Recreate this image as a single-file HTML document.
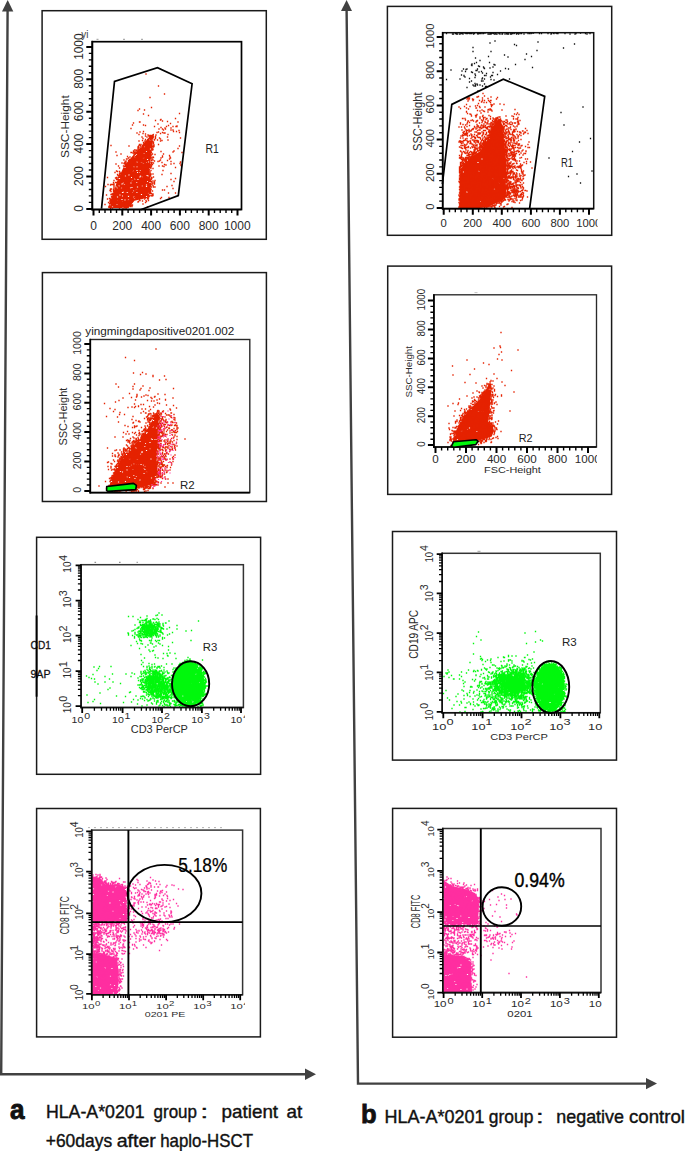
<!DOCTYPE html>
<html><head><meta charset="utf-8"><style>html,body{margin:0;padding:0;background:#fff;width:685px;height:1151px;overflow:hidden}svg{display:block}</style></head>
<body><svg width="685" height="1151" viewBox="0 0 685 1151" font-family="Liberation Sans, sans-serif"><rect width="685" height="1151" fill="#fff"/><path d="M7.6 10L1.2 1074.3H306" stroke="#414141" stroke-width="2.4" fill="none"/><path d="M7.7 0L13.3 11.5H2z" fill="#414141"/><path d="M316 1074.3L305 1068.5V1080.1z" fill="#414141"/><path d="M346.6 10L358 1083.6H647" stroke="#414141" stroke-width="2.4" fill="none"/><path d="M346.6 0L352 11H341z" fill="#414141"/><path d="M657 1083.6L646 1078V1089.2z" fill="#414141"/><rect x="42.1" y="10.7" width="224.20" height="228.60" fill="none" stroke="#1a1a1a" stroke-width="1.5"/><rect x="42.4" y="272.6" width="224.00" height="228.90" fill="none" stroke="#1a1a1a" stroke-width="1.5"/><rect x="36.6" y="537.3" width="224.00" height="237.00" fill="none" stroke="#1a1a1a" stroke-width="1.5"/><rect x="36.6" y="808.5" width="223.80" height="228.40" fill="none" stroke="#1a1a1a" stroke-width="1.5"/><rect x="387.4" y="6.4" width="224.30" height="228.90" fill="none" stroke="#1a1a1a" stroke-width="1.5"/><rect x="387.7" y="266.1" width="223.90" height="228.30" fill="none" stroke="#1a1a1a" stroke-width="1.5"/><rect x="392.5" y="531.5" width="224.00" height="228.60" fill="none" stroke="#1a1a1a" stroke-width="1.5"/><rect x="392.6" y="808.4" width="223.90" height="228.80" fill="none" stroke="#1a1a1a" stroke-width="1.5"/><path d="M108.1 208.0L116.9 181.8L124.2 165.7L133.0 155.5L143.2 143.8L151.2 135.0L154.1 133.6L152.7 143.8L150.5 161.3L149.7 173.0L151.2 181.8L151.2 193.4L147.6 197.8L134.4 200.7L128.6 208.0z" fill="#e52200"/><path transform="scale(0.5)" stroke="#fff" stroke-width="2.4" stroke-linecap="square" fill="none" d="M258 350h0m5 5h0m11 30h0m2-26h0m-19 34h0m7-31h0m-2 4h0m31 7h0m-6-46h0m7-2h0m6 12h0m-12-30h0m2-13h0m-22 40h0m-34 42h0m10 23h0m51-36h0m-70 51h0m62-98h0m-48 41h0m11-22h0m19 61h0m31-7h0m-66 20h0m63-52h0m-77 53h0m18-38h0m2 18h0m31-79h0m-39 63h0m36 20h0m5-85h0m28-11h0m-51 102h0m30-46h0m-19 22h0m-15 40h0m38-44h0m-35-3h0m6 16h0m41-33h0m-22-28h0m-4 34h0m13-33h0m1 29h0m-27 38h0m23-51h0m-36 27h0m56-3h0m-43 35h0m-11-34h0m51-42h0m-27-10h0m23 79h0m-19-52h0m-29 51h0m36-40h0m-36 33h0m48-82h0m-19 31h0m0 31h0m5-68h0m3-3h0m-2 51h0m-7 35h0m-21 5h0m48-105h0m2 95h0m-51-23h0m46 34h0m-14 3h0m-8-15h0m-39 27h0m30-16h0m-20 18h0m49-84h0m-28 63h0m23-89h0m-43 91h0m17-9h0m29-5h0m11-90h0m-61 96h0m32-31h0m19 6h0m-59 43h0m31-52h0"/><path transform="scale(0.5)" stroke="#e52200" stroke-width="2.7" stroke-linecap="square" fill="none" d="M250 385h0m21-58h0m30-41h0m-24 32h0m-14 16h0m-30 25h0m63-2h0m-10 30h0m-39 26h0m51-122h0m-5 38h0m-38 40h0m46-85h0m-38 86h0m3-27h0m41-59h0m-50 99h0m6-52h0m19 64h0m3-66h0m12 53h0m-25-56h0m-32 73h0m55-74h0m-15 54h0m-30-42h0m26 29h0m0-51h0m-7 10h0m12 55h0m-8 0h0m-36 21h0m39-19h0m-13-24h0m13-4h0m-49 29h0m-7 20h0m44 1h0m10-68h0m-19 31h0m15-40h0m18-21h0m-1 56h0m-11-13h0m10-47h0m-21 61h0m21 30h0m5-35h0m-4-42h0m-41 27h0m-20 55h0m41-61h0m-29 30h0m45 5h0m-35 4h0m38-27h0m15-19h0m-10 15h0m-57 34h0m36-28h0m-3 34h0m-39-8h0m4 4h0m29-38h0m41-18h0m-5 58h0m-32-13h0m-20 42h0m45-117h0m-54 78h0m-5 10h0m60-39h0m4-28h0m-73 90h0m42-55h0m15-48h0m-29 80h0m41-45h0m-56 44h0m61 8h0m-33-54h0m33-26h0m5-31h0m-32 70h0m-12 27h0m3 32h0m19-107h0m-61 112h0m53-100h0m-19 55h0m34-53h0m-3 1h0m-3 59h0m15-19h0m-31 3h0m-7 12h0m22-13h0m-29 7h0m15 17h0m-32-2h0m18-35h0m33 52h0m-17-21h0m-13-35h0m-28 60h0m69-41h0m-52 44h0m49-109h0m-17 15h0m-24 45h0m17-39h0m-11 10h0m21 54h0m13 16h0m-26 5h0m-9 1h0m28-48h0m-18-27h0m8 71h0m-42-22h0m65 14h0m-46-51h0m-6 65h0m47-84h0m-57 79h0m52-88h0m-5-13h0m-7 89h0m23-30h0m3 13h0m-79 45h0m49-101h0m14-7h0m-51 94h0m21-18h0m10-17h0m19-22h0m-3 0h0m6-53h0m-29 87h0m9-7h0m-11-34h0m-36 64h0m70-97h0m-17 45h0m22 36h0m6-111h0m-41 104h0m37-88h0m-77 122h0m37-4h0m-7-40h0m44-29h0m-42 47h0m43-88h0m-15 24h0m-28 81h0m35-28h0m-65 27h0m59-100h0m-41 73h0m55-72h0m-25 84h0m-37-22h0m62-64h0m-37 25h0m-12 17h0m9-2h0m26 8h0m-12-10h0m29 16h0m-45-4h0m19 10h0m-29 28h0m59-114h0m-20 27h0m-24 61h0m12 27h0m-23 13h0m38-35h0m-25-15h0m25-5h0m5-5h0m-1-19h0m-9-5h0m11 70h0m-8-33h0m-5-54h0m0 26h0m-34 48h0m21-35h0m24 53h0m-14-13h0m5-34h0m21-42h0m-27 6h0m26 3h0m-68 82h0m61-69h0m-17 38h0m-19 25h0m-9-8h0m18 2h0m-11-1h0m27-79h0m-8 86h0m27-74h0m-17-20h0m-51 106h0m-12 15h0m60-120h0m-7 25h0m1 75h0m-9-42h0m12-23h0m-7 20h0m0-20h0m24-41h0m-12 16h0m-25 94h0m40-39h0m-8-19h0m6 34h0m-37-31h0m-14 18h0m44-19h0m1 35h0m-1-89h0m8 101h0m-49-2h0m50-11h0m-27-73h0m10 31h0m2-14h0m-30 68h0m8 19h0m-20-8h0m40-68h0m3 23h0m-28 56h0m21-109h0m20 2h0m-8 86h0m-62 10h0m23-29h0m7-52h0m27 35h0m6 0h0m-35 16h0m18 10h0m12 3h0m-16-36h0m-23-4h0m41-41h0m-19 31h0m29-45h0m-39 64h0m-28 31h0m11 22h0m-16-1h0m54-8h0m-18 5h0m22-95h0m-25 14h0m9 6h0m21 12h0m-40 18h0m23-1h0m-6 23h0m26-51h0m-43 43h0m43-52h0m2 44h0m9 15h0m-21-56h0m20-47h0m-18 48h0m-58 65h0m15 18h0m29-12h0m-16-77h0m5 55h0m10-26h0m23-28h0m-11-13h0m-32 69h0m50-40h0m-50 59h0m20-44h0m21-47h0m2 48h0m-8-31h0m-40 73h0m57-106h0m-28 58h0m21-37h0m-43 79h0m3-12h0m16-50h0m-43 81h0m72-124h0m-4 102h0m-31-64h0m17 9h0m-16 21h0m-11 19h0m15-2h0m28-88h0m-7 90h0m-2 18h0m5-57h0m-54 24h0m41-14h0m10-20h0m-49 79h0m44-34h0m-31 51h0m34-29h0m-21-9h0m36-85h0m-52 116h0m56-110h0m-6 75h0m-57 34h0m23-59h0m37-69h0m-56 99h0m23-74h0m-10 50h0m-26 53h0m54-81h0m-56 50h0m1 9h0m37-63h0m25 32h0m10-55h0m-15-9h0m-8 10h0m-39 50h0m23-27h0m-27 27h0m23 11h0m30-64h0m-55 103h0m23-58h0m3-23h0m35 66h0m-20-4h0m13-90h0m18 74h0m-75-10h0m-11 22h0m13-27h0m57 52h0m18-130h0m-51 41h0m38-42h0m6 97h0m1 21h0m-25 11h0m-1-1h0m-45-44h0m71 26h0m-3-23h0m-65-4h0m69-63h0m-6 52h0m-79 36h0m82-53h0m-26-34h0m28 5h0m-67 54h0m-14 17h0m26-45h0m1 0h0m50 27h0m-19-62h0m-10 11h0m-20 25h0m63-45h0m-20 117h0m-62-55h0m-5 32h0m75-11h0m-76 2h0m0 16h0m82-102h0m-55 39h0m55-38h0m-3 15h0m-3 10h0m-27 99h0m-35-57h0m-8 8h0m13 62h0m57-30h0m-64-51h0m-11 32h0m3-12h0m26-40h0m33-34h0m11 54h0m-35-30h0m45-29h0m-11 70h0m10 27h0m-15 22h0m-71-8h0m-1 6h0m79-65h0m-26-35h0m-48 77h0m7-22h0m67-16h0m-63 15h0m52 57h0m-63-44h0m50-79h0m-61 123h0m90-90h0m-3 1h0m-2 32h0m-83 59h0m81-135h0m-28 30h0m31 53h0m-2-7h0m6-74h0m-15 127h0m5 0h0m10-75h0m-68 90h0m47-8h0m22-115h0m-74 66h0m64-86h0m-47 56h0m36-43h0m-6 6h0m17-21h0m7 95h0m-1 26h0m5-28h0m-78 1h0m63-91h0m8 117h0m5-17h0m-1 17h0m-84-8h0m1 10h0m81-27h0m-1-34h0m-81 57h0m84-90h0m0 15h0m-47 5h0m18 84h0m-56-3h0m48-96h0m5-3h0m-22 21h0m11 88h0m40-89h0m14-32h0m-16 45h0m10-59h0m-9 61h0m6-46h0m-83 126h0m0-28h0m64 10h0m17-10h0m6-118h0m-7 23h0m-38 10h0m-6 110h0m24-11h0m14-10h0m5-74h0m-39 92h0m38-100h0m-39 102h0m43-125h0m-39 21h0m36 9h0m-38-11h0m31 90h0m9-59h0m-10-67h0m-6 13h0m15 25h0m-57 19h0m-21 52h0m52-90h0m27 77h0m-2-10h0m-40 57h0m-1-108h0m22-24h0m22 73h0m2-32h0m-8 13h0m-25-36h0m15-20h0m-22 27h0m40 62h0m-83 19h0m24-59h0m8-36h0m-37 86h0m81-29h0m1 25h0m-68-31h0m79-78h0m-45 35h0m-48 70h0m-5-1h0m26-61h0m82-27h0m-21 77h0m1-33h0m-26-34h0m26 27h0m-2 23h0m-22-77h0m-25 49h0m47 1h0m-70 14h0m44-31h0m11-12h0m23 24h0m-62 11h0m52 24h0m-90 65h0m66-114h0m15 110h0m-42-79h0m57 22h0m-5-77h0m-80 109h0m16-48h0m73 29h0m-48-56h0m-42 98h0m85-74h0m-61-3h0m72-3h0m5-41h0m-106 116h0m20-39h0m86-92h0m-15 123h0m-54-64h0m54 45h0m-11 43h0m-11-140h0m-31 44h0m-31-27h0m100 25h0m-16 4h0m-56 96h0m-24-47h0m1 11h0m-16-7h0m4-18h0m5 26h0m12-77h0m-19 86h0m61-124h0m35 13h0m-90 118h0m15-86h0m72 51h0m-76-17h0m94 4h0m-103 49h0m65-131h0m-47 76h0m59 50h0m-51-61h0m49 66h0m-74-29h0m77 23h0m2-40h0m-61-7h0m27-43h0m33-107h0m-22 74h0m25-54h0m-17 62h0m31-105h0m19 108h0m-45-12h0m27 64h0m-26-184h0m17 105h0m16 5h0m-28-27h0m-6 41h0m46-21h0m-57-7h0m-13 2h0m68-3h0m-6-55h0m-50 56h0m-14 6h0m11 48h0m54-32h0m-41-46h0m-11 76h0m-16-39h0m29-6h0m30 27h0m9-22h0m-51-38h0m8 45h0m44-5h0m2-5h0m-57-32h0m71 42h0m-36-22h0m7 17h0m-31-8h0m0-22h0m69 69h0m6 33h0m-33 50h0m-13-132h0m23 63h0m3 48h0m-14-93h0m-3 46h0m31-68h0m-30 97h0m-1-99h0m0 72h0m9 59h0m3 13h0m-14 9h0m29-142h0m-1 82h0m-29-80h0m37 37h0m-38 28h0m25-67h0m-21 79h0m-8-68h0m25 83h0m-20-44h0m29-66h0m-10 10h0m-13 86h0m31-106h0m0 38h0m-5-12h0m0-1h0m7 72h0m-13 39h0m3-6h0m-26 23h0m2-120h0m12 58h0m2-2h0m-17 9h0m34-64h0m-37-21h0m21 16h0m-21 141h0m40-121h0m3 29h0m-22-45h0m18 67h0m-22 68h0m-2-126h0m-7 60h0m-4-64h0m19 106h0m-9-97h0m11 30h0m-4 19h0m4 54h0m-27-101h0m29 26h0m-29 20h0m13 8h0m-10-91h0m29 147h0m-9-58h0m4-68h0m16 71h0m-22-17h0m-13-6h0m21 19h0m-13-6h0m18-58h0"/><rect x="92.3" y="41.7" width="149.20" height="167.80" fill="none" stroke="#000" stroke-width="1.7"/><line x1="92.3" y1="40.85" x2="92.3" y2="210.35" stroke="#000" stroke-width="1.7"/><line x1="91.45" y1="209.5" x2="241.5" y2="209.5" stroke="#000" stroke-width="1.7"/><text transform="matrix(0,-1.1900,1.2400,0,83.20,211.71)" font-size="10.0" fill="#2a2a2a">0</text><text transform="matrix(0,-1.1900,1.2400,0,83.20,185.99)" font-size="10.0" fill="#2a2a2a">200</text><text transform="matrix(0,-1.1900,1.2400,0,83.20,153.43)" font-size="10.0" fill="#2a2a2a">400</text><text transform="matrix(0,-1.1900,1.2400,0,83.20,121.20)" font-size="10.0" fill="#2a2a2a">600</text><text transform="matrix(0,-1.1900,1.2400,0,83.20,88.75)" font-size="10.0" fill="#2a2a2a">800</text><text transform="matrix(0,-1.1900,1.2400,0,83.20,59.86)" font-size="10.0" fill="#2a2a2a">1000</text><text transform="matrix(1.2000,0,0,1.2300,90.16,229.60)" font-size="10.0" fill="#2a2a2a">0</text><text transform="matrix(1.2000,0,0,1.2300,112.22,229.60)" font-size="10.0" fill="#2a2a2a">200</text><text transform="matrix(1.2000,0,0,1.2300,141.19,229.60)" font-size="10.0" fill="#2a2a2a">400</text><text transform="matrix(1.2000,0,0,1.2300,169.82,229.60)" font-size="10.0" fill="#2a2a2a">600</text><text transform="matrix(1.2000,0,0,1.2300,198.66,229.60)" font-size="10.0" fill="#2a2a2a">800</text><text transform="matrix(1.2000,0,0,1.2300,223.93,229.60)" font-size="10.0" fill="#2a2a2a">1000</text><path d="M86.3 208.9H92.3M86.3 176.5H92.3M86.3 144.1H92.3M86.3 111.7H92.3M86.3 79.3H92.3M86.3 46.9H92.3M93.5 209.5V215.5M122.3 209.5V215.5M151.1 209.5V215.5M179.9 209.5V215.5M208.7 209.5V215.5M237.5 209.5V215.5" stroke="#000" stroke-width="2" fill="none"/><path d="M88.8 202.4H92.3M88.8 195.9H92.3M88.8 189.5H92.3M88.8 183.0H92.3M88.8 170.0H92.3M88.8 163.5H92.3M88.8 157.1H92.3M88.8 150.6H92.3M88.8 137.6H92.3M88.8 131.1H92.3M88.8 124.7H92.3M88.8 118.2H92.3M88.8 105.2H92.3M88.8 98.7H92.3M88.8 92.3H92.3M88.8 85.8H92.3M88.8 72.8H92.3M88.8 66.3H92.3M88.8 59.9H92.3M88.8 53.4H92.3M99.3 209.5V213.0M105.0 209.5V213.0M110.8 209.5V213.0M116.5 209.5V213.0M128.1 209.5V213.0M133.8 209.5V213.0M139.6 209.5V213.0M145.3 209.5V213.0M156.9 209.5V213.0M162.6 209.5V213.0M168.4 209.5V213.0M174.1 209.5V213.0M185.7 209.5V213.0M191.4 209.5V213.0M197.2 209.5V213.0M202.9 209.5V213.0M214.5 209.5V213.0M220.2 209.5V213.0M226.0 209.5V213.0M231.7 209.5V213.0" stroke="#000" stroke-width="1.4" fill="none"/><text transform="matrix(0,-1.1900,1.1316,0,69.10,158.04)" font-size="10.0" font-weight="normal" fill="#2a2a2a">SSC-Height</text><text transform="matrix(1.0458,0,0,1.3518,205.54,153.40)" font-size="10.0" font-weight="normal" fill="#222">R1</text><text transform="matrix(0.9964,0,0,1.1454,81.18,38.20)" font-size="10.0" font-weight="normal" fill="#444">yi</text><path d="M101.5 208.7 L114.5 81.4 L157.5 67.7 L192.1 83.8 L178.3 195.6 L140.7 209.7" stroke="#000" stroke-width="1.7" fill="none" stroke-linejoin="miter"/><path d="M96.5 39.3h2M123 39.3h2M141 39.3h2" stroke="#999" stroke-width="1"/><path d="M108.9 486.8L114.0 472.2L122.7 456.1L131.5 447.4L140.3 438.6L149.0 426.9L154.9 415.3L157.0 411.6L159.2 416.7L157.8 428.4L157.8 443.0L156.3 457.6L157.8 472.2L153.4 483.9L138.8 488.2L124.2 489.7L109.6 489.7z" fill="#e52200"/><path transform="scale(0.5)" stroke="#fff" stroke-width="2.4" stroke-linecap="square" fill="none" d="M275 929h0m18-28h0m-56 63h0m19 14h0m-2-45h0m36-40h0m-31 40h0m21 27h0m-32-43h0m43-30h0m-28 43h0m27 2h0m-6-27h0m-14 52h0m2-4h0m41-97h0m-41 40h0m34-42h0m8 25h0m-46 72h0m32-66h0m-32 43h0m20 10h0m-7 37h0m-40-32h0m10 20h0m42-96h0m-39 73h0m7-40h0m-8 9h0m6 46h0m-5-1h0m2-50h0m19 15h0m-33 59h0m38-95h0m-45 52h0m31 4h0m-7-21h0m-3 59h0m38-112h0m8 53h0m-9 26h0m17-65h0m-29 29h0m1 21h0m21 27h0m-58-12h0m58-66h0m-13 61h0m17-98h0m-7 57h0m-29-2h0m34-17h0m-21 24h0m-20 71h0m24-27h0m-65 16h0m64-33h0m24 23h0"/><path transform="scale(0.5)" stroke="#e52200" stroke-width="2.7" stroke-linecap="square" fill="none" d="M258 974h0m16-60h0m-8 17h0m-9 47h0m-23-45h0m71-82h0m-58 113h0m35-77h0m21 78h0m-55-47h0m1 34h0m38-13h0m-8-52h0m-38 89h0m10-30h0m59-39h0m-51 15h0m30 9h0m23 1h0m-21 9h0m-5-26h0m-3-25h0m-5 30h0m14-7h0m-45 40h0m2-3h0m54-87h0m-54 93h0m2 15h0m56-70h0m-44 38h0m53-82h0m-95 104h0m32-4h0m49-101h0m-8 114h0m-6-61h0m-6 41h0m-6 10h0m-41 10h0m54-70h0m30-71h0m-20 63h0m-20 16h0m-54 72h0m62-22h0m-70 19h0m36-34h0m-13-4h0m-14 22h0m61-91h0m18-17h0m-58 73h0m20-8h0m30-21h0m-27 32h0m6-40h0m-1 50h0m-16-32h0m48 13h0m-8 28h0m18-117h0m-73 77h0m62-8h0m-53 57h0m11-17h0m4-30h0m-11 22h0m-8-7h0m-9 31h0m27-39h0m8 13h0m-49 37h0m72-31h0m0-6h0m-2 30h0m9-53h0m-46 41h0m43-39h0m2-38h0m-17 99h0m-4-45h0m-45 15h0m44-17h0m17-8h0m16-41h0m-13 49h0m-31 15h0m21-46h0m21-40h0m-20 68h0m-43-5h0m39 7h0m22-23h0m-59 56h0m15 24h0m27-52h0m-14 21h0m29-30h0m-29 13h0m-26-5h0m-20 35h0m35-64h0m-27 62h0m68-26h0m-70 25h0m14 21h0m49-88h0m-32 64h0m-28-33h0m67 18h0m-46 0h0m46-18h0m-45-22h0m33-9h0m-19 66h0m14-80h0m-43 40h0m16 13h0m-21 50h0m-14-14h0m72-3h0m-57-13h0m64-21h0m3-41h0m-37-6h0m17 64h0m4-6h0m-28 31h0m-44-16h0m66-88h0m-43 78h0m16-5h0m20 15h0m32-51h0m-91 54h0m57-20h0m-9-30h0m-10-10h0m32-26h0m-59 105h0m65-86h0m-65 81h0m29-43h0m-28 26h0m48-20h0m-11-41h0m-22 35h0m18-1h0m-6 15h0m-30 35h0m55-81h0m4-19h0m-23 19h0m50-60h0m-34 120h0m23 10h0m-31-10h0m-23-41h0m19-14h0m43-69h0m-54 131h0m4-41h0m-23-2h0m35 30h0m-39-32h0m-10 43h0m41-30h0m22-34h0m-39 67h0m-18-16h0m66-50h0m13 44h0m-33 7h0m-24-31h0m44 28h0m-38 9h0m47-32h0m3-6h0m-6 23h0m-2-96h0m-32 46h0m15-4h0m-24 46h0m49 15h0m-10-36h0m-5 0h0m-46 4h0m26-31h0m16 63h0m-1 15h0m-49-29h0m52 31h0m12-6h0m-17 6h0m14-48h0m-23 2h0m31-48h0m-37 62h0m-25 35h0m46-35h0m-62 11h0m66-86h0m-4 100h0m-74-4h0m42 18h0m43-43h0m-70 44h0m39 0h0m19-76h0m-28-5h0m45 61h0m-76 29h0m22-35h0m-5-20h0m33-41h0m-25 90h0m-14-56h0m16-14h0m30-9h0m-65 81h0m75-20h0m-74-10h0m57 22h0m1-80h0m-2 77h0m-25-6h0m3-37h0m-12-6h0m8 8h0m40 41h0m-44-11h0m-1-47h0m55 16h0m-5 36h0m4-18h0m-35 12h0m17-27h0m7-75h0m-57 102h0m47 12h0m12-94h0m-34 65h0m24 35h0m23-113h0m-49 57h0m41-29h0m-34 51h0m-2-32h0m45-14h0m-3-47h0m-13 112h0m-19-52h0m-26 20h0m-12-1h0m64-55h0m-37 96h0m-22-7h0m43-80h0m-7 60h0m-25 19h0m13 17h0m25-59h0m-8-47h0m-20 79h0m33-75h0m-5 20h0m8 69h0m-15-59h0m11 33h0m-3-22h0m-22 4h0m36-41h0m-81 89h0m62-44h0m2 19h0m17 19h0m-67-47h0m67 18h0m-57 33h0m-2 10h0m24-30h0m-34 1h0m48-73h0m-8 3h0m19-12h0m-15 61h0m-33 26h0m44-40h0m-20-32h0m-7 92h0m-3-71h0m49-19h0m-43 51h0m-18 34h0m7-35h0m-17 20h0m69-77h0m-41 93h0m-37-28h0m51-53h0m21 13h0m-16 50h0m5-87h0m19-12h0m-9 62h0m-72 33h0m12-12h0m65-94h0m-2 44h0m-24 86h0m-22-1h0m28-62h0m-9-4h0m8-32h0m-18 47h0m19-9h0m-9 35h0m-25-33h0m54-81h0m-10 79h0m12-26h0m-56 81h0m44-57h0m-33 38h0m39 26h0m-9-79h0m7 7h0m-61 42h0m53-85h0m0 3h0m16-9h0m-48 44h0m26 35h0m-36 46h0m25-6h0m14-90h0m-28 48h0m-33 32h0m71-25h0m-40-10h0m-20 6h0m33-32h0m32 39h0m-1-37h0m-12 38h0m0-26h0m18-71h0m-30 119h0m-43 6h0m57-13h0m-7 0h0m-56-3h0m46 15h0m-13-1h0m6-32h0m-6 33h0m28-4h0m7-123h0m-11 26h0m-44 63h0m57 35h0m-62 0h0m70-32h0m-26 0h0m16 22h0m-18 22h0m12-57h0m9 46h0m-5-31h0m-75 42h0m33-38h0m-26 33h0m11 10h0m34-45h0m-50 22h0m48 13h0m11-2h0m-29-16h0m-23 0h0m60-87h0m6 3h0m2-18h0m-12 127h0m-8-21h0m26-84h0m-38 68h0m7-19h0m-48 39h0m55-86h0m5 56h0m16-60h0m-11 68h0m11-32h0m-25 46h0m-12 3h0m-7-48h0m41 11h0m3-37h0m-68 90h0m0-18h0m20-34h0m19-25h0m23-3h0m6 18h0m-18-16h0m-2 59h0m-46-12h0m16-10h0m1 20h0m-7 13h0m31-67h0m-54 79h0m77-51h0m2-45h0m-61 83h0m31-48h0m13 13h0m-22-28h0m-16 58h0m36-3h0m-30-7h0m45-55h0m-62 86h0m7-58h0m53 27h0m4-78h0m-55 92h0m62-105h0m-73 116h0m53-25h0m-32-16h0m52-35h0m-52 48h0m49-81h0m-52 59h0m35 12h0m-75 49h0m80-44h0m16-1h0m-3-100h0m-51 131h0m46-35h0m4 25h0m-22 12h0m21-65h0m2-3h0m-11 14h0m7-41h0m-31 55h0m-36-6h0m83-80h0m-6 22h0m-29 3h0m-36 32h0m13 80h0m-39 1h0m82-143h0m10 31h0m-22-31h0m23 61h0m-97 58h0m9-23h0m13 48h0m56-6h0m-56-71h0m63-72h0m-12 144h0m-31-81h0m-46 79h0m99-81h0m-80 34h0m86-100h0m-9 88h0m-50 63h0m1-93h0m-14 22h0m50-69h0m6-5h0m-66 88h0m30 58h0m-6-89h0m-20 90h0m72-97h0m-1 43h0m-17-97h0m10 4h0m14 31h0m-90 68h0m86-64h0m-69 40h0m28-30h0m-7 6h0m29-35h0m-55 66h0m73-33h0m0-24h0m-13-21h0m-66 86h0m29-41h0m-43 74h0m68 20h0m-57-49h0m52 48h0m23-6h0m8-22h0m1 1h0m-19-112h0m-11 147h0m3-125h0m20 111h0m-89-13h0m89-1h0m5-102h0m-70 45h0m47 77h0m-10-107h0m42 2h0m-67 110h0m57-35h0m-21-93h0m-42 50h0m64-6h0m-22-56h0m15 127h0m6-53h0m-91 37h0m96-26h0m-67-23h0m53-76h0m10 56h0m6-44h0m-60 140h0m43-141h0m-22 32h0m33-42h0m-23 149h0m25-30h0m-11 25h0m9-107h0m-45 21h0m28 85h0m-76 10h0m54-4h0m33-20h0m-69-38h0m75-10h0m4-52h0m-49 30h0m49 7h0m0 55h0m-7-38h0m-92 26h0m102-71h0m-81 51h0m10 66h0m10-89h0m-8 4h0m10 82h0m-29 3h0m81-108h0m-1 59h0m-64 49h0m3-90h0m67-32h0m-21-19h0m-24 38h0m-57 84h0m44-77h0m46 78h0m-53-69h0m37 77h0m19-64h0m-24 71h0m30-127h0m-55 127h0m38-8h0m-22-103h0m12 104h0m25-85h0m4-31h0m-16-24h0m-72 98h0m62 44h0m24-139h0m-3 96h0m-66-30h0m4 1h0m48-56h0m16 101h0m-89-8h0m62-84h0m26 86h0m3-44h0m1-50h0m-5 24h0m4 63h0m3-52h0m-15 83h0m-61-57h0m68 17h0m0-23h0m-23-41h0m5 112h0m19-69h0m5-30h0m-15 94h0m14-23h0m-20-98h0m-46 52h0m60 9h0m-55-10h0m64-33h0m-83 51h0m10-18h0m17-7h0m49 23h0m-28-55h0m3 114h0m18-5h0m11-139h0m-3 51h0m-41-5h0m42 22h0m-84 33h0m90-84h0m-82 67h0m31-30h0m50-42h0m-5 111h0m-45-70h0m-37 24h0m48-43h0m-15 23h0m-40 97h0m88-33h0m-29 24h0m26-67h0m-49-15h0m-15 16h0m75-36h0m-58 18h0m49 36h0m-81-4h0m80 5h0m2 24h0m8-117h0m-41 34h0m24-40h0m8-7h0m-44 57h0m25-50h0m3 146h0m17-84h0m2 0h0m-96 50h0m67-80h0m-3 114h0m-25-82h0m54-23h0m-71 42h0m21-37h0m-28 35h0m68-78h0m-19 144h0m17-6h0m-13 6h0m-68-18h0m89 5h0m-48 17h0m-46 4h0m27-72h0m14 70h0m21-112h0m-50 114h0m0-44h0m87-47h0m-9 80h0m3-144h0m5 104h0m-1-7h0m3-99h0m-69 80h0m71-30h0m-3 49h0m8-88h0m-87 74h0m-20 60h0m5-16h0m94-105h0m-77 133h0m85-136h0m-8 91h0m4-45h0m-31-31h0m24 101h0m-5-132h0m8 86h0m-1-20h0m-92 55h0m75-107h0m-65 87h0m84-100h0m-2 70h0m-4 61h0m2-37h0m-4 39h0m-76-36h0m82-4h0m4-49h0m-5 13h0m3-36h0m-17 120h0m-78-17h0m95-37h0m-14-83h0m15 25h0m3 3h0m-3 16h0m0 46h0m-79-10h0m3-8h0m-17 31h0m92-63h0m2-18h0m0-16h0m-5 82h0m-79-4h0m29 60h0m-38-34h0m88-43h0m-77 76h0m-25-2h0m84 0h0m-31 6h0m-21-75h0m72-17h0m2-21h0m-24-19h0m27-19h0m-14-1h0m-59 76h0m53-68h0m-69 91h0m27-49h0m-11 24h0m-30 52h0m95-6h0m2-61h0m-1 65h0m-44-72h0m0 94h0m46-83h0m-51-6h0m33-43h0m-47 135h0m21-1h0m-20 0h0m57-9h0m3-1h0m4-18h0m-64-50h0m61 8h0m4-26h0m-3 12h0m-1 28h0m-31-51h0m-14 110h0m4-112h0m41 37h0m-41 75h0m33-150h0m-69 91h0m36 55h0m12-115h0m-48 64h0m70-113h0m11 75h0m-20-47h0m-21 140h0m38-60h0m2-75h0m5 13h0m-3-14h0m9 3h0m-12 42h0m4 51h0m-96 42h0m88-20h0m-44-83h0m20 95h0m29-22h0m-69-49h0m71 29h0m-47-53h0m-21 21h0m71-53h0m-59 134h0m-41-23h0m56-89h0m24 101h0m3-2h0m-49 10h0m-3-78h0m34 77h0m29-47h0m-63-51h0m-23 29h0m-14 68h0m11-58h0m-2 31h0m28-61h0m13 92h0m-42 2h0m13-59h0m88 7h0m-5 7h0m-45-58h0m2 102h0m42-87h0m14 9h0m-17 59h0m15-53h0m-106-4h0m76-88h0m-27 33h0m54 30h0m-27 94h0m-39 5h0m-12-74h0m-11 11h0m-9-17h0m91 45h0m-3-121h0m-16 3h0m-10 154h0m28-55h0m-109 36h0m78-105h0m-7 117h0m43-46h0m8-84h0m-60 25h0m-11 111h0m2-90h0m19-97h0m55 93h0m32-9h0m-36 2h0m-28 88h0m27-23h0m-75 34h0m-24 4h0m88-133h0m-44 17h0m-60 116h0m94-13h0m-39-92h0m-43 34h0m30-15h0m-20 3h0m-7 0h0m89 66h0m-62-79h0m-23 24h0m78-4h0m-59-23h0m69 21h0m-57-19h0m-44 42h0m101 12h0m-87-30h0m-6 25h0m90-44h0m-7 57h0m-17-106h0m27 108h0m-56-142h0m63 133h0m-16-72h0m-99 70h0m117-4h0m-69-51h0m-50 12h0m105 5h0m-1-18h0m-29-31h0m30 13h0m-24-21h0m50 122h0m-51-133h0m41-3h0m-9 100h0m-98 10h0m29-45h0m67 18h0m-26-100h0m47 76h0m-16-9h0m-91 38h0m19-21h0m68-4h0m-51 86h0m47-66h0m-107 12h0m52-80h0m52 11h0m-50-4h0m-1 129h0m75-146h0m-20 28h0m1 64h0m7 31h0m-7-5h0m-60-59h0m7-29h0m-12 19h0m7-1h0m-18 13h0m74-15h0m-67-1h0m61-5h0m-37-10h0m50 83h0m-32-112h0m20 85h0m-88 17h0m43-61h0m56 41h0m-111 6h0m74 52h0m-36-113h0m81 103h0m-68-83h0m25-49h0m-16 9h0m47 21h0m-8 15h0m-33-5h0m-51 107h0m52-113h0m-55 55h0m103-24h0m-99 83h0m57-118h0m37 31h0m-13 58h0m-63 26h0m66-14h0m-30-104h0m43 23h0m-34 97h0m-31-116h0m-18 36h0m-16 81h0m94-35h0m-9 23h0m-59-89h0m84 19h0m-19-13h0m-44-26h0m21 116h0m33-138h0m-11 43h0m-3 38h0m-12 57h0m-7-137h0m26 59h0m-15-89h0m-8 22h0m17 64h0m6-32h0m-53 118h0m43-54h0m8-77h0m17 48h0m-11 15h0m-12 7h0m-101 12h0m102 16h0m18 9h0m-89-54h0m45-58h0m33 62h0m-25-81h0m14 102h0m-68-55h0m88 45h0m-15 11h0m0-72h0m-1-36h0m-93 90h0m-3 15h0m96-53h0m-63-11h0m-19 51h0m50-46h0m40 33h0m3 7h0m1 46h0m-108-21h0m108 41h0m0-105h0m-44 106h0m34-78h0m12-57h0m-134 132h0m109-146h0m-17 151h0m8-155h0m-42 31h0m11-107h0m29 45h0m-65 13h0m16 61h0m27 37h0m-18-87h0m13 52h0m-8 10h0m12-83h0m60 61h0m-40 6h0m5-80h0m-17-32h0m25 4h0m-32 36h0m45-29h0m5 107h0m-40-49h0m-32 50h0m44-9h0m-7-22h0m-23-59h0m-20 18h0m-11 38h0m-22-1h0m90-31h0m35 54h0m-44 32h0m38-129h0m-81-44h0m41 33h0m-5 75h0m-10-10h0m19 18h0m-33-36h0m9 58h0m8-73h0m-31 49h0m34 26h0m31-55h0m-6 2h0m-77 111h0m64-112h0m-65 18h0m39-4h0m-39 59h0m28-6h0m11-147h0m-49 96h0m80 72h0m0-113h0m-32 100h0m4-35h0m43-17h0m4-17h0m-53-34h0m39 118h0m-17-99h0m-24 47h0m28-13h0m54-30h0m-80 37h0m20-61h0m10 122h0m-25-81h0m58-61h0m-102 71h0m71 76h0m-11-90h0m23-16h0m-51-6h0m-19 38h0m51-7h0m21 21h0m3-33h0m-33 20h0m31 3h0m-15 10h0m-61 5h0m32 11h0m5-63h0m-3 8h0m35-49h0m-69 23h0m27 40h0m77 72h0m-63-5h0m-12-35h0m14-2h0m12-54h0m-60-22h0m50 9h0m30-79h0m-47 157h0m-26-26h0m38-17h0m5-3h0m69 41h0m-47-53h0m-95 10h0m89 82h0m-48-38h0m-12-50h0m40 41h0m24-47h0m-33-27h0m16-23h0m17 91h0m16 3h0m36 12h0m-37 19h0m14-70h0m9 18h0m7-7h0m-38-17h0m35 49h0m-53-17h0m10 24h0m37-20h0m-22-42h0m37 28h0m-38 6h0m-3 13h0m35-58h0m-28 21h0m-1 59h0m15-47h0m-3-21h0m15 81h0m8-5h0m-22 29h0m-6 0h0m29-35h0m-45 12h0m36-26h0m-2 15h0m10-14h0m-48 0h0m35 20h0m14-9h0m-8-12h0m-27 37h0m12-55h0m17 2h0m-16 11h0m4 10h0m-5-51h0m10 21h0"/><path transform="scale(0.5)" stroke="#e52200" stroke-width="2.6" stroke-linecap="square" fill="none" d="M336 941h0m6-90h0m9 49h0m-21-3h0m10-14h0m-5 48h0m9-32h0m-16 43h0m11-91h0m-5 43h0m-11-21h0m6-24h0m1 40h0m-7 40h0m0-101h0m-2 60h0m23-23h0m-13-21h0m7 47h0m-14 34h0m25-74h0m-1 13h0m-19 66h0m-3-60h0m22-35h0m-17 14h0m15 69h0m-4-74h0m-21 76h0m20 15h0m-11-101h0m25 29h0m-22 44h0m2-62h0m9 50h0m6-55h0m-10 22h0m-1-5h0m-6 37h0m14-18h0m-26-21h0m1-1h0m6 8h0m-4 37h0m1-76h0m20 92h0m-13-30h0m12-35h0m9 36h0m-3 24h0m-23 22h0m11-46h0m-19-20h0m11 42h0m6-11h0m13-1h0m-27-24h0m-2 22h0m13-64h0m2 57h0m-18-39h0m8 109h0m25-86h0m-30-27h0m23 33h0m5-3h0m3-13h0m-30 55h0m18-13h0m-4-59h0m-13 85h0m30-78h0m-5 67h0m-24 4h0m31-30h0m-27-41h0m4 51h0m0-1h0m3 5h0m-14 37h0m11-74h0m18-5h0m-23 3h0m24-22h0m-10 95h0m14-61h0m-29-44h0m24 58h0m-4 5h0m-7-41h0m2 67h0m1-31h0m-23-55h0m0 59h0m29-34h0m-13 6h0m-13 72h0m21-115h0m9 39h0m-30 70h0m3-82h0m-2 73h0m9-8h0m-4-7h0m16-85h0m4 37h0m-15 50h0m-7-75h0m21 85h0m-3 3h0m-5-40h0m-10-44h0m22 28h0m0 21h0m-20 5h0m10 28h0m-9-36h0m14-4h0m-9 10h0m-5-22h0m3 72h0m-13-7h0m19-106h0m-18-5h0m11 19h0m3 37h0m-9 41h0m13-24h0m10-4h0m-23-55h0m-2 108h0m-2-14h0m19-100h0m-25 21h0m13 17h0m-8 80h0m13-63h0m-2-26h0m9 19h0m-22 72h0m14-100h0m-4 84h0m-6-75h0m24-24h0m-26 116h0m21-25h0m-24-14h0m9-57h0m7 24h0m-6-30h0m2 80h0m-6 7h0m20-41h0m4-34h0m-29 54h0m30-22h0m4-24h0m-29 73h0m-4-46h0m0-23h0m9-20h0m20-21h0m-19 6h0m-3 24h0m17-6h0m-11 72h0m13-19h0m-26-5h0m8 8h0m3 4h0m-6-6h0m28-60h0m-28 79h0m14-101h0m-13 39h0m14 11h0m7 7h0m-13-29h0m21-4h0m-36 95h0m24-91h0m-4 58h0m-4-40h0m12-21h0m0 24h0m-4 12h0m-7 15h0m-10-86h0"/><path transform="scale(0.5)" stroke="#ff2ea0" stroke-width="2.4" stroke-linecap="square" fill="none" d="M323 963h0m0-73h0m-17 85h0m14-70h0m8-48h0m-12 89h0m0-72h0m8-12h0m0 57h0m-6 2h0m0 27h0m-1-87h0m0 26h0m-2 77h0m15-109h0m-13 19h0m5-13h0m-1 78h0m0-50h0m-7 15h0m32 14h0m-31 46h0m5-58h0m-4-29h0m3 13h0m5-11h0m-7 2h0m1 3h0m16 34h0m-14 28h0m-1 3h0m2-98h0m-1-2h0m-1 53h0m6 52h0m-2-112h0m-3 7h0m0 26h0m-10 96h0m17-53h0m-5-25h0m3 53h0m-4-21h0m6-79h0m5 92h0m-8-1h0m-17 35h0m9-35h0m-12 32h0m28-11h0m4-79h0m-17 65h0m-2-78h0m13 69h0m10 11h0m-20-19h0m-1-65h0m0 32h0m2-42h0m-1 90h0m-4-26h0m-5 42h0m7-85h0m9 18h0m-8-30h0m9 10h0m6 37h0m-14 43h0m7-62h0m-12 24h0m9-54h0m-9 49h0m10 10h0m-15 54h0m7-28h0m2-32h0m-2 47h0m-1 9h0m0-116h0m18 52h0m-13 3h0m-1-6h0m26 0h0m-10-79h0m-17 34h0m13 29h0m-12 54h0m30-24h0m-22 41h0m4-35h0m10-60h0m-9 13h0m3-23h0m-9 62h0m1 6h0m-5-11h0m19-15h0m-14-23h0m7-26h0m-8-11h0m16 36h0m-16 5h0m15 36h0m4-74h0m-20-11h0m22 36h0m-25-14h0m17 24h0m-7 30h0m7 2h0m1-3h0m-12 45h0m24-61h0m-8 4h0m-27-14h0m0-1h0m26 55h0m7-83h0m-14 4h0m2 47h0m-12-45h0m-7 26h0m11-6h0m6 70h0m1-103h0m-10 104h0m15-111h0m-22 32h0m20 16h0m-18 32h0m18 14h0m-18-92h0m3 60h0m16-47h0m-17 102h0m21-72h0m-26-13h0m17 62h0m-14-9h0m29-28h0m-11-39h0m8 47h0m-13-46h0m-7-6h0m-2 13h0m15 32h0"/><rect x="90.3" y="339.5" width="159.50" height="153.10" fill="none" stroke="#2a2a2a" stroke-width="1.4"/><line x1="90.3" y1="338.8" x2="90.3" y2="493.45000000000005" stroke="#000" stroke-width="1.7"/><line x1="89.45" y1="492.6" x2="249.8" y2="492.6" stroke="#000" stroke-width="1.7"/><text transform="matrix(0,-1.0600,1.0500,0,80.60,492.65)" font-size="10.0" fill="#2a2a2a">0</text><text transform="matrix(0,-1.0600,1.0500,0,80.60,469.22)" font-size="10.0" fill="#2a2a2a">200</text><text transform="matrix(0,-1.0600,1.0500,0,80.60,439.70)" font-size="10.0" fill="#2a2a2a">400</text><text transform="matrix(0,-1.0600,1.0500,0,80.60,410.46)" font-size="10.0" fill="#2a2a2a">600</text><text transform="matrix(0,-1.0600,1.0500,0,80.60,381.05)" font-size="10.0" fill="#2a2a2a">800</text><text transform="matrix(0,-1.0600,1.0500,0,80.60,354.79)" font-size="10.0" fill="#2a2a2a">1000</text><path d="M84.3 490.9H90.3M84.3 461.5H90.3M84.3 432.1H90.3M84.3 402.8H90.3M84.3 373.4H90.3M84.3 344.0H90.3" stroke="#000" stroke-width="2" fill="none"/><path d="M86.8 485.0H90.3M86.8 479.1H90.3M86.8 473.3H90.3M86.8 467.4H90.3M86.8 455.6H90.3M86.8 449.8H90.3M86.8 443.9H90.3M86.8 438.0H90.3M86.8 426.3H90.3M86.8 420.4H90.3M86.8 414.5H90.3M86.8 408.6H90.3M86.8 396.9H90.3M86.8 391.0H90.3M86.8 385.1H90.3M86.8 379.3H90.3M86.8 367.5H90.3M86.8 361.6H90.3M86.8 355.8H90.3M86.8 349.9H90.3" stroke="#000" stroke-width="1.4" fill="none"/><text transform="matrix(0,-1.0981,1.0488,0,66.60,445.60)" font-size="10.0" font-weight="normal" fill="#2a2a2a">SSC-Height</text><text transform="matrix(1.1764,0,0,1.0764,85.27,335.40)" font-size="10.0" font-weight="normal" fill="#222">yingmingdapositive0201.002</text><text transform="matrix(1.1518,0,0,1.1028,180.06,488.70)" font-size="10.0" font-weight="normal" fill="#222">R2</text><path d="M106.7 486.5L133.5 483.4L136.4 485.4L135.7 489.6L108 491.4L106.6 490.5z" fill="#00f80c" stroke="#000" stroke-width="1.6" stroke-linejoin="round"/><path d="M204.4 684.0L204.1 688.3L203.2 692.4L201.7 696.2L199.8 699.6L197.4 702.3L194.6 704.3L191.7 705.6L188.6 706.0L185.5 705.6L182.6 704.3L179.8 702.3L177.4 699.6L175.5 696.2L174.0 692.4L173.1 688.3L172.8 684.0L173.1 679.7L174.0 675.6L175.5 671.8L177.4 668.4L179.8 665.7L182.6 663.7L185.5 662.4L188.6 662.0L191.7 662.4L194.6 663.7L197.4 665.7L199.8 668.4L201.7 671.8L203.2 675.6L204.1 679.7z" fill="#00f80c"/><path transform="scale(0.5)" stroke="#fff" stroke-width="2.4" stroke-linecap="square" fill="none" d="M379 1342h0m-6 61h0m-7-11h0m34-27h0m-16 35h0m8-52h0m13 23h0m-24-4h0m5 37h0m9-68h0"/><path transform="scale(0.5)" stroke="#00f80c" stroke-width="2.7" stroke-linecap="square" fill="none" d="M284 1268h0m3-10h0m11 8h0m-4-2h0m8-15h0m-18-8h0m14 12h0m-13 7h0m20-2h0m-2 6h0m-13-6h0m-6 0h0m12 0h0m4 8h0m-19-21h0m16 9h0m-10 11h0m-8-20h0m2 13h0m21 5h0m-7 6h0m-2-3h0m-3-1h0m6-13h0m-2 3h0m8 9h0m7-15h0m-14 1h0m6 9h0m-2-6h0m0 3h0m-1 3h0m-19 4h0m18 4h0m3-5h0m-13-5h0m18 2h0m6 0h0m-12-17h0m5 12h0m2 11h0m-10 2h0m13-6h0m2 10h0m-1-7h0m-16-5h0m21-11h0m-12 22h0m-7-11h0m1 3h0m7 14h0m0-18h0m-18-4h0m2-5h0m25-5h0m-10 10h0m-17-9h0m29 11h0m-7-2h0m-19-4h0m3 6h0m18-3h0m-24 19h0m15-1h0m1-27h0m-7 14h0m13 8h0m-20-1h0m10-2h0m-17 1h0m30-15h0m15 19h0m-9-14h0m-16-7h0m-11 1h0m17-3h0m-19 12h0m8 0h0m-9 8h0m3-10h0m23 6h0m-9-1h0m-9-6h0m5-1h0m13 6h0m-7-4h0m-4-4h0m8 8h0m-8 7h0m-14-3h0m14-7h0m-3-2h0m-11 9h0m1 4h0m33-2h0m-33-7h0m0-6h0m10 7h0m2-17h0m-8-2h0m-1 11h0m15 20h0m-20-19h0m16 14h0m2-8h0m-13-4h0m16 6h0m-12-5h0m-3 10h0m13 3h0m-2-8h0m4-13h0m-6 6h0m8 12h0m-2-7h0m-11-3h0m7-4h0m13-12h0m-6 21h0m-10-15h0m-13 24h0m3-15h0m10 15h0m-10-23h0m-6 11h0m20 11h0m-15-8h0m4 5h0m10-11h0m-40 8h0m30-1h0m-1-2h0m5-12h0m19 27h0m-1-23h0m-23 6h0m-8 11h0m14-19h0m-17 17h0m15-11h0m-23 2h0m25-8h0m-6 16h0m-3-9h0m11-16h0m-6 26h0m-2-9h0m-6 1h0m5 11h0m8-1h0m-1-7h0m3 25h0m-18-18h0m24-14h0m-21-1h0m28 6h0m-21-14h0m7 17h0m-3 1h0m-5-2h0m11-5h0m-20 7h0m32-15h0m-9 18h0m11-17h0m-38-7h0m26 25h0m7-1h0m-26-13h0m2 8h0m23-4h0m-34-3h0m21-11h0m4 24h0m10-3h0m-21 6h0m23-8h0m-23 2h0m-11-13h0m25 4h0m-5 18h0m14-26h0m-10 15h0m4 4h0m-19-12h0m5 1h0m-1-5h0m1 14h0m-4-25h0m17 27h0m6-13h0m-29-12h0m5 11h0m8 3h0m3-12h0m-6 22h0m2-21h0m10 22h0m-6-2h0m26-6h0m-41 11h0m6-14h0m-2 16h0m36-24h0m-37 9h0m7-12h0m18 16h0m11 6h0m-49-11h0m36 9h0m3 4h0m-8-17h0m11-5h0m-25 9h0m1-11h0m11 16h0m-10 11h0m-9-21h0m37 7h0m-16 10h0m3 0h0m-20-11h0m-3-2h0m8 16h0m0 0h0m-10-19h0m17 3h0m-3-2h0m2-2h0m-8 21h0m19-17h0m-28 15h0m22-3h0m-18 9h0m12-29h0m-3 20h0m27-9h0m-21 15h0m4-14h0m-8 3h0m13 9h0m-20-19h0m4 3h0m-5 1h0m21-10h0m0 16h0m-24-8h0m9 14h0m9-29h0m16 24h0m-13-3h0m-4-9h0m-9 11h0m-5 4h0m4-8h0m12-5h0m-17 22h0m18-19h0m1-1h0m-9 20h0m-2-8h0m-13-17h0m5 13h0m-5-9h0m11 1h0m-2-22h0m15 36h0m-1-10h0m-20-6h0m-3 10h0m15-9h0m-12 2h0m13 0h0m-8 3h0m7 3h0m20-13h0m-32 15h0m9-6h0m-11-4h0m12 4h0m7-2h0m-26 7h0m4-11h0m10-2h0m0-3h0m-5 17h0m-9 8h0m14 3h0m18-8h0m-6-16h0m-8 8h0m-4-14h0m15 18h0m-5-13h0m-14 10h0m4-4h0m-6 8h0m15 4h0m-10-4h0m7-21h0m18 9h0m-19 5h0m7 9h0m-27-3h0m25 11h0m-16-18h0m19 0h0m-1-2h0m-11 10h0m7 7h0m-15-11h0m29-13h0m-34 20h0m8-5h0m27 10h0m-24-25h0m26 1h0m-15 3h0m-27 14h0m15-12h0m1 14h0m11-4h0m-6-11h0m9 17h0m5-12h0m-9 1h0m-21 8h0m37-21h0m-22 14h0m-4-3h0m19 12h0m3 0h0m18-21h0m-57 41h0m8-32h0m16 14h0m6 0h0m18-4h0m-21 8h0m35 20h0m-64-10h0m9-2h0m49-35h0m-2 30h0m-35-26h0m-5 5h0m25-18h0m-14 29h0m25 25h0m-26-20h0m13-8h0m-8-16h0m8 24h0m6-19h0m-3-22h0m-5 32h0m-14-5h0m-2 6h0m9 1h0m23-7h0m-13-8h0m-36 25h0m8-19h0m35 7h0m-36-4h0m-3-9h0m6 0h0m17 7h0m-2 7h0m-45 7h0m35-5h0m9 0h0m-7 4h0m-28-36h0m54 21h0m-23 18h0m12-20h0m8 11h0m37-5h0m-89 13h0m47-6h0m-14-7h0m-25 12h0m8-35h0m6 40h0m24 6h0m2 2h0m-43-18h0m44-7h0m-29-6h0m9 1h0m6-4h0m7-11h0m-19 3h0m-21 20h0m14 11h0m38 9h0m-28-7h0m-5-24h0m37 5h0m-15 10h0m16-35h0m-20 42h0m-10-1h0m24-22h0m-33 39h0m12-23h0m2-5h0m-29 8h0m28-19h0m22 3h0m-44-13h0m49 36h0m-4-14h0m1-4h0m-46 14h0m31 30h0m-27-20h0m11-21h0m-34-27h0m56 41h0m26-6h0m-43 2h0m49-5h0m-33-10h0m8 15h0m-31-17h0m25-2h0m-19 24h0m-25-25h0m53 115h0m-42 4h0m32 17h0m-9-4h0m13-15h0m-7 7h0m11-6h0m-15 17h0m12-42h0m-2 35h0m-3-8h0m-7-21h0m7 39h0m-15-61h0m5 55h0m1-25h0m4 26h0m12-22h0m-20-2h0m8-15h0m-12 8h0m-12 23h0m27-32h0m0 19h0m-1-4h0m-4 8h0m-4 6h0m-8-37h0m-1 51h0m25-15h0m-18-21h0m12 45h0m24-32h0m-25 7h0m-9-13h0m7 3h0m20 15h0m-27-23h0m-3 24h0m2-5h0m1 18h0m25-31h0m-12 21h0m-25-12h0m21-4h0m4-12h0m-6 23h0m-10-12h0m27 9h0m-4 11h0m-19 24h0m21-27h0m-1-5h0m-43-4h0m28-1h0m18-52h0m-18 76h0m-5-29h0m-4 12h0m12-8h0m5 25h0m4-34h0m-17-1h0m5 1h0m-3 17h0m5-36h0m23 38h0m-21 8h0m8-36h0m-5 40h0m0-45h0m-1 38h0m2-25h0m4-5h0m-21 12h0m7 6h0m-6-27h0m5 15h0m-9 16h0m18-16h0m14-19h0m-33 18h0m24 33h0m-16-6h0m0-43h0m-17 33h0m39-29h0m-17 14h0m-2 37h0m-9-24h0m-4-16h0m-10-8h0m17 19h0m7-3h0m7 14h0m-17-7h0m18-13h0m-6 33h0m11-56h0m-23 40h0m-4-6h0m21 17h0m-8-21h0m-10-25h0m14 16h0m-27-4h0m45 20h0m0 11h0m-27-45h0m10 40h0m-13 0h0m8-12h0m-20-20h0m34 24h0m-24-15h0m15 20h0m17-24h0m-31 27h0m8-14h0m4-37h0m-2 58h0m14 20h0m-3-33h0m2 0h0m-8-3h0m-8 5h0m5-7h0m5-31h0m-15 32h0m-15-11h0m6-11h0m9 14h0m11 19h0m19-3h0m-29-42h0m20 16h0m-18 16h0m37 0h0m-23-51h0m-15 38h0m10 16h0m3-10h0m3 7h0m-21 8h0m-2-11h0m28 0h0m-5 22h0m-4 6h0m-20-23h0m-3-8h0m27 21h0m-7-20h0m4 23h0m-4-18h0m-3 8h0m-13 35h0m-4-43h0m31-1h0m-9 5h0m7-7h0m-10 38h0m4-61h0m-5 13h0m9 18h0m3-12h0m-26 5h0m9 18h0m-5-37h0m-11 19h0m41-18h0m3 16h0m-21-1h0m7 18h0m-18-26h0m8-7h0m-10 14h0m4 12h0m3 0h0m18 10h0m-30-29h0m24 7h0m-7 20h0m1-25h0m7 14h0m-12 38h0m5-39h0m-9 17h0m2-25h0m-4 13h0m10 6h0m-13 22h0m8-25h0m-3-3h0m19 4h0m-3-6h0m0-10h0m-10-14h0m-2 23h0m-14-12h0m40 19h0m-22-10h0m9-3h0m-23 17h0m2-12h0m11 14h0m-4-19h0m2 8h0m15 16h0m-14 0h0m-14-10h0m11-8h0m1 9h0m-13 0h0m23-20h0m-29 4h0m26-10h0m-1 15h0m-3-10h0m-1 14h0m0 10h0m11-29h0m-16-7h0m8 26h0m-15-1h0m4-13h0m18-13h0m-13 47h0m3-33h0m1-14h0m-6 14h0m42 31h0m-41-27h0m8 29h0m6-59h0m-13 2h0m-9 21h0m36 37h0m-14-46h0m-19 8h0m15 49h0m9-46h0m-19 14h0m15 2h0m-25-4h0m30 17h0m-26-20h0m11 22h0m-8-15h0m20-6h0m-17-7h0m-10 4h0m29 15h0m-35-9h0m35 19h0m-18-29h0m-2 15h0m-8-23h0m-7 4h0m28 43h0m-31-40h0m21 14h0m18-12h0m-25 26h0m10-17h0m26 5h0m-44 18h0m10-23h0m-2 29h0m37-43h0m-33 27h0m-16-6h0m33-3h0m-22 13h0m22-26h0m13-6h0m-14 22h0m-30-3h0m12-7h0m10-36h0m-17 22h0m37 26h0m-15-5h0m4-43h0m-7 58h0m2-44h0m-1 23h0m1-14h0m-2 17h0m3-20h0m10-4h0m-11 12h0m-32-15h0m36 15h0m-14-28h0m11 41h0m-14-4h0m16 0h0m-20 14h0m13-25h0m-5-4h0m4 1h0m9 1h0m-17 26h0m-1-14h0m7-10h0m18-12h0m0 20h0m-44-4h0m26 7h0m-2-4h0m22-4h0m-23-10h0m-6 33h0m9 6h0m-20-18h0m33-10h0m-19 8h0m-6 1h0m7-8h0m2 13h0m18-12h0m-16 14h0m0-12h0m15 22h0m-9-47h0m9 37h0m1-27h0m2 30h0m-15-25h0m-19-16h0m22 42h0m-4-29h0m0 1h0m-25 10h0m24-4h0m16-19h0m-24 33h0m-8 0h0m26-4h0m-2 19h0m-5-24h0m-11-13h0m27-6h0m-8-3h0m-6 7h0m-1 42h0m0-19h0m-6-9h0m-7-13h0m25 35h0m-13-39h0m-13 27h0m-5-1h0m32-6h0m-2 4h0m6-2h0m-2 3h0m-24 2h0m-5 2h0m28-18h0m-21 6h0m-2 23h0m-8-21h0m26 0h0m-8 15h0m3-18h0m7-5h0m-30-6h0m17 45h0m-25-19h0m9 6h0m28-28h0m-14 8h0m-8-13h0m19 0h0m-18-1h0m4-22h0m12 34h0m-14 23h0m14-21h0m-8 27h0m7-15h0m-16-13h0m11 8h0m-29 5h0m30-26h0m14 15h0m-12 10h0m-15-21h0m4 43h0m17-26h0m-15-10h0m4-5h0m12 25h0m-11-36h0m-2 6h0m3 16h0m-8 30h0m18-22h0m0-14h0m-12 7h0m-12 9h0m1-19h0m2 31h0m-20-15h0m40-5h0m-7 21h0m10-41h0m-12-8h0m0 41h0m1-21h0m-9 18h0m14-25h0m10 17h0m-33-3h0m13-15h0m5 10h0m-5 16h0m-22 32h0m30-69h0m-17 11h0m27 19h0m-8 9h0m7-18h0m13 2h0m-17-24h0m-5 19h0m-11 0h0m9-2h0m13 11h0m-24-3h0m29-10h0m-9 27h0m-8 12h0m10-31h0m-21-12h0m16 36h0m-5-37h0m29 22h0m-26-19h0m-16 8h0m-28 29h0m16-13h0m-1-36h0m35 37h0m-20-6h0m-3-9h0m2-24h0m-2 37h0m9-20h0m-15 32h0m11-32h0m2-13h0m7 35h0m-1-23h0m23 25h0m-9-8h0m-6-2h0m-1 3h0m-11-5h0m-16-10h0m5 33h0m25-43h0m-15 2h0m-3 13h0m9 11h0m-2-11h0m-5-18h0m-2 6h0m2 19h0m2-8h0m-17-16h0m12 31h0m8-25h0m-14-8h0m-14 30h0m42 0h0m-13-26h0m7 21h0m1-15h0m-4 38h0m-29-61h0m22 41h0m-6-15h0m-3 3h0m5 16h0m-1 7h0m5-3h0m1-37h0m-16-6h0m2 24h0m29 32h0m-7-25h0m-2 10h0m-17-21h0m27-3h0m-21 28h0m25-2h0m-4-11h0m-22 18h0m12-56h0m2 61h0m-16-29h0m2 17h0m-3 15h0m11-9h0m-36-18h0m23-31h0m11 12h0m-16 10h0m3 0h0m-14-32h0m22 39h0m12-3h0m-22 3h0m12 14h0m-30-21h0m19-5h0m9 31h0m3-13h0m20-9h0m-46 28h0m-1-33h0m23 11h0m1-4h0m-4-11h0m-17 21h0m8-8h0m12-8h0m26 12h0m-9 5h0m-21-26h0m12 14h0m7 1h0m-24 9h0m33-10h0m-40-1h0m6 34h0m-1-31h0m15 24h0m-2-4h0m3-30h0m1 12h0m10-13h0m-15-9h0m1 6h0m15 0h0m7 15h0m-26-27h0m9 19h0m2-17h0m0 15h0m-11-5h0m-3 7h0m7 13h0m5-6h0m10-2h0m-8-3h0m7 47h0m-13-53h0m-7 14h0m2-17h0m2 1h0m4 20h0m2 8h0m6-10h0m-20 15h0m9-44h0m28 15h0m-28-5h0m-26 16h0m32 2h0m-7 5h0m18-8h0m-33 15h0m26-8h0m-10-7h0m-9-12h0m23 15h0m-28-24h0m15 2h0m7 9h0m-6 30h0m-22-17h0m17-5h0m14-3h0m-2-6h0m7 22h0m-16-17h0m7 8h0m-15-6h0m-15-22h0m31 39h0m0-25h0m-20-9h0m30 23h0m-4-11h0m-20-16h0m7 18h0m8 22h0m-8-38h0m14-4h0m-27 28h0m21 2h0m-5-38h0m1 18h0m9 15h0m-33 25h0m1-9h0m-3-13h0m0 1h0m10-4h0m16 6h0m6-4h0m-25-10h0m24-5h0m2 5h0m7-3h0m-14 1h0m-20 14h0m13 17h0m1-16h0m18 15h0m-1-18h0m-31-5h0m0 1h0m35-8h0m-8 13h0m-28 7h0m8-4h0m17 9h0m-15-29h0m7 3h0m-9 14h0m21 20h0m-20-47h0m8 26h0m13-26h0m0 4h0m4 26h0m12-3h0m-31 21h0m15-16h0m-12 16h0m7-26h0m-7-12h0m-26 44h0m39-20h0m6 1h0m-21-15h0m16 3h0m-11-7h0m2 22h0m-29-28h0m28 17h0m0 4h0m7-24h0m8 7h0m-39-5h0m21-9h0m-9 36h0m24-47h0m-2 26h0m-23 9h0m6 17h0m-3-22h0m1 16h0m-2-22h0m33 29h0m-19-31h0m-12 7h0m5-16h0m-5 2h0m27 39h0m-21-9h0m-2-26h0m26 0h0m-33 21h0m-13-11h0m39-8h0m-17 18h0m2-5h0m11 21h0m-21-38h0m-8 16h0m20 12h0m-9-15h0m-8-1h0m-11 32h0m22-39h0m0 25h0m19-17h0m-18 21h0m0-17h0m7-21h0m-24 39h0m20-27h0m5 25h0m-8-22h0m5-14h0m5 37h0m-2-7h0m-11 0h0m0 3h0m-11-8h0m20 1h0m-7-29h0m0 29h0m-11-13h0m17 18h0m4 19h0m-16-20h0m18 4h0m-4-36h0m-9 37h0m17-32h0m-15 39h0m-9-15h0m9 12h0m6-27h0m-13 17h0m-5 4h0m18-26h0m-16 31h0m8-30h0m1-7h0m4 17h0m10 0h0m-5 31h0m3-6h0m-14-54h0m3 32h0m3-10h0m0 1h0m-22 35h0m-8-40h0m13 26h0m31 1h0m-22-14h0m27 22h0m-36-13h0m0-11h0m7 6h0m4-14h0m-8 1h0m24 21h0m-28-8h0m23 12h0m-1-34h0m1 42h0m-29-32h0m14 27h0m18-10h0m-3-3h0m-27 11h0m19-26h0m19 36h0m-9-37h0m11-9h0m-25 7h0m12-6h0m-11 19h0m-12-4h0m16 14h0m8-18h0m-2 27h0m2-24h0m-15 12h0m37-28h0m-40 21h0m9-6h0m4-12h0m-11 6h0m14 7h0m-16 39h0m1-52h0m5 12h0m16 12h0m-7-20h0m-3 22h0m11-1h0m-11-3h0m6 0h0m-6-12h0m-7 23h0m10-25h0m-10 27h0m-3 16h0m23-24h0m-22 6h0m-16-12h0m23-1h0m4-8h0m2 33h0m-23-45h0m33 20h0m-18-20h0m0-9h0m-8 29h0m-6-9h0m-3-5h0m16 5h0m4-7h0m12 1h0m-32 17h0m12-6h0m7-16h0m12 1h0m-10 29h0m-20 17h0m18-24h0m5 13h0m-10-24h0m-4 13h0m-16 1h0m14 14h0m39-15h0m-23-11h0m-13 1h0m-10 31h0m14-38h0m7 10h0m4-21h0m0 33h0m18 14h0m-31-25h0m13 8h0m-9-8h0m-2-15h0m16-6h0m-8 41h0m-14-56h0m30 54h0m-15-28h0m-2 7h0m1 17h0m-14 0h0m5-18h0m0 3h0m19-8h0m-20 15h0m18-11h0m-19 5h0m15 11h0m-22-44h0m29 68h0m23-28h0m-12-1h0m-7 19h0m11-14h0m-7 13h0m2-4h0m0 9h0m-1-8h0m-2-6h0m2-5h0m13 10h0m-17-24h0m-8 24h0m16-13h0m-4-15h0m17 13h0m-15-7h0m-3-1h0m-4 4h0m1 27h0m-12 5h0m22-22h0m-18 15h0m22-13h0m0 8h0m-9-17h0m-13 5h0m2-23h0m-1 35h0m12-9h0m-8-8h0m12-6h0m-25-9h0m15 8h0m13-3h0m-8 23h0m4-10h0m-11 9h0m8 17h0m-22-19h0m15-4h0m4-26h0m9 2h0m8 16h0m-7 11h0m-2-10h0m-21-8h0m13-19h0m3 22h0m1 2h0m1-12h0m8 38h0m-24-32h0m5 31h0m7-4h0m0-6h0m-5-10h0m-3 18h0m-2-11h0m1 5h0m7-29h0m6 44h0m7-25h0m6-5h0m-24 29h0m10-57h0m-6 35h0m-4 20h0m20-2h0m-15-17h0m12 1h0m-25 22h0m22 4h0m-13-36h0m10 10h0m7-4h0m-18-5h0m18 19h0m-15-26h0m0 10h0m3 4h0m13 8h0m-9 0h0m-10 12h0m-3-13h0m5-11h0m13 38h0m10-10h0m-25-28h0m16 22h0m-6-28h0m-16 45h0m20-34h0m9-1h0m-17 10h0m-11-37h0m-3 54h0m36-17h0m-10-20h0m-2 39h0m-10-10h0m-5-20h0m7-4h0m-15 22h0m-7-29h0m24 14h0m-5-8h0m13 25h0m2-17h0m-8 15h0m3-13h0m-10-7h0m-7-2h0m16-1h0m-16 8h0m2-8h0m9 8h0m-15-28h0m16 41h0m-22-12h0m35-4h0m-30 2h0m20-12h0m4 8h0m-12 9h0m-6-6h0m6 5h0m-2-25h0m9 26h0m-15 10h0m4-44h0m1-5h0m1 28h0m1 16h0m6-24h0m0 5h0m-9 7h0m10 16h0m2 3h0m6 2h0m-7-5h0m-14-10h0m37 8h0m-25 5h0m-5-19h0m0 2h0m11-23h0m-8 19h0m3 22h0m-7-28h0m-11 9h0m9-10h0m8 42h0m-1-34h0m-4 25h0m8-18h0m-21-20h0m34 41h0m-11-48h0m-17 31h0m24-15h0m-18-16h0m20 30h0m-15-17h0m-6 7h0m-2 21h0m17-1h0m-9-21h0m6 5h0m-13 7h0m5-9h0m-14-8h0m11 44h0m9-26h0m-24 21h0m-2-47h0m26 34h0m-16 4h0m32-7h0m-14-14h0m-11 15h0m-6 14h0m15-51h0m-2 37h0m0 11h0m-11-21h0m4 11h0m5-3h0m15 4h0m-26 1h0m10-4h0m-8-22h0m5-3h0m-1 4h0m-1 16h0m4-16h0m-3 10h0m-5 0h0m17-11h0m-4 23h0m9-23h0m-7 23h0m-5-20h0m-21-4h0m10 16h0m14-38h0m11 23h0m-17 5h0m8-13h0m-9 26h0m3 9h0m-16-10h0m25 8h0m-11-1h0m-36-14h0m46-6h0m22 3h0m-30-17h0m-11 39h0m10-5h0m0 9h0m-15-12h0m7-50h0m12 48h0m-17-33h0m10 38h0m-15-13h0m27-11h0m6 2h0m-22-5h0m3-2h0m11 40h0m-11-2h0m-8-19h0m9 4h0m-15-7h0m19 13h0m13-9h0m-16 22h0m7-9h0m-11 13h0m20-9h0m-12-31h0m-7-12h0m13 1h0m0 25h0m-6-16h0m21 3h0m-19-1h0m1 41h0m10-50h0m-28 21h0m14 20h0m8-20h0m-14-19h0m10 10h0m-8 27h0m3-40h0m11 46h0m1-11h0m-10-2h0m10-19h0m-2 9h0m-14-15h0m-15 9h0m22 6h0m0 1h0m-23 9h0m20-23h0m11 18h0m-11-30h0m18-5h0m-12 31h0m2-31h0m-5 35h0m1 5h0m-1-9h0m-12-19h0m23 15h0m-10-15h0m-17 27h0m28-15h0m-14 1h0m-1 31h0m16-22h0m-12-43h0m-8 44h0m-7 1h0m17-30h0m-16-11h0m11 40h0m-4-22h0m17-11h0m-8 39h0m-11-15h0m12 21h0m-12-4h0m21-10h0m-25-4h0m17 26h0m-2-28h0m0-7h0m-2-10h0m1-17h0m0 19h0m-4 20h0m9-15h0m1-2h0m-7 4h0m-7 10h0m20-29h0m-21 22h0m-8-16h0m21 31h0m-6 20h0m-20-9h0m29-34h0m-16-9h0m0 37h0m5-4h0m5-28h0m2 43h0m-12-10h0m-7-21h0m19 8h0m-4-6h0m6 35h0m-1-4h0m-13-38h0m-9 7h0m17 11h0m-10-20h0m-5 14h0m14-5h0m21 6h0m-32-7h0m-8-14h0m33 18h0m4-15h0m-19 29h0m-2-6h0m-7-16h0m5-8h0m-5 3h0m30-24h0m40 24h0m-50 3h0m5 3h0m-3-11h0m20-32h0m-4 23h0m15-24h0m0 31h0m16 2h0m-2-9h0m-10-14h0m18 29h0m-5 25h0m-27 8h0m16-47h0m0-1h0m-19 54h0m35-21h0m8-18h0m-19 7h0m19-18h0m-18-16h0m-6-1h0m-29 12h0m35 1h0m11 9h0m0 12h0m-40 14h0m29-42h0m9-9h0m-29 74h0m-1-69h0m13-4h0m-29 52h0m22-65h0m26 13h0m1 27h0m-48-8h0m29 42h0m-31-18h0m-2-25h0m49 17h0m-18-1h0m16-10h0m1 4h0m6 13h0m-24 18h0m-13-42h0m15 22h0m-15-32h0m0-4h0m11-3h0m-6 33h0m7-30h0m24 5h0m-22 34h0m13-15h0m-28-26h0m-6 63h0m1-52h0m-7-6h0m7 24h0m38-19h0m-39-17h0m4 49h0m9 26h0m16-49h0m-12 3h0m-10 5h0m22 5h0m-16 10h0m-25-11h0m24 16h0m11-11h0m-10-25h0m6-1h0m17 43h0m-12-32h0m3 17h0m2-35h0m3-14h0m-30 23h0m-8 0h0m14-26h0m-3 27h0m27-25h0m-2 72h0m7 4h0m-44-13h0m19-16h0m-16 16h0m22-50h0m-28 50h0m23-35h0m2-9h0m0-8h0m3 29h0m-26-22h0m37 15h0m-29-5h0m34 16h0m14-6h0m-26 39h0m21-60h0m-19 55h0m9-12h0m-26 15h0m27-45h0m-37 30h0m27-53h0m4 25h0m-20-32h0m4 62h0m-7-1h0m34-36h0m-16 47h0m-6-28h0m-27 17h0m46-11h0m-34 24h0m-12-28h0m35 26h0m-28-59h0m8 36h0m43-5h0m-10-24h0m-21-2h0m-2 3h0m-1 60h0m1-19h0m3 9h0m-27-44h0m50 30h0m-29 17h0m6 7h0m-23-23h0m43-20h0m-3-35h0m-13 62h0m8 13h0m-32-46h0m26 1h0m-15 19h0m39-18h0m-26 42h0m7-4h0m0-63h0m3 9h0m-9 6h0m-30 7h0m9 28h0m0 20h0m15-67h0m26-5h0m-13 55h0m14-12h0m-21-51h0m0 58h0m6-7h0m-8 19h0m-13-55h0m-9 14h0m19 48h0m23-20h0m-35-56h0m25 31h0m1 19h0m-13 13h0m5-8h0m6-26h0m-5 51h0m-24-28h0m20-27h0m22-14h0m-24-11h0m-11 19h0m3 18h0m34 7h0m-45 32h0m11-32h0m8-40h0m-11-3h0m23 3h0m16 22h0m-30-15h0m0 67h0m-12-53h0m24 31h0m9-16h0m-7-32h0m1 16h0m-43 25h0m23-46h0m-2 53h0m30-7h0m-31-43h0m13 38h0m11 4h0m-25-41h0m37 24h0m-9 42h0m-34-11h0m-6 1h0m14-15h0m22 26h0m-32-25h0m41-38h0m-1 9h0m-19 29h0m1-51h0m-11 56h0m-3-4h0m31-40h0m-12 71h0m-35-55h0m6 0h0m34-18h0m-15 51h0m4-19h0m11 13h0m-5-11h0m-25 15h0m24-16h0m-16-3h0m4 45h0m-24-50h0m15-5h0m35 32h0m-3-30h0m-30 15h0m3 18h0m21-27h0m9-25h0m7 24h0m-11 5h0m8-12h0m-15-14h0m17 15h0m-29-5h0m-28 17h0m21-8h0m34 28h0m-20-50h0m10 61h0m-32-39h0m19-24h0m7-7h0m-8 57h0m5 7h0m-18-45h0m-18 15h0m44 41h0m-33-24h0m24-16h0m3-31h0m10 61h0m-35-31h0m44-8h0m-34-23h0m35 35h0m-5 4h0m-29-27h0m30 37h0m-11-1h0m-44-11h0m0 18h0m30-23h0m27 0h0m-6 28h0m-7-32h0m-25-31h0m15 57h0m9-52h0m-23 28h0m-1 25h0m9-11h0m26 9h0m-18-9h0m-18-12h0m-9-1h0m-3 26h0m2-42h0m37 9h0m-6-16h0m-12 16h0m10-8h0m-28 24h0m8-8h0m3 40h0m8-23h0m-23-6h0m28-16h0m-33 13h0m52 2h0m-33-32h0m21 32h0m11-24h0m-40 51h0m14-73h0m10 53h0m22-18h0m-40-30h0m15 10h0m9-11h0m-23-4h0m38 20h0m-44-16h0m37 21h0m12 32h0m-13-46h0m-22 21h0m23-9h0m-31-14h0m4 65h0m11-62h0m-3 10h0m6 1h0m-12 0h0m-10 39h0m31 13h0m-9-49h0m-15-26h0m-13 20h0m10 56h0m1-58h0m17-2h0m8 8h0m10 38h0m-16-14h0m-23-19h0m-1 33h0m30-36h0m-18-30h0m20 46h0m-28 14h0m19 25h0m5-20h0m-29 2h0m27-31h0m-12 50h0m16-27h0m8-31h0m-35 11h0m17-21h0m8 6h0m-3-4h0m9 28h0m-44-30h0m23 66h0m14-37h0m2 13h0m-32-15h0m40-16h0m-12 46h0m-26-2h0m21-55h0m-10 20h0m0-22h0m10 25h0m-14-32h0m11 78h0m17-58h0m8-5h0m-9-1h0m-16-8h0m-2 35h0m16-11h0m-10 6h0m28 6h0m-40-47h0m1-4h0m17 55h0m-15 13h0m-5-52h0m8-16h0m-17 34h0m1 22h0m12 0h0m-2 11h0m8-32h0m-12-22h0m17 36h0m16-30h0m2 32h0m-32-21h0m-17 8h0m29-14h0m-2 1h0m-10-18h0m11 67h0m-15-15h0m16-39h0m-21-12h0m44 60h0m-24-17h0m-24 19h0m6-55h0m35 65h0m0-1h0m-29 7h0m42-38h0m-25 40h0m12-5h0m-4-79h0m17 40h0m-61 26h0m1-2h0m-1-50h0m-3 39h0m-5-15h0m45 44h0m25-47h0m-65 10h0m59 14h0m-10-60h0m-52 46h0m72-2h0m-3-10h0m-11-26h0m-53 0h0m-3 22h0m-3 10h0m30 45h0m28-13h0m-56-21h0m13 23h0m18 10h0m-30-38h0m38-51h0m9 85h0m-11 4h0m-34-58h0m0 0h0m32-31h0m0-2h0m33 40h0m-6 32h0m-1-4h0m-34-64h0m-14 78h0m35 5h0m-3-82h0m-8 86h0m19-83h0m-1 7h0m-37 71h0m-16-63h0m54-7h0m-49 2h0m47 62h0m-58-27h0m39-52h0m-30 79h0m17-76h0m45 51h0m-30-52h0m-37 50h0m1 1h0m55-44h0m11 35h0m-10 30h0m-32 16h0m35-19h0m-16-66h0m-2-1h0m14 12h0m9 31h0m-65 14h0m66-22h0m-1 29h0m-9-56h0m9 46h0m-60 15h0m60-29h0m1 2h0m-2 15h0m-62 5h0m63-17h0m-36-47h0m-6 2h0m7-6h0m17 5h0m-45 26h0m64 15h0m-62 27h0m6-55h0m53 14h0m-47-25h0m41 74h0m-47-1h0m27-76h0m30 33h0m0 6h0m-68 6h0m22 43h0m39-73h0m-50 58h0m54-51h0m-13 59h0m10-59h0m-52 60h0m50-65h0m-32-16h0m28 77h0m-18 10h0m29-51h0m-48-32h0m45 62h0m-52 9h0m21-85h0m-7 10h0m35 11h0m-45-6h0m43 5h0m6 53h0m-62-49h0m51 64h0m10-11h0m-49-62h0m47 16h0m-23 68h0m-4-93h0m-37 52h0m72-9h0m-6-20h0m-1 1h0m1 6h0m-11-22h0m-30-4h0m24-1h0m-19 88h0m35-26h0m-31-63h0m-17 80h0m51-27h0m0 1h0m-35 37h0m-28-57h0m61-13h0m-61 9h0m65 20h0m-11 28h0m1-63h0m-18 74h0m-29-9h0m8-74h0m-12 66h0m59-30h0m-67 6h0m59-31h0m7 7h0m-66 12h0m18-28h0m-17 56h0m1-23h0m27 49h0m32-75h0m8 19h0m-23 53h0m23-38h0m-60-33h0m-4 15h0m5-15h0m0-3h0m45 66h0m-53-24h0m37-54h0m-25 80h0m-8-13h0m59-38h0m-58 41h0m60-26h0m-65 12h0m59-40h0m-50 0h0m56 36h0m-39-55h0m39 39h0m-23 51h0m-6-90h0m29 53h0m-49 31h0m25 7h0m23-66h0m1 21h0m1-1h0m-54 35h0m-13-50h0m20-23h0m42 64h0m-42-65h0m-13 65h0m52 4h0m-28-24h0m22 17h0m-24-11h0m15-31h0m3 19h0m-13 22h0m3-1h0m0 4h0m19-23h0m-18-11h0m1 42h0m4-45h0m-7-18h0m14 48h0m-4-33h0m-3 43h0m-13-28h0m-3 11h0m-2-51h0m-1 56h0m-16-2h0m8-13h0m40 35h0m-9-41h0m-27 27h0m30-28h0m8 27h0m-10-22h0m-3-28h0m24 50h0m-62-43h0m18 25h0m28 25h0m-2-11h0m12-24h0m-48-8h0m16-19h0m1 33h0m-17-20h0m15-10h0m11 0h0m-26 19h0m34 18h0m5 12h0m-32-3h0m42 9h0m-21-50h0m4 41h0m-6-57h0m-11 53h0m-5 5h0m29-12h0m-18 8h0m3-38h0m20 4h0m-17 12h0m-19-29h0m4 69h0m-15-54h0m26 16h0m1 5h0m8 6h0m-17 16h0m1-4h0m13-34h0m-9 6h0m-3-8h0m21 35h0m-39-36h0m43 4h0m-33 23h0m30-2h0m-3 23h0m18-32h0m-38 1h0m12 11h0m7 32h0m4-45h0m-8-16h0m-11 51h0m10-2h0m-11-1h0m16-12h0m-27 5h0m5-23h0m-15 3h0m1 16h0m46-14h0m-22 16h0m-1 14h0m-7-32h0m23-34h0m-34 26h0m22 13h0m13 12h0m-47-8h0m27 18h0m-3-18h0m-7 1h0m22 21h0m4 1h0m9 6h0m-8-67h0m-25 43h0m30-36h0m-11-7h0m-25 14h0m-1 37h0m16-24h0m-13-3h0m42 20h0m-19 4h0m-6 13h0m4-37h0m-18 19h0m18-36h0m-16 21h0m29 6h0m-17 10h0m6-1h0m-20-20h0m22 13h0m-8 16h0m-7-32h0m7 0h0m5 10h0m11-5h0m-28-13h0m-8 41h0m5-5h0m-9-7h0m14-1h0m-21 16h0m33-1h0m-29-31h0m6 40h0m7 3h0m10-35h0m13 24h0m-9-39h0m10 33h0m19-38h0m-40 35h0m15-27h0m-16 12h0m1-19h0m13 39h0m-16-8h0m16-1h0m-23-4h0m32-7h0m-16-13h0m10 22h0m-10 36h0m-21-38h0m-1 13h0m40-21h0m-25-15h0m-2-6h0m24 43h0m-24-46h0m2 26h0m39-14h0m-9 1h0m-8-3h0m-15 42h0m6-52h0m-7 2h0m12 45h0m-12-21h0m-16 9h0m28 28h0m19-62h0m-40 45h0m13-47h0m12 52h0m-11-58h0m10 31h0m12 17h0m-24-41h0m-28 50h0m26 5h0m15-25h0m-27 31h0m-8-40h0m19-1h0m11 1h0m-11 35h0m29-32h0m-57 7h0m13 29h0m33-32h0m-8-4h0m4-10h0m-10 20h0m8 19h0m-10-16h0m12-3h0m-14-9h0m-3-19h0m-10 33h0m17-33h0m-16-5h0m6 41h0m-2-25h0m9 32h0m-10-24h0m25-29h0m6 5h0m-12-6h0m-11 64h0m-3-2h0m4-2h0m-9-26h0m22-10h0m-17-19h0m10-14h0m14 36h0m-44 23h0m7 7h0m29 13h0m-18-39h0m-3-18h0m6 62h0m8-37h0m-9-37h0m0 21h0m8-1h0m-10 7h0m10 25h0m-24-23h0m55 22h0m-30-29h0m-5-25h0m-6 31h0m17 46h0m-16-42h0m26 14h0m-22 9h0m9-32h0m5 14h0m-11-42h0m2 43h0m16-21h0m-2 30h0m-11-4h0m11-12h0m-8 12h0m24-15h0m-39-4h0m2-17h0m-2 4h0m29 29h0m-13-29h0m-4 30h0m7-16h0m-1 24h0m-8 0h0m11-30h0m-12 2h0m23 4h0m7 3h0m-16 13h0m-6 30h0m12-26h0m-13-8h0m4 3h0m-19 3h0m14 9h0m-14-44h0m24 24h0m14-5h0m-31-16h0m-12 51h0m20-34h0m-21-4h0m27 3h0m-39-28h0m15 42h0m20-32h0m-20 36h0m24-21h0m10 7h0m-35-25h0m8 44h0m-6 4h0m-4 14h0m18-75h0m-39 37h0m14 31h0m25-42h0m-11-3h0m10-5h0m2-15h0m17 35h0m-28-1h0m25 34h0m7-9h0m-15-37h0m6 36h0m-1 12h0m-14-49h0m-30 11h0m26 12h0m16 4h0m-17-4h0m2-16h0m-1 11h0m6 23h0m-27-13h0m8 24h0m-11-39h0m27-10h0m2 35h0m3 0h0m14-8h0m-17 9h0m1-46h0m-13 47h0m-2-41h0m27-11h0m-20 53h0m-1 8h0m-5-15h0m-13-11h0m45-29h0m-27 5h0m11 41h0m-6-10h0m-8-2h0m-4 6h0m39-40h0m-9 55h0m-41-45h0m35 17h0m-18-1h0m-27-25h0m28 30h0m-8-37h0m3-4h0m39 9h0m-40 8h0m22 14h0m16 15h0m-51-7h0m11 18h0m-6-29h0m41-3h0m-20 34h0m-3-39h0m-5-2h0m20 37h0m-2 0h0m-17-47h0m-16 49h0m16 15h0m5-52h0m29-11h0m-28 18h0m-10-12h0m5-1h0m33 29h0m-19-2h0m-28 19h0m32-34h0m0-16h0m-4 19h0m-35-6h0m31-4h0m2-8h0m-9 12h0m26 9h0m-46-35h0m8 37h0m24-14h0m19-15h0m-29 43h0m17-18h0m-36-15h0m17 23h0m-11-19h0m7-5h0m2 37h0m-9-22h0m14-34h0m9 26h0m-46 8h0m34 33h0m-5-21h0m-11-49h0m18 44h0m-7-19h0m32 10h0m-26-16h0m8 28h0m-24-11h0m34 9h0m-13 23h0m3-56h0m7 39h0m-27-6h0m4 15h0m2 1h0m-8-13h0m6-12h0m33-30h0m-9 49h0m-1 22h0m-17-35h0m0 4h0m9 13h0m-16-36h0m18 43h0m-39-40h0m12 14h0m26-44h0m-19 46h0m28 32h0m-20-6h0m13-24h0m-17 23h0m-18-23h0m41 5h0m-32 4h0m33 6h0m-16-14h0m7-9h0m15 6h0m-50 3h0m22 1h0m6 15h0m-25-10h0m50 18h0m-25 5h0m-17-5h0m35 4h0m-24-7h0m2 6h0m29 8h0m-48-8h0m48 6h0m-43-9h0m10 8h0m-25-6h0m9 7h0m14-9h0m-10 0h0m15-3h0m4 2h0m22-2h0m-13 12h0m-24 1h0m36-7h0m-16 5h0m3-9h0m4-3h0m-42 16h0m13-11h0m-6 1h0m25 5h0m23-1h0m-50-9h0m12 8h0m-10 5h0m15-11h0m-3 11h0m5-12h0m28 7h0m-12 6h0m-17-6h0m27-5h0m-42 2h0m33 3h0m-12 7h0m6-16h0m-36 5h0m12 4h0m13 2h0m21-1h0m-4-10h0m9 14h0m-35-5h0m32-7h0m9 0h0m-3 13h0m-40-10h0m15 8h0m-4 3h0m-14-11h0m37-3h0m-31 5h0m29-3h0m-16-1h0m-28-3h0m30 5h0m-29 9h0m37-2h0m14-5h0m-34-4h0m-7 10h0m10-10h0m24-1h0m-44 8h0m39 4h0m-28-2h0m2-11h0m8 1h0m13-1h0m7 5h0m-44 2h0m1 7h0m51 2h0m-15 0h0m19-12h0m-3 12h0m-14-1h0m-10-7h0m-24-5h0m19-4h0m3 13h0m-14 2h0m14-8h0m-23-4h0m-3 12h0m28-10h0m-16-3h0m-11 10h0m11 0h0m31-12h0m8 3h0m-19-1h0m-2 5h0m22 3h0m-16 7h0m-6-13h0m23 7h0m-49-10h0m42 16h0m-30-13h0m13 9h0m-10 2h0m-1-6h0m30-4h0m-44 10h0m7-2h0m8-2h0m-16 4h0m31 1h0m-13-1h0m2-6h0m-10-2h0m1 8h0m-5-2h0m35-10h0m5 4h0m-24-3h0m-2 9h0m-7 3h0m32-9h0m-39-7h0m18 12h0m-4 2h0m3-4h0m-4-9h0m-21 15h0m23-5h0m19-11h0m-45 13h0m47-11h0m-38 1h0m-7 11h0m10-5h0m-10-2h0m9 10h0m2-2h0m26-2h0m3-12h0m-12 10h0m-13 3h0m23 1h0m-16-5h0m15-9h0m-15-20h0m-1 10h0m-29-10h0m46-17h0m4 13h0m-11-4h0m-13-11h0m-11-6h0m38-18h0m-15 48h0m0-64h0m1 7h0m7 44h0m-10-32h0m-4 18h0m-6 37h0m27-45h0m-3 12h0m-20-10h0m18 26h0m-48 22h0m28-23h0m15-16h0m-10 36h0m-1-7h0m-20-27h0m54 14h0m-14 4h0m-11-22h0m6 26h0m24-10h0m-32-25h0m2 3h0m-13-26h0m0 7h0m3 44h0m22-1h0m-35-23h0m6 22h0m-89-117h0m40 30h0m-18-5h0m2-22h0m10 6h0m11-2h0m-9 9h0m-21-30h0m32 14h0m10 2h0m-32 24h0m-7-28h0m-5 15h0m11 17h0m14-36h0m-10 52h0m-22-20h0m20-2h0m-24 17h0m60-42h0m-27 37h0m-15-38h0m16 5h0m4-1h0m-21 32h0m15-21h0m-23-19h0m21 4h0m3 3h0m-34 10h0m59 33h0m-43-54h0m26 26h0m0 16h0m-50-29h0m75 26h0m-63-24h0m26 33h0m-3-6h0m-22-13h0m11-14h0m-12 26h0m44-37h0m-32 11h0m-4-20h0m1 53h0m6-29h0m-41 1h0m60 15h0m-21-14h0m-2-9h0m-12 4h0m-19 29h0m44-39h0m1 13h0m-13-28h0m-37 30h0m53 43h0m10-46h0m-10-25h0m-16 16h0m-13 19h0m18-13h0m3-1h0m20-2h0m-28-3h0m-18 17h0m4-3h0m-1 9h0m-10-2h0m13-5h0m-4 3h0m-11-13h0m37-12h0m-19 18h0m27-36h0m-34 43h0m26-5h0m-6 31h0m-29-27h0m7-4h0m78-18h0m-16-9h0m-41 0h0m-17 25h0m23-2h0m-23 3h0m47-16h0m-9-26h0m-26 42h0m-102 96h0m-12-9h0m74-7h0m-63 51h0m72-15h0m-60 23h0m75-51h0m-90 47h0m24-39h0m59-16h0m-93 57h0m34-52h0m-22-19h0m37 14h0m-39 1h0m47 43h0m26-7h0m-43-6h0m46-26h0m2-7h0m-91 6h0m53 12h0m-52 26h0m20-49h0m53 64h0m20-6h0m-26-32h0m10 26h0m-68-36h0m80 47h0m12 4h0m-79-40h0m24 8h0m2-43h0m-23 0h0m20 25h0m-19 28h0m76 14h0m-87-42h0m8-21h0m97 8h0m40-38h0m-40 26h0m48 42h0m-22 18h0m10-23h0m19 11h0m-5-53h0m-20 24h0m-35 49h0m-4-3h0m24-45h0m30 56h0m-50-93h0m-3 9h0m49-14h0m-52 10h0m45 14h0m1 74h0m7-97h0m-30 84h0m34-5h0m-13 14h0m-40-21h0m27-49h0m13-28h0m-45 2h0m10 52h0m58-54h0m-59 37h0m-3 1h0m-5 22h0m50-39h0m-22-13h0m27 88h0m-39-67h0m25 24h0m-24-57h0m9 81h0m2-43h0m72-80h0m-31 56h0m53 3h0m-33-58h0m-32 44h0m-15-28h0m10-8h0m47 11h0m15-39h0m19 53h0"/><rect x="81.1" y="564.7" width="162.30" height="142.80" fill="none" stroke="#333" stroke-width="1.5"/><line x1="81.1" y1="564.0" x2="81.1" y2="708.2" stroke="#111" stroke-width="1.6"/><line x1="80.39999999999999" y1="707.5" x2="243.4" y2="707.5" stroke="#111" stroke-width="1.6"/><path d="M75.6 706.1H81.1M82.2 707.5V713.0M75.6 671.2H81.1M122.6 707.5V713.0M75.6 635.7H81.1M162.0 707.5V713.0M75.6 600.6H81.1M201.9 707.5V713.0M75.6 565.4H81.1M241.0 707.5V713.0" stroke="#000" stroke-width="1.8" fill="none"/><path d="M77.89999999999999 695.6H81.1M94.4 707.5V710.7M77.89999999999999 689.4H81.1M101.5 707.5V710.7M77.89999999999999 685.1H81.1M106.5 707.5V710.7M77.89999999999999 681.7H81.1M110.4 707.5V710.7M77.89999999999999 678.9H81.1M113.6 707.5V710.7M77.89999999999999 676.6H81.1M116.3 707.5V710.7M77.89999999999999 674.6H81.1M118.7 707.5V710.7M77.89999999999999 672.8H81.1M120.8 707.5V710.7M77.89999999999999 660.5H81.1M134.5 707.5V710.7M77.89999999999999 654.3H81.1M141.4 707.5V710.7M77.89999999999999 649.8H81.1M146.3 707.5V710.7M77.89999999999999 646.4H81.1M150.1 707.5V710.7M77.89999999999999 643.6H81.1M153.3 707.5V710.7M77.89999999999999 641.2H81.1M155.9 707.5V710.7M77.89999999999999 639.1H81.1M158.2 707.5V710.7M77.89999999999999 637.3H81.1M160.2 707.5V710.7M77.89999999999999 625.1H81.1M174.0 707.5V710.7M77.89999999999999 619.0H81.1M181.0 707.5V710.7M77.89999999999999 614.6H81.1M186.0 707.5V710.7M77.89999999999999 611.2H81.1M189.9 707.5V710.7M77.89999999999999 608.4H81.1M193.0 707.5V710.7M77.89999999999999 606.0H81.1M195.7 707.5V710.7M77.89999999999999 604.0H81.1M198.0 707.5V710.7M77.89999999999999 602.2H81.1M200.1 707.5V710.7M77.89999999999999 590.0H81.1M213.7 707.5V710.7M77.89999999999999 583.8H81.1M220.6 707.5V710.7M77.89999999999999 579.4H81.1M225.4 707.5V710.7M77.89999999999999 576.0H81.1M229.2 707.5V710.7M77.89999999999999 573.2H81.1M232.3 707.5V710.7M77.89999999999999 570.9H81.1M234.9 707.5V710.7M77.89999999999999 568.8H81.1M237.2 707.5V710.7M77.89999999999999 567.0H81.1M239.2 707.5V710.7" stroke="#000" stroke-width="1.3" fill="none"/><clipPath id="c1"><rect x="0" y="0" width="245" height="1151"/></clipPath><g clip-path="url(#c1)"><text transform="matrix(1.0600,0,0,0.9600,71.61,722.60)" font-size="10.0" fill="#2a2a2a">10</text><text transform="matrix(1.0600,0,0,0.9600,84.37,718.70)" font-size="10.0" fill="#2a2a2a">0</text><text transform="matrix(1.0600,0,0,0.9600,112.01,722.60)" font-size="10.0" fill="#2a2a2a">10</text><text transform="matrix(1.0600,0,0,0.9600,124.38,718.70)" font-size="10.0" fill="#2a2a2a">1</text><text transform="matrix(1.0600,0,0,0.9600,151.41,722.60)" font-size="10.0" fill="#2a2a2a">10</text><text transform="matrix(1.0600,0,0,0.9600,164.05,718.70)" font-size="10.0" fill="#2a2a2a">2</text><text transform="matrix(1.0600,0,0,0.9600,191.31,722.60)" font-size="10.0" fill="#2a2a2a">10</text><text transform="matrix(1.0600,0,0,0.9600,204.08,718.70)" font-size="10.0" fill="#2a2a2a">3</text><text transform="matrix(1.0600,0,0,0.9600,230.41,722.60)" font-size="10.0" fill="#2a2a2a">10</text><text transform="matrix(1.0600,0,0,0.9600,243.34,718.70)" font-size="10.0" fill="#2a2a2a">4</text></g><text transform="matrix(0,-1.0000,1.0300,0,71.40,713.35)" font-size="10.0" fill="#2a2a2a">10</text><text transform="matrix(0,-1.0800,1.1124,0,66.80,701.84)" font-size="10.0" fill="#2a2a2a">0</text><text transform="matrix(0,-1.0000,1.0300,0,71.40,678.45)" font-size="10.0" fill="#2a2a2a">10</text><text transform="matrix(0,-1.0800,1.1124,0,66.80,667.34)" font-size="10.0" fill="#2a2a2a">1</text><text transform="matrix(0,-1.0000,1.0300,0,71.40,642.95)" font-size="10.0" fill="#2a2a2a">10</text><text transform="matrix(0,-1.0800,1.1124,0,66.80,631.56)" font-size="10.0" fill="#2a2a2a">2</text><text transform="matrix(0,-1.0000,1.0300,0,71.40,607.85)" font-size="10.0" fill="#2a2a2a">10</text><text transform="matrix(0,-1.0800,1.1124,0,66.80,596.33)" font-size="10.0" fill="#2a2a2a">3</text><text transform="matrix(0,-1.0000,1.0300,0,71.40,572.65)" font-size="10.0" fill="#2a2a2a">10</text><text transform="matrix(0,-1.0800,1.1124,0,66.80,560.96)" font-size="10.0" fill="#2a2a2a">4</text><text transform="matrix(1.0957,0,0,1.0312,130.74,732.60)" font-size="10.0" font-weight="normal" fill="#2a2a2a">CD3 PerCP</text><text transform="matrix(1.1368,0,0,1.0884,202.87,650.50)" font-size="10.0" font-weight="normal" fill="#222">R3</text><text transform="matrix(1.0153,0,0,1.1171,30.58,648.70)" font-size="10.0" font-weight="normal" fill="#111" stroke="#111" stroke-width="0.25">CD1</text><text transform="matrix(1.0667,0,0,1.1171,30.40,678.00)" font-size="10.0" font-weight="normal" fill="#111" stroke="#111" stroke-width="0.25">9AP</text><line x1="36.6" y1="615.5" x2="36.6" y2="696.7" stroke="#000" stroke-width="1.9"/><path d="M94.5 562.3h1.6M119 562.3h1.6M136.6 562.3h1.2" stroke="#777" stroke-width="1"/><ellipse cx="190.6" cy="683.8" rx="18.6" ry="22.5" fill="none" stroke="#000" stroke-width="1.9"/><path d="M92.0 876.0L100.0 878.0L106.0 885.0L118.0 884.0L126.0 888.0L127.0 921.0L92.0 921.0z" fill="#ff2ea0"/><path d="M92.0 953.0L106.0 955.0L117.0 958.0L119.0 975.0L117.0 994.0L92.0 994.0z" fill="#ff2ea0"/><path transform="scale(0.5)" stroke="#fff" stroke-width="2.4" stroke-linecap="square" fill="none" d="M203 1770h0m17 36h0m27-1h0m0 24h0m-62-26h0m47-29h0m-22 53h0m32-17h0m9-6h0m1-10h0m-1-15h0m-37 12h0m12-7h0m-9-2h0m-30 7h0m53 48h0m-53-59h0m52 23h0m-13 21h0"/><path transform="scale(0.5)" stroke="#fff" stroke-width="2.4" stroke-linecap="square" fill="none" d="M224 1937h0m-33-20h0m19 19h0m14 41h0m-32-53h0m35 62h0m-35-13h0m5 8h0m32-10h0m-8-19h0m0 18h0m-34-52h0m50 36h0m-36 22h0m-7-22h0"/><path transform="scale(0.5)" stroke="#ff2ea0" stroke-width="2.7" stroke-linecap="square" fill="none" d="M191 1790h0m-6 36h0m5-28h0m13-37h0m5 56h0m-16-22h0m40-18h0m-20 30h0m25-10h0m-18-10h0m10 0h0m-38 33h0m-1 22h0m44-28h0m13 1h0m-39-27h0m24 19h0m-5-35h0m-27 10h0m-11 37h0m40-10h0m-20 18h0m27-16h0m-42 15h0m19-10h0m-26-7h0m40-1h0m-12-7h0m-9 18h0m26-8h0m-15 30h0m-13-12h0m-10-60h0m-5 16h0m2 6h0m23 24h0m-27 17h0m33-40h0m-30 47h0m31-1h0m13-9h0m-43-12h0m22-16h0m-29-41h0m29 19h0m-21 24h0m24 19h0m-10-38h0m-7 29h0m18-33h0m-28 3h0m47 33h0m-48-15h0m8 9h0m10 19h0m38-34h0m-52-6h0m31 38h0m-38-22h0m11-48h0m18 21h0m-20 12h0m52 30h0m-16 14h0m5-63h0m-26 22h0m3 29h0m42-3h0m-35 9h0m1 13h0m-2-2h0m24-61h0m0 10h0m-8 12h0m-4 13h0m-18 25h0m8-16h0m-13-8h0m-17 11h0m48-3h0m-54-40h0m23-6h0m-18-13h0m13 74h0m-7-38h0m14 15h0m-2 5h0m28 19h0m-7-6h0m-36-50h0m30 2h0m-36-28h0m54 30h0m9 2h0m-53 3h0m-8-28h0m1 30h0m34 14h0m-1-8h0m4 16h0m-11 15h0m-29-47h0m54 55h0m-41-4h0m23-56h0m27 48h0m-41-1h0m-10 5h0m30-28h0m12-27h0m-2 4h0m-50-21h0m2 72h0m37-14h0m6-41h0m5 25h0m-15-17h0m30 29h0m-26-22h0m-37 35h0m3-30h0m-3-9h0m29 28h0m-25 6h0m-8 14h0m17-33h0m44-15h0m-56-18h0m-6 30h0m6-13h0m2 45h0m46 14h0m-47-20h0m-4-44h0m13-9h0m54 51h0m-11-38h0m-7 19h0m4 39h0m-28 3h0m-10-53h0m29-12h0m23 57h0m-57-10h0m45-26h0m-52 6h0m1-15h0m-2-20h0m6 62h0m19 2h0m-26-47h0m9 52h0m-9-14h0m53-14h0m-55-2h0m38-3h0m25-32h0m-4 23h0m-48 9h0m20 27h0m-25-49h0m18 2h0m0 43h0m25-38h0m7 16h0m-26-37h0m-3 38h0m34-29h0m-39 20h0m25 31h0m-40-46h0m38-3h0m-8-12h0m-37 12h0m6-16h0m59 19h0m-4 27h0m-37-16h0m45 18h0m-43-23h0m6-16h0m34 10h0m-49-9h0m26 69h0m-1-27h0m-6-2h0m-10-33h0m10-2h0m7-12h0m22 66h0m-7-27h0m-6 24h0m12-45h0m-48-11h0m8 50h0m42-25h0m-15 24h0m3-34h0m-17 42h0m-2-22h0m-37-13h0m31 21h0m-9-16h0m-6 35h0m29-53h0m21 18h0m-35-7h0m-20 33h0m30-9h0m-24-56h0m35 33h0m4-2h0m4-5h0m0 32h0m6-22h0m-40-11h0m-3 47h0m-6-67h0m-3 71h0m-2-64h0m39 20h0m5-18h0m-46-20h0m36 79h0m-3-11h0m6-49h0m15 4h0m-4 37h0m-41-30h0m35-16h0m-9 65h0m-19-41h0m8 34h0m25-25h0m0-25h0m-49 41h0m2 5h0m-9-1h0m3-32h0m5-19h0m27 5h0m-29 20h0m17 6h0m19-28h0m-16 19h0m-26 13h0m11-46h0m-2 219h0m35-51h0m-22 11h0m-10-16h0m16 20h0m16 34h0m-1-4h0m-5-7h0m-5 17h0m-12-25h0m19 2h0m-30-49h0m-7 14h0m18 48h0m21-26h0m0-21h0m-34 22h0m23-17h0m-21 47h0m13-4h0m24-7h0m-6-29h0m-43 17h0m15-8h0m28 9h0m-43 19h0m16-10h0m-16 10h0m22-30h0m-2-38h0m-18 6h0m26 22h0m0 3h0m16-12h0m2-7h0m-24-10h0m8 25h0m10 40h0m-32-6h0m16-43h0m-19-21h0m-4 54h0m17-53h0m-7 15h0m28 29h0m-25-10h0m4 8h0m-19 31h0m21-62h0m1 49h0m-14-32h0m20 27h0m-1-32h0m-6 12h0m8 25h0m0-27h0m-8 11h0m13-19h0m19 28h0m-25-3h0m5 15h0m8-59h0m-10 61h0m-13-61h0m11 51h0m-12-46h0m-9 36h0m17-5h0m-3-29h0m-12-11h0m32 34h0m-6-12h0m3 47h0m1-47h0m-28 35h0m-1-48h0m2 47h0m23-8h0m-11-41h0m-20 5h0m14 48h0m16-21h0m9 34h0m-31-14h0m-8-52h0m43 30h0m-41-31h0m4 14h0m5 36h0m22-39h0m7 35h0m-38 3h0m12 4h0m20-36h0m-8 46h0m2-12h0m-33-60h0m42 14h0m2 19h0m-2-3h0m-2 15h0m-22 34h0m28-8h0m-45-66h0m9 30h0m12-4h0m19 28h0m-34 18h0m36-50h0m-34 5h0m2 0h0m0-26h0m22 12h0m-20 41h0m-9-51h0m12 57h0m-1 8h0m24-63h0m8 14h0m-48 41h0m24-3h0m-12-30h0m24-4h0m14-4h0m-6 36h0m-3-2h0m-8 0h0m-23-36h0m-3 23h0m38 11h0m-23-17h0m-19-24h0m24 56h0m-26-38h0m33 5h0m-26 17h0m37-30h0m-8 39h0m6 9h0m-38-24h0m14-18h0m-2-14h0m-1 30h0m14 25h0m7 6h0m-36-47h0m0 24h0m21-3h0m-18-40h0m23 43h0m1-5h0m-27 7h0m25 4h0m-2-8h0m-21-33h0m28-15h0m-31 5h0m15 67h0m10-1h0m9-72h0m17 51h0m-32-27h0m-8-12h0m-3 31h0m42 21h0m-2 6h0m-2 1h0m-25 2h0m-18-58h0m45 26h0m-42-27h0m30 38h0m10-10h0m-23-16h0m1 4h0m5 25h0m12 5h0m-24-33h0m24 34h0m-24-35h0m28 28h0m-10-37h0m-22-18h0m15 31h0m-10-33h0m-8 31h0m22 38h0m-7-9h0m-16-31h0m35 7h0m-32 29h0m27 0h0m-7-54h0m18 42h0m-31 19h0m26-3h0m-2-21h0m-25-35h0m-11 58h0m12-61h0m6 22h0m19-27h0m7 60h0m-47-18h0m21 23h0m-13-17h0m31 10h0m3-18h0m5 9h0m-28-34h0m16 22h0m-2 27h0m-20-20h0m9-29h0m-11 24h0m-1-2h0m-10-42h0m38 18h0m4 56h0m-19-31h0m11 28h0m-22 3h0m0-53h0m9 7h0m20 31h0m-19-17h0m-13 4h0m3-2h0m-9 3h0m28 22h0m-15-47h0m-1 30h0m-18-42h0m34 16h0m-35 11h0m12-36h0m-8 34h0m6 36h0m3-5h0m33-49h0m-1 49h0m-13-1h0m-2-8h0m-13 16h0m20-213h0m-9 76h0m44-21h0m-13 21h0m10-53h0m-41-36h0m43 16h0m-62 81h0m16-88h0m46 62h0m-60 16h0m35-77h0m-20-4h0m46 67h0m-43 13h0m-23 6h0m3-1h0m44-80h0m17 56h0m4-12h0m-72-61h0m64 22h0m4 12h0m1-11h0m-38 73h0m41-66h0m-3-1h0m-2 66h0m-10 1h0m-27-77h0m8-4h0m-4 79h0m43-4h0m-9-8h0m-29 11h0m-31-90h0m29 10h0m-11 83h0m30-4h0m11 3h0m-7-72h0m-23 69h0m22-73h0m8 20h0m-42-22h0m14-2h0m-1 83h0m34-69h0m-54-19h0m61 82h0m-56-78h0m1 78h0m-2 8h0m-6-8h0m19-74h0m-19-13h0m-8 93h0m31-80h0m10-1h0m-11 80h0m-14-83h0m10 78h0m34-15h0m-6 19h0m-48-96h0m9 13h0m-4-6h0m35 87h0m-13-1h0m29-49h0m-48-30h0m28 79h0m-23 0h0m42-24h0m-21 30h0m-13-82h0m17 80h0m-32-2h0m48-62h0m-18 60h0m-6 3h0m-2-81h0m29 36h0m-42-33h0m-3-6h0m42 59h0m-15-64h0m-11 8h0m39 59h0m-12-39h0m-38-19h0m8-1h0m8 86h0m14-87h0m-49 90h0m30-5h0m-11-80h0m37 37h0m2-20h0m-47 58h0m28-76h0m21 61h0m-14-60h0m-2 1h0m-19 82h0m33-24h0m-43-62h0m23 80h0m-37 4h0m64-37h0m-64 31h0m-2 6h0m10-5h0m-8-90h0m24 87h0m8 9h0m23-61h0m-9-18h0m-21 70h0m-10-83h0m27 95h0m-49-100h0m18 8h0m3 87h0m46-32h0m-62 32h0m65-50h0m-42 49h0m-20-99h0m11 17h0m16 1h0m27 16h0m-16 75h0m-47-10h0m33-84h0m29 53h0m-53-63h0m63 86h0m-13-66h0m-28 72h0m-29 0h0m60-71h0m-14-7h0m-28-4h0m-10-9h0m-2 99h0m54-65h0m-45 56h0m2 0h0m4-76h0m12-4h0m13 82h0m7-1h0m-15-82h0m24 19h0m-21 60h0m13 3h0m-5-76h0m14 67h0m2-22h0m-46-46h0m42 53h0m-16 24h0m4 4h0m-50-101h0m4 1h0m4 1h0m56 71h0m-2 11h0m-38 17h0m-25-6h0m65-45h0m-6-35h0m-18-1h0m-29-9h0m8 89h0m25 125h0m6-43h0m-20-16h0m12 7h0m7 32h0m1-13h0m-54-29h0m21 1h0m29 37h0m4-13h0m-6-13h0m-23-9h0m0 0h0m26 79h0m-7-77h0m-9-3h0m15 47h0m-2-29h0m-6-15h0m8 71h0m-1-22h0m-32-52h0m41 31h0m-28-37h0m-24 5h0m-5-2h0m50 72h0m-6-67h0m10 42h0m-48-46h0m48 45h0m-50-46h0m35 8h0m-20-6h0m34 51h0m-23-60h0m20 50h0m-24-40h0m19 11h0m7 41h0m6-8h0m-6-1h0m0 14h0m2-19h0m-4 12h0m-21-47h0m-21-10h0m44 50h0m-1 28h0m1-7h0m-21-65h0m-12 2h0m-20-3h0m53 20h0m-7-15h0m4 28h0m-37-32h0m2-11h0m30 13h0m-41-8h0m32 6h0m14 47h0m0-12h0m-2-16h0m4 37h0m-45-61h0m42 78h0m7-62h0m0 58h0m-3-36h0m-3 24h0m1 16h0m-27-78h0m33 39h0m-6-12h0m-19-24h0m-7-10h0m22 87h0m10-24h0m-46-60h0m36 87h0m1-65h0m5 24h0m-15-36h0m12 42h0m-28-41h0m-10-2h0m-11-5h0m25 5h0m33 26h0m-40-26h0m34 32h0m-2 27h0m4-3h0m-6-33h0m1 45h0m-6-61h0m-25-9h0m-9-2h0m30 5h0m11 15h0m-12-10h0m11 28h0m8 4h0m-9-28h0m-51-19h0m56 75h0m-35-68h0m-22 1h0m61 23h0m-12-58h0m3 1h0m-3-7h0m-8 24h0m-24-1h0m16 5h0m-18-4h0m-12-47h0m27 32h0m7-24h0m3 52h0m12-39h0m-20 3h0m-16-5h0m-16 8h0m13 38h0m4-24h0m11-2h0m-9-31h0m5-1h0m-14-6h0m55 31h0m-34-2h0m15-12h0m-34-12h0m33 51h0m-44-19h0m29-25h0m13 18h0m2 24h0m18-38h0m-8 14h0m-9 17h0m3-51h0m1 25h0m-25 33h0m37-38h0m-25-3h0m26 39h0m3-51h0m-36 23h0m-29 20h0m21-42h0m0 46h0m20-24h0m-23 5h0m23 32h0m-34-30h0m-6-25h0m28 44h0m-25-26h0m50 6h0m8-1h0m-46 3h0m11-5h0m32 26h0m-32-34h0m-17-16h0m28 0h0m-35 24h0m4 36h0m3-7h0m41-52h0m8 15h0m-18 24h0m-37-45h0m56 51h0m5-48h0m-41-1h0m21 17h0m-22-2h0m-4-15h0m3 25h0m-19 9h0m51 0h0m-49 11h0m43 18h0m-20-60h0m12 19h0m-14-5h0m36 20h0m-51-4h0m25-22h0m10-1h0m-30-11h0m-2 22h0m19 1h0m-22-3h0m15 17h0m-28 8h0m40-14h0m25-25h0m-8 37h0m-24 0h0m18 22h0m-31-5h0m-7-48h0m30-14h0m-7 68h0m28-49h0m-31 37h0m-25-38h0m0 45h0m39-17h0m5-9h0m2 25h0m-14-52h0m-5-12h0m-28 4h0m32 58h0m13-56h0m-24 57h0m21 4h0m8-43h0m-6-13h0m-40 14h0m-11 30h0m29-54h0m25 49h0m-16 2h0m7-12h0m-14 25h0m-8-48h0m11-2h0m11 33h0m5-23h0m-8 6h0m-21 8h0m42 11h0m-13-27h0m-23 2h0m-27 1h0m10 18h0m14 2h0m20 16h0m4-44h0m14-12h0m-43 20h0m-6 4h0m6 10h0m48-23h0m-8 16h0m-7-15h0m-30 5h0m45 42h0m-49-53h0m32 6h0m9 15h0m2 30h0m-8-40h0m14-22h0m-46 9h0m9-3h0m1 55h0m-22-34h0m-3-11h0m42 17h0m-33-28h0m47 12h0m-7 41h0m7 11h0m-34-41h0m9-3h0m1 24h0m11-41h0m-41 36h0m10 24h0m42-50h0m-56-8h0m47 29h0m-11 25h0m24-20h0m-46-42h0m2 59h0m-2-24h0m-3 23h0m52-18h0m0-22h0m-25 19h0m-24-11h0m31-9h0m-16-17h0m5 45h0m19-16h0m-36 27h0m8-30h0m-5 23h0m2 3h0m-25-38h0m7-12h0m44 22h0m-23 23h0m19-4h0m0-16h0m-37-22h0m42 3h0m-10 3h0m14 21h0m-38-2h0m11 24h0m-8-30h0m4-4h0m9 4h0m-30 30h0m52-55h0m-19 21h0m-21-4h0m11 2h0m14-12h0m-3 0h0m0-8h0m21 68h0m-27-4h0m-24-59h0m9 11h0m15 49h0m-5-9h0m22-14h0m14 21h0m-50-26h0m29 21h0m-31-59h0m56 24h0m-24 8h0m21-11h0m2 7h0m-13 28h0m5-30h0m-8 1h0m-16 8h0m7-12h0m-12-4h0m-17 23h0m13-19h0m29 13h0m5 27h0m-35 4h0m31-25h0m8-25h0m-2 25h0m-26 16h0m-14-35h0m42-20h0m-53 51h0m9-34h0m40 43h0m-41-56h0m-8 31h0m47 19h0m-38-54h0m13 32h0m21-21h0m-25-1h0m-9-2h0m3 34h0m6-40h0m-11 28h0m19-2h0m-23 19h0m51 19h0m-7-34h0m-28-25h0m7 13h0m-1 1h0m11 41h0m-15-49h0m17 21h0m-31 5h0m3 10h0m-5-25h0m50 30h0m-2-2h0m-21-52h0m24 13h0m-29-2h0m-11 50h0m24-28h0m-43 3h0m3-24h0m20-8h0m-17 10h0m-11 40h0m-2-29h0m32-27h0m-28 1h0m49 41h0m-8 10h0m-18-1h0m-14-42h0m-9 40h0m57 1h0m-39 15h0m31-21h0m-22-16h0m-7-2h0m23 19h0m-46 7h0m43-14h0m-37-19h0m51-1h0m-55 26h0m12-9h0m-11 33h0m9-16h0m-13-8h0m8 2h0m6-31h0m-12-16h0m-1 40h0m12-8h0m-13-18h0m7 27h0m7-14h0m-6 26h0m-1-16h0m-6-22h0m8 4h0m-8-2h0m5-10h0m-6-4h0m9 57h0m-3-8h0m-2-10h0m-1 2h0m6 1h0m3-3h0m-9-27h0m-1 2h0m-2 0h0m4 1h0m-4-12h0m3 33h0m-2-19h0m10 13h0m-10 30h0m4-53h0m-1 47h0m9-19h0m-5 16h0m6 3h0m-14 9h0m7-63h0m3-3h0m-9 46h0m9-16h0m5 26h0m-1-20h0m0 15h0m-2 13h0m2-6h0m-10-24h0m8-25h0m-10 23h0m1-30h0m6 17h0m-5-19h0m3 54h0m8-25h0m-10 9h0m0 20h0m-5-13h0m3 8h0m1-43h0m-1 27h0m10 24h0m-5-51h0m5-8h0m-4 65h0m-7-63h0m4 17h0m-3-1h0m3 36h0m-1-26h0m0-19h0m9 31h0m-12-21h0m-1-11h0m3 27h0m7-22h0m-11 39h0m5-11h0m-1-31h0m4 55h0m2-47h0m-4-4h0m6 26h0m-3-19h0m1-8h0m-1 55h0m-7-25h0m3-30h0m-3 33h0m4-31h0m4 11h0m-3-16h0m-8-11h0m14 58h0m2-29h0m-6 26h0m0-5h0m0-41h0m2 4h0m-7 17h0m5 4h0m-1 5h0m-4 1h0m3-37h0m-6 58h0m1-51h0m8 31h0m-11-1h0m8 9h0m3-7h0m-2 3h0m-1 4h0m-5-5h0m10-18h0m-9 43h0m5-17h0m5-11h0m-11 23h0m0-35h0m0-2h0m12 23h0m-2-49h0m2 36h0m-3-9h0m-8 8h0m-3 15h0m14 17h0m-6-61h0m1 3h0m0 1h0m-9 7h0m4 38h0m7-43h0m-10 24h0m-1-15h0m13-16h0m-6 29h0m-1-18h0m-2 28h0m4 11h0m-3-39h0m8 38h0m1-44h0m-3 35h0m-2 21h0m0-58h0m2 43h0m2 10h0m-2-23h0m-6 26h0m-3-37h0m8 11h0m-7 15h0m1 10h0m1-36h0m6-22h0m-5 44h0m8 14h0m-4-18h0m1-47h0m1 56h0m-9-41h0m-3 39h0m10-17h0m-7-3h0m-1 1h0m-1 10h0m12-21h0m-11 11h0m-1 8h0m10 23h0m-10-44h0m0-12h0m10 30h0m-1 17h0m-9-52h0m2 22h0m11 1h0m-3-4h0m-12 37h0m10-58h0m-3 25h0m-2 36h0m3-58h0m-7 36h0m12-12h0m-8-7h0m7 17h0m0 28h0m-1-4h0m-5-54h0m4 44h0m-4 1h0m9 14h0m0-33h0m-8 12h0m1-5h0m129-98h0m-1 4h0m4 55h0m-13-48h0m-29 54h0m10-34h0m-34 80h0m30-111h0m9 6h0m4 12h0m21 70h0m-54-74h0m46 12h0m-37 8h0m-9 49h0m54-53h0m5 39h0m6-68h0m-30 39h0m-9 15h0m-18 28h0m-6-60h0m39 77h0m-22-5h0m3-38h0m46-3h0m-32 22h0m31-62h0m-26 69h0m-21-22h0m-23-33h0m52-2h0m-9 60h0m22-55h0m-47 9h0m-24 7h0m65-12h0m18 4h0m-77 68h0m5-69h0m-2-2h0m32 2h0m-4-34h0m25 17h0m-34 48h0m30-13h0m-11-3h0m22-6h0m14-6h0m-23-3h0m-22 21h0m-38 53h0m41-11h0m24-39h0m18 3h0m-2-33h0m2 12h0m-16 24h0m-58-12h0m8-59h0m39 2h0m9 30h0m-30-37h0m-2 98h0m-32-66h0m36 20h0m37-5h0m11 12h0m-64-49h0m-8-9h0m15 73h0m37-51h0m-55-5h0m43 39h0m-17 23h0m35-23h0m-33 50h0m-36-59h0m68 36h0m-15-42h0m-15 16h0m12-8h0m2-18h0m-41 77h0m43-18h0m11-65h0m-67 84h0m61-6h0m0-22h0m-43-49h0m26 1h0m23 51h0m-6-29h0m-42 31h0m36-22h0m4-31h0m-6 68h0m-11-34h0m0-19h0m8 5h0m-42-54h0m22 1h0m-4 79h0m58-24h0m-83-19h0m12 60h0m-13-100h0m2 106h0m60-6h0m-36-17h0m-21-60h0m56 28h0m-11-49h0m-19 105h0m22-63h0m-26 23h0m33-30h0m-33 27h0m1 54h0m43-102h0m-66 85h0m46-84h0m-29 85h0m-13-43h0m10-49h0m15-8h0m20 52h0m-15-32h0m6 91h0m-30 11h0m25-87h0m1-43h0m-30 126h0m35-31h0m-20-10h0m-5 21h0m-1-84h0m0 94h0m59-74h0m-40 22h0m0 50h0m-21-76h0m-19 69h0m55-105h0m0 105h0m14-13h0m-30-12h0m8 16h0m-27-3h0m28-40h0m-18-30h0m4 35h0m10 61h0m-34-75h0m7-27h0m-2 110h0m23-74h0m-38-9h0m3 47h0m5-13h0m37-66h0m-21 100h0m-14-71h0m5 56h0m37-35h0m-19 49h0m-9-75h0m34 57h0m-1-1h0m-52-42h0m54-4h0m-15-4h0m38 24h0m-81-7h0m69-1h0m-59-49h0m16 21h0m0 29h0m-6 51h0m-11-72h0m41 2h0m-5 68h0m-43-7h0m13-69h0m9-21h0m-20 6h0m24 9h0m5-22h0m42 19h0m-63-21h0m-6 119h0m32-29h0m24 7h0m-60-23h0m13 18h0m51-81h0m-4 57h0m-37-24h0m8-26h0m9 83h0m-10-88h0m13 77h0m15-13h0m-52 51h0m18-34h0m-8-74h0m-8 61h0m47-77h0m4 65h0m-50 30h0m10-100h0m-11 120h0m28-72h0m16-27h0m-22 78h0m-32-42h0m81-25h0m-2 29h0m-30 23h0m35-29h0m-55-43h0m10-4h0m-24-18h0m-3 64h0m7-22h0m-18-19h0m60 5h0m-41 4h0m1 7h0m30-2h0m-66-14h0m32 10h0m42-29h0m-23 21h0m16-22h0m-40 24h0m-1 12h0m47 13h0m-13 12h0m7-29h0m22 19h0m15-42h0m-64 17h0m21 28h0m-12-44h0m73 7h0m-66 7h0m-13 18h0m10-36h0m29 38h0m-50-41h0m-41 36h0m66-46h0m1 60h0m-8-37h0m25 14h0m-2-18h0m2 30h0m-24 6h0m0-41h0m-1 55h0m3 5h0m-3-67h0m26 24h0m-14 41h0m-9-43h0m-36-12h0m15 33h0m18 0h0m19-18h0m14 4h0m-43 4h0m-1-2h0m15-28h0m26 34h0m-2-17h0m-53 12h0m41-2h0m2-2h0m23 3h0m-2 9h0m-9-17h0m-4-16h0m-9 42h0m15-1h0m-20-50h0m-5 7h0m4 40h0m-5 1h0m32-34h0m-21 43h0m-14-34h0m37-12h0m-32 3h0m7 23h0m-6 12h0m-1-38h0m-39 16h0m23-7h0m-2 88h0m34-6h0m0 5h0m-24-8h0m22-9h0m15-2h0m-32-5h0m29 19h0m-18-9h0m-4 14h0m1-25h0m-13 13h0m-5 11h0m37 3h0m-9-6h0m-30 11h0m30-15h0m18 22h0m-36-15h0m-1-5h0m-16-9h0m57-20h0m-49 32h0m20-7h0m-43-3h0m51 4h0m-12-3h0m-1-10h0m-8 14h0m25-3h0m-17-2h0m34-4h0m-39-9h0m19 23h0m18 0h0m-35-9h0m5-22h0m-6 15h0m-16 0h0m10 19h0m54-12h0m-21 15h0m-15-15h0m-18 7h0m5 0h0m35-14h0m-27 2h0m6 18h0m-11-32h0m11 19h0m-25 11h0m44 13h0m-15-14h0m17-8h0m-33 16h0m30-36h0m-35 7h0m13-18h0m-13 35h0m9-12h0m20 18h0m-33-9h0m1-5h0m17-12h0m4 13h0m-4 11h0m-7 12h0m18-33h0m24 4h0m-46-1h0m0-3h0m-5 25h0m4-3h0m9-2h0m-19-19h0m-18-12h0m12 27h0m33 12h0m1-24h0m-8 16h0m17-1h0m-24-2h0m20-1h0m4 10h0m-54-11h0m19-3h0m33 11h0m-29 1h0m8-1h0m27-2h0m-22-3h0m18-5h0m-41-11h0m43 23h0m-25-10h0m17 2h0m-40-16h0m30 14h0m8 6h0m-33-2h0m59-93h0m-39 95h0m22 9h0m-64-80h0m40 92h0m-11 9h0m18-71h0m-15 27h0m28 39h0m-13-48h0m-51 65h0m13-30h0m87-29h0m-50 34h0m-33-121h0m26 48h0m8 67h0m-14-11h0m-39-84h0m91 77h0m-82-90h0m53 133h0m34-94h0m-20 59h0m14-67h0m10-21h0m-20 77h0m-18-13h0m12 21h0m25-51h0"/><rect x="91.7" y="830.1" width="150.90" height="164.70" fill="none" stroke="#333" stroke-width="1.5"/><line x1="91.7" y1="829.4" x2="91.7" y2="995.5" stroke="#111" stroke-width="1.6"/><line x1="91.0" y1="994.8" x2="242.6" y2="994.8" stroke="#111" stroke-width="1.6"/><path d="M86.2 993.8H91.7M91.9 994.8V1000.3M86.2 954.1H91.7M129.0 994.8V1000.3M86.2 913.4H91.7M166.1 994.8V1000.3M86.2 871.6H91.7M203.2 994.8V1000.3M86.2 831.3H91.7M240.2 994.8V1000.3" stroke="#000" stroke-width="1.8" fill="none"/><path d="M88.5 981.8H91.7M103.1 994.8V998.0M88.5 974.9H91.7M109.6 994.8V998.0M88.5 969.9H91.7M114.2 994.8V998.0M88.5 966.1H91.7M117.8 994.8V998.0M88.5 962.9H91.7M120.8 994.8V998.0M88.5 960.2H91.7M123.3 994.8V998.0M88.5 957.9H91.7M125.4 994.8V998.0M88.5 955.9H91.7M127.3 994.8V998.0M88.5 941.8H91.7M140.2 994.8V998.0M88.5 934.7H91.7M146.7 994.8V998.0M88.5 929.6H91.7M151.3 994.8V998.0M88.5 925.7H91.7M154.9 994.8V998.0M88.5 922.4H91.7M157.9 994.8V998.0M88.5 919.7H91.7M160.4 994.8V998.0M88.5 917.3H91.7M162.5 994.8V998.0M88.5 915.3H91.7M164.4 994.8V998.0M88.5 900.8H91.7M177.3 994.8V998.0M88.5 893.5H91.7M183.8 994.8V998.0M88.5 888.2H91.7M188.4 994.8V998.0M88.5 884.2H91.7M192.0 994.8V998.0M88.5 880.9H91.7M195.0 994.8V998.0M88.5 878.1H91.7M197.5 994.8V998.0M88.5 875.7H91.7M199.6 994.8V998.0M88.5 873.5H91.7M201.5 994.8V998.0M88.5 859.5H91.7M214.3 994.8V998.0M88.5 852.4H91.7M220.9 994.8V998.0M88.5 847.3H91.7M225.5 994.8V998.0M88.5 843.4H91.7M229.1 994.8V998.0M88.5 840.2H91.7M232.0 994.8V998.0M88.5 837.5H91.7M234.5 994.8V998.0M88.5 835.2H91.7M236.6 994.8V998.0M88.5 833.1H91.7M238.5 994.8V998.0" stroke="#000" stroke-width="1.3" fill="none"/><clipPath id="c2"><rect x="0" y="0" width="245" height="1151"/></clipPath><g clip-path="url(#c2)"><text transform="matrix(1.1300,0,0,0.8100,81.91,1009.20)" font-size="10.0" fill="#2a2a2a">10</text><text transform="matrix(0.9605,0,0,0.6885,94.96,1005.90)" font-size="10.0" fill="#2a2a2a">0</text><text transform="matrix(1.1300,0,0,0.8100,119.01,1009.20)" font-size="10.0" fill="#2a2a2a">10</text><text transform="matrix(0.9605,0,0,0.6885,131.70,1005.90)" font-size="10.0" fill="#2a2a2a">1</text><text transform="matrix(1.1300,0,0,0.8100,156.11,1009.20)" font-size="10.0" fill="#2a2a2a">10</text><text transform="matrix(0.9605,0,0,0.6885,169.05,1005.90)" font-size="10.0" fill="#2a2a2a">2</text><text transform="matrix(1.1300,0,0,0.8100,193.21,1009.20)" font-size="10.0" fill="#2a2a2a">10</text><text transform="matrix(0.9605,0,0,0.6885,206.27,1005.90)" font-size="10.0" fill="#2a2a2a">3</text><text transform="matrix(1.1300,0,0,0.8100,230.21,1009.20)" font-size="10.0" fill="#2a2a2a">10</text><text transform="matrix(0.9605,0,0,0.6885,243.41,1005.90)" font-size="10.0" fill="#2a2a2a">4</text></g><text transform="matrix(0,-0.9500,1.0300,0,82.90,1000.26)" font-size="10.0" fill="#2a2a2a">10</text><text transform="matrix(0,-1.0260,1.1124,0,78.40,989.96)" font-size="10.0" fill="#2a2a2a">0</text><text transform="matrix(0,-0.9500,1.0300,0,82.90,960.56)" font-size="10.0" fill="#2a2a2a">10</text><text transform="matrix(0,-1.0260,1.1124,0,78.40,950.65)" font-size="10.0" fill="#2a2a2a">1</text><text transform="matrix(0,-0.9500,1.0300,0,82.90,919.86)" font-size="10.0" fill="#2a2a2a">10</text><text transform="matrix(0,-1.0260,1.1124,0,78.40,909.68)" font-size="10.0" fill="#2a2a2a">2</text><text transform="matrix(0,-0.9500,1.0300,0,82.90,878.06)" font-size="10.0" fill="#2a2a2a">10</text><text transform="matrix(0,-1.0260,1.1124,0,78.40,867.75)" font-size="10.0" fill="#2a2a2a">3</text><text transform="matrix(0,-0.9500,1.0300,0,82.90,837.76)" font-size="10.0" fill="#2a2a2a">10</text><text transform="matrix(0,-1.0260,1.1124,0,78.40,827.30)" font-size="10.0" fill="#2a2a2a">4</text><text transform="matrix(0,-0.8456,1.2460,0,68.70,934.23)" font-size="10.0" font-weight="normal" fill="#2a2a2a">CD8 FITC</text><text transform="matrix(1.0601,0,0,0.7590,144.79,1017.00)" font-size="10.0" font-weight="normal" fill="#2a2a2a">0201 PE</text><path d="M88 827.6H226" stroke="#aaa" stroke-width="0.9" stroke-dasharray="2 4"/><line x1="128.4" y1="830.1" x2="128.4" y2="994.8" stroke="#000" stroke-width="1.9"/><line x1="91.7" y1="922.1" x2="242.6" y2="922.1" stroke="#000" stroke-width="1.6"/><ellipse cx="164.5" cy="893.5" rx="36.9" ry="28.6" fill="none" stroke="#000" stroke-width="1.9"/><text transform="matrix(1.7284,0,0,1.9334,178.31,871.50)" font-size="10.0" font-weight="normal" fill="#000" stroke="#000" stroke-width="0.12">5.18%</text><path d="M459.3 208.0L459.6 179.1L461.0 168.6L469.8 158.1L480.3 151.1L489.1 137.1L492.6 126.6L497.8 119.6L501.3 121.3L503.1 133.6L504.8 147.6L506.6 165.1L505.7 182.6L506.6 193.1L503.1 200.2L490.8 205.4L480.3 208.0z" fill="#e52200"/><path transform="scale(0.5)" stroke="#fff" stroke-width="2.4" stroke-linecap="square" fill="none" d="M979 277h0m-15 41h0m34 48h0m-40-24h0m31 36h0m-62-34h0m35 59h0m23-45h0m-29-33h0m52 32h0m-74 27h0"/><path transform="scale(0.5)" stroke="#e52200" stroke-width="2.7" stroke-linecap="square" fill="none" d="M1011 293h0m-58 94h0m50-48h0m-3-29h0m-13 10h0m-10 69h0m22-24h0m-13 23h0m6-136h0m-3 55h0m-13-7h0m21-49h0m-39 122h0m4 21h0m11-77h0m0-1h0m-8 55h0m0 24h0m27-129h0m-31 90h0m-15-6h0m63 5h0m-86-14h0m67-52h0m-66 64h0m44 36h0m27-3h0m-35-31h0m37-92h0m-52 85h0m39-60h0m7 52h0m-70 9h0m40-37h0m4 86h0m-6-42h0m-5 57h0m12-23h0m-44 18h0m49-3h0m1-104h0m14 49h0m-37 38h0m44-78h0m-27-14h0m-37 88h0m64-90h0m-9 82h0m-8-8h0m-45-6h0m29-43h0m40-38h0m-53 97h0m-10-26h0m5 54h0m66-92h0m-39 90h0m-22-78h0m-14 65h0m41-81h0m15 90h0m10-121h0m-47 122h0m-16-22h0m12-35h0m28-38h0m23 78h0m-7-140h0m-41 143h0m22-44h0m-31 67h0m5-60h0m32 18h0m-1-49h0m-26-2h0m1 74h0m39-105h0m-2 36h0m-5-68h0m10 17h0m17 115h0m-58-76h0m33-15h0m0-22h0m-43 62h0m30 25h0m27 10h0m-78-24h0m27 27h0m-17 6h0m6 28h0m47-12h0m-66 2h0m35-26h0m56-35h0m-20 56h0m-8-107h0m-2 31h0m9 89h0m-9-75h0m-62 4h0m41 13h0m-13-16h0m17 40h0m-36 15h0m35-75h0m-20 29h0m25 58h0m-5 12h0m40-137h0m-47 73h0m9 31h0m18-103h0m-3 68h0m21-89h0m11 94h0m-16-102h0m-34 144h0m40-126h0m-16 65h0m-23 31h0m20 35h0m-13 15h0m-23-95h0m33-27h0m11 88h0m-28 28h0m-15 12h0m2-55h0m26-20h0m24-45h0m-37 109h0m-31-34h0m60-117h0m-33 59h0m6 18h0m-36 84h0m67-60h0m-19-75h0m-44 48h0m30 59h0m7 6h0m-8 6h0m50-87h0m-90 96h0m80-18h0m6-87h0m-14 12h0m-25-17h0m0 36h0m-21 67h0m57-80h0m-56 29h0m-19 48h0m72-54h0m-78 46h0m61 15h0m-10-11h0m-7-4h0m0-11h0m6-58h0m8-22h0m-38 62h0m37-57h0m2 56h0m-4-42h0m6 42h0m16-46h0m-44 56h0m24-34h0m-53 57h0m24-72h0m45-12h0m-49 37h0m52 10h0m-64 15h0m59-41h0m3 31h0m-24 24h0m20-129h0m-72 121h0m60 9h0m13-55h0m-1-53h0m-59 63h0m69-13h0m-11 38h0m-22 29h0m-38-3h0m36 24h0m35-71h0m-64 59h0m7-48h0m48-95h0m15 29h0m-81 62h0m49-45h0m19 62h0m-59 27h0m27 3h0m11-69h0m13 57h0m13-104h0m7 67h0m-62-25h0m29-20h0m21 24h0m-9 25h0m7-83h0m8-20h0m-16 141h0m11-22h0m3 20h0m-2-63h0m-18-46h0m-37 94h0m9-43h0m20 6h0m-5-39h0m17 64h0m-5-21h0m8 1h0m8-15h0m-32 76h0m12-48h0m29-21h0m-24-28h0m20-12h0m6-45h0m-50 80h0m23 68h0m1-59h0m-16 29h0m19-77h0m-43 72h0m65-77h0m-39 32h0m-14 91h0m-22 7h0m46-33h0m-4-74h0m26-66h0m-41 146h0m7-9h0m-26 4h0m53 12h0m-32 6h0m-27-3h0m8-13h0m56-143h0m-68 103h0m2 7h0m42-17h0m-27 57h0m33-85h0m-9 24h0m-40 66h0m53-121h0m22 39h0m-4 65h0m-16-100h0m9 82h0m0-53h0m-52 99h0m23-81h0m-7 75h0m41-147h0m-10 43h0m20 2h0m-58 39h0m43 2h0m-2 25h0m-45-22h0m44-30h0m10-34h0m-42 117h0m49-56h0m-12-57h0m9-25h0m-20 85h0m-15-36h0m-18 11h0m43-66h0m7 109h0m-40-22h0m-24-3h0m5-17h0m16 64h0m23-92h0m-13 61h0m-48 4h0m34-14h0m24-8h0m-58-3h0m12 8h0m38 2h0m-39 63h0m72-83h0m-1 2h0m-35 42h0m16-105h0m-1 117h0m5-4h0m16-100h0m-12 0h0m13 56h0m-35-39h0m-6 36h0m-39 50h0m16 27h0m43-53h0m-35 62h0m25-3h0m36-61h0m-3 37h0m-52-25h0m19-14h0m-24-4h0m26-36h0m20-63h0m-47 118h0m24-17h0m5-50h0m3-18h0m-11 97h0m-34 8h0m41-28h0m21-35h0m-41 17h0m18-9h0m-14 81h0m-4-74h0m32-17h0m-54 72h0m56-129h0m-54 89h0m37-54h0m38-27h0m-29 92h0m-50-16h0m55-10h0m-23 2h0m40-65h0m-32 46h0m-44 95h0m77-59h0m-41 42h0m17-37h0m-4 16h0m-37 38h0m-12-71h0m20 72h0m42-36h0m-26 27h0m-32-66h0m40 47h0m11-29h0m-5 5h0m12 14h0m-23 14h0m34-22h0m-48-26h0m44 26h0m-1-70h0m11 47h0m0 31h0m-21-20h0m18 11h0m-43 13h0m9-72h0m-33 72h0m55-23h0m-54 0h0m14-39h0m57 61h0m-1-42h0m-84 35h0m78 24h0m-13-103h0m-55 33h0m68 10h0m-42 64h0m-1 1h0m7-57h0m-28 28h0m15 33h0m12-5h0m43-22h0m-65-18h0m44-22h0m-21-39h0m40 6h0m-34 110h0m9-107h0m-12 90h0m17-148h0m-4 129h0m8-46h0m-35-4h0m33-48h0m-19 131h0m-6-49h0m-7 40h0m-1-21h0m-13-30h0m-5-29h0m55-45h0m-47 51h0m25 67h0m19-17h0m-14-63h0m-3 64h0m-25-36h0m1-23h0m33 84h0m7-139h0m20 84h0m-52 20h0m28 11h0m-44 21h0m-2-25h0m26 7h0m-2 3h0m23-116h0m-10 88h0m-20 3h0m-14 43h0m43-42h0m6 43h0m-71-55h0m67-77h0m17 50h0m-82 14h0m24 25h0m-23-7h0m37 7h0m29-102h0m-4 134h0m4-95h0m6 52h0m-59-26h0m43 5h0m-31 15h0m49 18h0m-24-70h0m-23 98h0m-9-38h0m38-57h0m6 76h0m-13-74h0m-23 96h0m-8-34h0m35 27h0m18-150h0m12 150h0m-13-38h0m-40 23h0m33-69h0m-28 38h0m14-6h0m-32 32h0m20-43h0m8 53h0m-43-15h0m32 44h0m38-35h0m-4-14h0m-20-59h0m20 76h0m-51-38h0m1-12h0m10 80h0m57-49h0m-75 14h0m12-49h0m3 68h0m35-64h0m-49 8h0m72-49h0m-1 108h0m-45-44h0m24-57h0m-36 64h0m-26 56h0m18-82h0m53-54h0m-21 90h0m-12-17h0m21 43h0m-37 5h0m20 12h0m33-46h0m-11 7h0m-63 15h0m65-73h0m-62 84h0m55-29h0m12 32h0m-42-73h0m-25 61h0m45-74h0m32-29h0m-49 125h0m32-41h0m-2 10h0m13-127h0m-59 68h0m-3 84h0m45-10h0m22-70h0m-80 88h0m18-76h0m36 75h0m-6-67h0m-21 2h0m1 4h0m13-34h0m16 57h0m27-68h0m-53 72h0m35-116h0m21 131h0m-63-16h0m50-44h0m-4 2h0m-23-6h0m21-12h0m-39 51h0m28 35h0m2-29h0m-9 30h0m27-103h0m-21 110h0m-26-11h0m62-67h0m-15-25h0m8 21h0m-16-81h0m-1 112h0m-62 43h0m71-110h0m-79 57h0m34 48h0m-8-72h0m11 69h0m21-50h0m6-53h0m-48 47h0m35 72h0m-22-37h0m-2-23h0m5-30h0m43 58h0m-74 25h0m54-1h0m-39-30h0m12 10h0m44-111h0m7 54h0m-20 55h0m-49-33h0m40-8h0m36-7h0m-35 52h0m-1-61h0m26 22h0m14 36h0m-33 10h0m0-4h0m8-114h0m-13 64h0m-26 36h0m40-25h0m-51 45h0m-14-7h0m39-61h0m-1 19h0m17 60h0m8-132h0m-38 145h0m43-23h0m-8 6h0m16-122h0m1 123h0m-48-63h0m-8 7h0m-5 12h0m35 8h0m31 29h0m-1-25h0m-52 31h0m-2 8h0m-24-22h0m-1 15h0m74-120h0m-66 127h0m55 1h0m-36-29h0m-11-2h0m66-28h0m-1-57h0m-2-14h0m-5 118h0m-44-66h0m6 27h0m25-76h0m13 95h0m4-119h0m-7 11h0m-1 0h0m-52 144h0m47-58h0m-4-59h0m-36 25h0m6 41h0m34 46h0m8-39h0m-39-10h0m30 20h0m-10-67h0m-52 95h0m1-30h0m28 22h0m-16-11h0m58-48h0m-21-52h0m-18 105h0m34-43h0m-58 50h0m5-6h0m35-5h0m31-28h0m-9-109h0m-16 114h0m-44-26h0m11 0h0m29-61h0m28 108h0m-20-89h0m16 14h0m5-51h0m6 69h0m-9-44h0m-22-21h0m0 62h0m29 28h0m-58-3h0m28-71h0m23 51h0m5-46h0m-69 52h0m48-78h0m-15 146h0m26-57h0m-33-18h0m-37 75h0m59-121h0m-1 75h0m4-57h0m11 77h0m-15 19h0m-65-60h0m52 74h0m-10 1h0m18-18h0m26-24h0m-6 5h0m-62 33h0m68-11h0m-18-95h0m-57 89h0m43 1h0m20-2h0m-8-55h0m2 3h0m-30 75h0m-29-12h0m76 4h0m6-64h0m-21 6h0m-9 32h0m-3-93h0m-19 102h0m-23-11h0m20 29h0m39-17h0m12-97h0m-36 65h0m-36-15h0m75 10h0m-36 49h0m-16-38h0m-18-43h0m44-29h0m-51 86h0m44 34h0m7-150h0m31 129h0m-12-147h0m-10-2h0m-73 158h0m84 4h0m11-40h0m-9 40h0m-24-139h0m-1 6h0m35 62h0m-5-43h0m2 33h0m3 24h0m-16-106h0m-14 15h0m-7 16h0m0 144h0m32-21h0m-3-124h0m-22 141h0m24-13h0m-30-131h0m-60 78h0m82-103h0m8 47h0m-88 51h0m87-57h0m-89 118h0m98-39h0m-91-34h0m88 51h0m-91-45h0m91-52h0m-8-36h0m-18 1h0m-18 36h0m12 130h0m4-164h0m-53 73h0m68-83h0m8 159h0m3-26h0m-50-73h0m53 43h0m-1 19h0m-15 53h0m-81-13h0m3-56h0m61 70h0m-12-135h0m45 99h0m2-49h0m-60-27h0m57 26h0m-27-79h0m-14 19h0m41 29h0m-11 107h0m-85-14h0m96-37h0m-42 60h0m10-155h0m33 68h0m-5-28h0m-91 76h0m89 23h0m8-58h0m-3 39h0m-2-85h0m-90 34h0m90-32h0m-34 117h0m33-129h0m6 43h0m-55-32h0m53 2h0m-30-43h0m9-15h0m21 86h0m-50 91h0m-18-103h0m66-11h0m-66 6h0m34-53h0m10-16h0m19 52h0m-19-51h0m-30 60h0m-32 31h0m82 64h0m3-143h0m-89 81h0m35-36h0m57 40h0m-17 68h0m-21-145h0m36 52h0m-2 0h0m-32-57h0m34 120h0m-32-124h0m21 154h0m-4 9h0m-72-88h0m41-37h0m44 102h0m3-51h0m-24-94h0m21 65h0m-45-23h0m36-45h0m11 23h0m-85 57h0m48-46h0m-28 31h0m37-64h0m29 119h0m-90-31h0m87 41h0m0-67h0m3-3h0m-62 2h0m-32 25h0m92-25h0m0 27h0m1 35h0m-95-7h0m70 51h0m-70-58h0m20-39h0m-15 19h0m90 12h0m0-41h0m-3-52h0m-1 52h0m-31-42h0m-3 10h0m39 63h0m-2 4h0m-64-36h0m60 92h0m-21-147h0m24 48h0m-42-11h0m27 122h0m-72-79h0m82-58h0m-36 0h0m-30 34h0m-23 95h0m35-94h0m45-64h0m-25 39h0m20-37h0m20 110h0m-33-88h0m1 1h0m31 108h0m-42-91h0m1 132h0m-23-104h0m60-35h0m-3-23h0m6 41h0m-92 100h0m42-93h0m-24 16h0m-18 25h0m100-29h0m-26-70h0m23 128h0m-72-65h0m69 45h0m-46-59h0m-7 4h0m45-42h0m-33 161h0m40-119h0m-94 96h0m59-120h0m37 39h0m-1 49h0m-41-75h0m39 3h0m4 9h0m-25-56h0m0 6h0m-13 17h0m36 108h0m-1 22h0m-40 21h0m36-132h0m-24 132h0m-38-103h0m67 64h0m-30 37h0m27-18h0m0-104h0m-3-32h0m8 127h0m0-4h0m-29 30h0m26-138h0m-2-3h0m-92 145h0m95-24h0m-34-137h0m11 157h0m-41-106h0m57-42h0m5 29h0m-79 29h0m-3 6h0m41-42h0m37-23h0m-76 60h0m80-60h0m-1 5h0m-90 74h0m82 66h0m3-147h0m-42 35h0m47-28h0m-8 143h0m-68-94h0m61-81h0m19 122h0m-94-10h0m94-53h0m-40 120h0m-48-82h0m-5-4h0m90-26h0m-92 77h0m97-67h0m-25-68h0m-24 44h0m1 126h0m49-40h0m-30-125h0m32 49h0m-6 61h0m-1-48h0m1 48h0m-95 4h0m57 50h0m38-51h0m-90-37h0m64 86h0m26-104h0m-90 23h0m85-65h0m-48 36h0m33-60h0m-14 22h0m35 47h0m-70 3h0m0-5h0m-7 11h0m76 2h0m3 35h0m-3 17h0m-25-127h0m-57 74h0m49-51h0m-61 70h0m92-94h0m4 76h0m-1 9h0m-43-47h0m38-40h0m-22 5h0m30 82h0m-4-45h0m-42-2h0m10 129h0m32-110h0m4-38h0m-18-24h0m-21 33h0m-43 38h0m31-25h0m47 14h0m-80 22h0m28-22h0m19 112h0m35-21h0m-5-108h0m-34 130h0m39-44h0m-6-121h0m-34 30h0m39 64h0m-62-44h0m13-10h0m-47 126h0m80-175h0m14 62h0m6 82h0m-15 19h0m-84 6h0m55 5h0m-48-85h0m50-53h0m31 126h0m-13-165h0m-2 174h0m-25-124h0m48 86h0m-84-57h0m77 84h0m-38-124h0m44 45h0m-25 94h0m-57-91h0m84-34h0m-9-35h0m14 101h0m-8 4h0m-2-54h0m5 42h0m-97 39h0m0 26h0m95-93h0m-22-78h0m13 18h0m-5 148h0m17-20h0m-35 26h0m35-82h0m-48-44h0m22-43h0m18 22h0m-90 120h0m55-110h0m-30 36h0m63-43h0m13 76h0m-35-95h0m27 40h0m-16-52h0m-78 167h0m51-117h0m-16 18h0m37 104h0m-72-20h0m84 13h0m4-147h0m-44 34h0m43-32h0m-61 53h0m65 85h0m4-2h0m-6-122h0m5 93h0m-7-108h0m-72 67h0m84 59h0m-27 27h0m25-79h0m-27-87h0m-60 84h0m33-36h0m22 122h0m21-162h0m-54 54h0m30-39h0m26 135h0m2-2h0m6-53h0m0-9h0m-4-45h0m-45 0h0m-1-6h0m12-10h0m-33 28h0m68-6h0m2 77h0m4-102h0m-51 18h0m27 115h0m24-75h0m-5-25h0m-18 99h0m12-163h0m-14-5h0m21 152h0m-23-148h0m2-6h0m1 171h0m-26-116h0m23-49h0m17 21h0m6 37h0m-5-41h0m-30 1h0m-47 65h0m-12 20h0m67 67h0m11-6h0m-30-118h0m43-22h0m-30-5h0m39 65h0m-35-72h0m2 158h0m-51-95h0m48-61h0m-34 50h0m-13 9h0m76 40h0m-2-70h0m-32 129h0m34-122h0m-92 59h0m30-44h0m66 14h0m-1 66h0m-5-93h0m-2-13h0m-71 34h0m11-8h0m63-3h0m12-11h0m-18-39h0m4-1h0m-7-12h0m6 41h0m3 109h0m-75-73h0m6-5h0m74 18h0m0-9h0m-70-12h0m34-41h0m-3 143h0m30-165h0m-86 92h0m58 73h0m42-68h0m-47-72h0m41 29h0m-2 44h0m2-14h0m-4-38h0m-47 2h0m16-28h0m11-26h0m7-7h0m19 133h0m0-59h0m-67-2h0m39-60h0m-5 8h0m-41 60h0m28-36h0m-52 86h0m72-120h0m-72 96h0m85 62h0m-59-91h0m-3 2h0m21-20h0m5 122h0m14-162h0m-17 42h0m46 105h0m4-52h0m-6-68h0m-43 12h0m54 6h0m-101 45h0m22-28h0m21-24h0m7-5h0m-44-14h0m23 22h0m14-10h0m-1-7h0m-32 17h0m21-30h0m-10-2h0m14-20h0m-23 76h0m-1-26h0m50-21h0m-58 1h0m7-9h0m18-21h0m40 15h0m-34 24h0m-20-20h0m-3 6h0m-3 0h0m-5 18h0m12-15h0m-8-5h0m6 2h0m2 44h0m-2 9h0m35-39h0m-23 7h0m-15-7h0m47-57h0m-6 30h0m-22 26h0m-22-4h0m29 26h0m20-46h0m-26 38h0m21-59h0m11 3h0m-50 83h0m32-71h0m-39 55h0m55-40h0m-28 10h0m-19 25h0m14-11h0m-3-29h0m-24 22h0m58-18h0m-34 7h0m-1 15h0m36-14h0m-44-19h0m-16 31h0m52-30h0m-37 41h0m29-43h0m-41 30h0m63-37h0m-17 10h0m-37 2h0m43 8h0m-21-7h0m19-7h0m13-6h0m-38 14h0m3 16h0m20-14h0m-31-1h0m21 8h0m-4-16h0m-24 17h0m43-21h0m-55 46h0m25-1h0m6-3h0m-11-39h0m9 32h0m12-17h0m-8 25h0m-24-10h0m29-29h0m-23 25h0m7 10h0m25-36h0m-34 17h0m18-13h0m-20 63h0m30-28h0m-39 35h0m3-65h0m18 2h0m-7-1h0m25-1h0m-25 7h0m34 6h0m-22 0h0m7-2h0m-16 38h0m42-47h0m-55 8h0m11 15h0m13 17h0m15-46h0m12-13h0m-49 38h0m47-35h0m-50 69h0m27-38h0m15-9h0m-8-13h0m-14 15h0m-13 8h0m30 0h0m-34-7h0m26 20h0m-32-6h0m29 13h0m-7 6h0m14-29h0m-3-22h0m10-8h0m3 16h0m-45 34h0m38-58h0m-10 64h0m20-57h0m-16 12h0m-35 78h0m3-18h0m44-85h0m-9 54h0m-35 30h0m33-41h0m-29 45h0m14-4h0m10-39h0m23 0h0m-46 27h0m11 9h0m0-51h0m3 35h0m11-15h0m-11 1h0m-5 19h0m-4 6h0m-12 8h0m54-78h0m-11 20h0m2 36h0m-13-49h0m23 14h0m-41 10h0m8-27h0m23 39h0m-34-10h0m5 25h0m25-19h0m-23-12h0m-9-10h0m8 54h0m27-36h0m-35 21h0m10-42h0m-2 59h0m33-56h0m5 0h0m-52 29h0m50-16h0m8-1h0m1-21h0m-53 51h0m5 19h0m-8-31h0m41-49h0m-48 76h0m34-69h0m-27 75h0m46-78h0m-4 9h0m-31 45h0m-5-3h0m62-38h0m-62 75h0m10-59h0m31-11h0m-45 6h0m27-2h0m23 18h0m-49 52h0m5-65h0m46-4h0m-45 42h0m-9 26h0m37-90h0m-8 41h0m-4 5h0m16-18h0m-13-19h0m-28 27h0m56-2h0m-60 29h0m9-6h0m38-6h0m-20-38h0m-3-52h0m12 65h0m-1-59h0m3 27h0m-34 15h0m14-36h0m-2-14h0m14 17h0m3 68h0m10-84h0m23 8h0m-53 19h0m30 52h0m-31 26h0m49-85h0m-47-23h0m49 13h0m-48 32h0m25-16h0m-40 65h0m61-81h0m-43 72h0m-10-45h0m51-4h0m-58 54h0m46-64h0m-10 71h0m-6-30h0m-19-66h0m15 71h0m11-54h0m-12 85h0m-27-52h0m5 43h0m31-98h0m-38 123h0m51-102h0m-49 120h0m60-116h0m-15 23h0m9 5h0m-50 51h0m30-103h0m-22 70h0m44-63h0m-22 99h0m18-95h0m-6 17h0m-28 23h0m15-51h0m13 71h0m-31-63h0m-6 104h0m6-112h0m48 53h0m-51 23h0m48-69h0m-56 90h0m13-32h0m17-18h0m-36 75h0m63-107h0m-36 100h0m6-51h0m8 30h0m-10 6h0m-32-40h0m17-9h0m16 75h0m-24-55h0m44-4h0m8-58h0m-35 72h0m3-18h0m24-12h0m-11 11h0m-24 60h0m-5-76h0m-5-3h0m42-32h0m-34 76h0m-11-27h0m48 33h0m-10-32h0m20-50h0m-25 97h0m0-6h0m1-14h0m25-88h0m-19 87h0m-30-58h0m32 10h0m-9 33h0m13-65h0m-48 75h0m8-7h0m32 17h0m-34 30h0m60-78h0m-21 38h0m-34-16h0m4 34h0m-5-14h0m36-42h0m0 27h0m-8-19h0m-30 82h0m51-76h0m-40-24h0m-15 9h0m41-50h0m-1 55h0m17-41h0m-26 68h0m3-68h0m-26 15h0m12 24h0m-23 74h0m61-101h0m-42 72h0m-10-35h0m38-58h0m-10 96h0m-17-59h0m-16 57h0m7-26h0m0-36h0m-9 95h0m23-120h0m4 32h0m22 6h0m-55-23h0m47 57h0m-26-75h0m-15 87h0m10 5h0m33-50h0m10-19h0m-10 33h0m26-54h0m-48 82h0m7-46h0m24-37h0m-22 32h0m-24 41h0m34-6h0m-9-43h0m-2-5h0m23 25h0m-39-23h0m6 14h0m-2 77h0m-18-13h0m13 11h0m-15-5h0m14-18h0m-6-71h0m16-15h0m8 33h0m-30 79h0m37-88h0m6 32h0m-35 41h0m9-8h0m11-75h0m-30 5h0m12-8h0m31 11h0m6 32h0m10-34h0m-21-5h0m4-9h0m-40 109h0m32-102h0m-32 115h0m72-131h0m-68 108h0m18-45h0m-6 13h0m25-68h0m-32 112h0m2-67h0m-5 41h0m23 7h0m13-100h0m-17 77h0m-27-27h0m65-10h0m-32 48h0m-18-42h0m93 139h0m-3-105h0m3-16h0m1 3h0m-12 66h0m-9-76h0m18 42h0m9-23h0m-17 102h0m12-55h0m-5-2h0m-19 74h0m-3-125h0m27 70h0m-14 18h0m10 3h0m-4-17h0m4 18h0m-3-43h0m21 29h0m-24-90h0m-10 64h0m16-57h0m-20 29h0m14 11h0m-8-50h0m21 18h0m-9 50h0m2-37h0m-9 38h0m1 72h0m-11 0h0m2-9h0m11-28h0m-2 30h0m1-54h0m-3-32h0m10 11h0m14 18h0m-22 18h0m4-66h0m9 89h0m2-21h0m4 15h0m-31-81h0m3 94h0m14-68h0m1 67h0m-11-122h0m2 142h0m27-63h0m-22 10h0m18 29h0m-17-38h0m1 11h0m-5-11h0m21-1h0m-22 42h0m7-64h0m14 24h0m-16 23h0m-8-54h0m11 1h0m-5-26h0m-7 5h0m7 84h0m22-36h0m-28-32h0m18 51h0m-16-80h0m12 6h0m6 26h0m-17 83h0m24-20h0m-30-1h0m3-58h0m14 12h0m-10 70h0m-4-73h0m-12-28h0m12-23h0m0 89h0m13-83h0m2 10h0m4 47h0m-19-81h0m6 121h0m14 9h0m-13-70h0m0-27h0m-4 38h0m-5 57h0m7-95h0m1-23h0m3 52h0m-8 8h0m8 16h0m2-37h0m10 46h0m-2-1h0m-2 13h0m-15 34h0m5-13h0m-12-23h0m7-61h0m5 87h0m1-118h0m-12 12h0m25 90h0m-8-56h0m-1 62h0m1-49h0m-15 14h0m-1 26h0m6 20h0m1-22h0m5 42h0m-13-80h0m16 28h0m11 11h0m-10 15h0m0 19h0m13-33h0m-24-76h0m5-2h0m-19 15h0m18-8h0m1 61h0m6-67h0m-5 100h0m4-109h0m-19 33h0m19-19h0m-18 70h0m12 10h0m19-57h0m-24 13h0m-6-79h0m0 40h0m32 69h0m-14-100h0m-8 135h0m-12-133h0m25 135h0m-21-31h0m-3-92h0m26 87h0m-6 1h0m-15-77h0m-1 12h0m2-8h0m13-43h0m7 141h0m-7-82h0m-14 17h0m7-4h0m6 27h0m5-29h0m-15 31h0m23 13h0m-29-84h0m-4 59h0m21 46h0m-10-86h0m14 78h0m-9-84h0m-10 10h0m17 24h0m-1 44h0m-17-50h0m1-33h0m17-13h0m-1 111h0m-1-95h0m2 41h0m4 44h0m-9-34h0m-9-29h0m4 0h0m9-3h0m-10 34h0m-12-54h0m35 93h0m-6-8h0m-2 10h0m-1 8h0m-14-16h0m4-60h0m17 43h0m-17-65h0m3 30h0m12 45h0m-13-109h0m1 41h0m-3 74h0m-2-96h0m3 30h0m5 73h0m0 11h0m0-62h0m-11-29h0m29 58h0m-37-46h0m24 43h0m-12-10h0m-14 1h0m29 20h0m-5-62h0m10 77h0m-4-91h0m-4 7h0m-8 3h0m3-27h0m-3 32h0m18 93h0m-15-16h0m6-15h0m-24 41h0m-1-18h0m25-59h0m-17-60h0m14 60h0m-3 5h0m6-41h0m-9 42h0m1-64h0m-19 10h0m23 107h0m7-77h0m-8-32h0m22 46h0m-17-66h0m19 71h0m-12 35h0m-31-29h0m-1-31h0m19 3h0m3-55h0m25 43h0m-39-27h0m12 130h0m-4-97h0m13 96h0m-4-64h0m-16 73h0m20-40h0m-21-81h0m15-21h0m-14 27h0m-3-9h0m20 114h0m7-39h0m-24 41h0m23-36h0m-25-108h0m28 152h0m-13-50h0m14-20h0m9-69h0m-8 97h0m0-58h0m-34-34h0m21 41h0m6-43h0m-1 130h0m5-54h0m-4 8h0m7 5h0m-20 16h0m20-107h0m-15 25h0m-4-50h0m2 80h0m7-76h0m-17 129h0m-2-110h0m28 2h0m-5 73h0m19-40h0m5 41h0m-26-40h0m-11 13h0m0 50h0m-9-96h0m-5 20h0m9-6h0m20 29h0m-13 41h0m-1 1h0m12 46h0m-15-60h0m-10-91h0m7 74h0m28 33h0m-11-81h0m7 110h0m-4-100h0m-10-20h0m-3-13h0m17 143h0m-5-56h0m-6-89h0m-8 146h0m24-97h0m-29 54h0m26 4h0m-7-55h0m10-39h0m-15-8h0m-1 138h0m-12-18h0m21-67h0m2 87h0m-15-33h0m15-10h0m-11-83h0m-9 29h0m-11 68h0m19 41h0m8-64h0m-20-52h0m4 43h0m15-63h0m-13 31h0m12-55h0m-2 50h0m5 24h0m-1-49h0m16 18h0m-29 107h0m-11-5h0m20-89h0m-26-38h0m-2 141h0m5-18h0m41-87h0m-1 23h0m-31-13h0m14 78h0m10-58h0m-29-79h0m12 28h0m-3 128h0m-18-133h0m24 65h0m2-33h0m-7 34h0m32-11h0m-21 46h0m-32-55h0m28-25h0m-14-46h0m-9 1h0m12 23h0m-2 7h0m-1 122h0m7-111h0m-9 65h0m10-132h0m-12 146h0m33-58h0m-26-41h0m22 91h0m-11-122h0m-7 139h0m0-92h0m15 79h0m7-96h0m-3 42h0m-36 38h0m7 11h0m24-15h0m-18-51h0m19 56h0m-14-55h0m6-43h0m-27 27h0m27-1h0m10 101h0m-42-107h0m23 23h0m15 1h0m-23 26h0m29-52h0m-15-37h0m12 144h0m-3-102h0m-7 24h0m-26-29h0m13 3h0m-6 43h0m0 14h0m21 9h0m-5 25h0m-5-27h0m-7 43h0m-1-23h0m31-89h0m-16 20h0m-14 50h0m-4 74h0m-2-43h0m25-62h0m17-36h0m-41 104h0m-11-114h0m48 45h0m-20 1h0m-18-37h0m33 2h0m-14 58h0m5-30h0m-24-38h0m-4 14h0m27-25h0m-11 105h0m3 23h0m4-21h0m-24-23h0m15 54h0m15-63h0m-4-96h0m-13 143h0m5 35h0m2-176h0m-1 105h0m-1-100h0m19 77h0m-16 52h0m4-109h0m6 63h0m-16 64h0m18-20h0m-4-131h0m-5 167h0m11-105h0m-13 100h0m-19-114h0m7 94h0m18-99h0m-14 21h0m24 49h0m-7-78h0m-22 43h0m21 99h0m-23-18h0m20-55h0m-4-95h0m6 10h0m-6 29h0m20 26h0m-33 67h0m6-124h0m22 146h0m-31-121h0m-2-31h0m15 106h0m1-14h0m-40 83h0m18-159h0m6 108h0m-34-100h0m35 117h0m-3-141h0m17 64h0m-5-72h0m-35 10h0m-60 63h0m89 32h0m7 43h0m-51 35h0m40-45h0m-6-161h0m10 68h0m-5-12h0m8 46h0m-1-62h0m-73 42h0m59-36h0m-81 67h0m26-36h0m12 5h0m49 70h0m1 10h0m2 12h0m-96-27h0m94 14h0m17-116h0m-5 15h0m-66 6h0m-32 50h0m90-39h0m7 117h0m-10-25h0m-3-90h0m-61-6h0m69 118h0m26-15h0m-86-85h0m-39 51h0m31-45h0m-21-2h0m87-48h0m-96 74h0m101 4h0m-4-17h0m-63-36h0m25-61h0m45 153h0m-86-68h0m89-7h0m-77 7h0m9-14h0m-37 28h0m98-29h0m-77-16h0m88 107h0m2-47h0m-26-76h0m-24-5h0m40 102h0m-12-69h0m3 89h0m-36 36h0m44-13h0m-96-73h0m84-23h0m1-70h0m-5 182h0m3-114h0m-6-80h0m10 189h0m11-143h0m22 100h0m-26-39h0m-67-30h0m70-5h0m4-33h0m6 93h0m-20 3h0m-43-110h0m66-1h0m-11 65h0m10-33h0m-12 67h0m-24-109h0m-27 21h0m-15 5h0m53 134h0m-27 20h0m53-126h0m-10 116h0m-5-61h0m-41-95h0m50 64h0m11 24h0m-86-35h0m58 9h0m-1-10h0m-5 99h0m12-56h0m-94-14h0m91 46h0m-22 31h0m24-141h0m3 59h0m-68-35h0m-18 27h0m77-16h0m14 47h0m-78-63h0m86-46h0m-98 56h0m17-2h0m27-55h0m-55 84h0m100 29h0m-8 51h0m-48-158h0m60 68h0m-21 102h0m9-11h0m5-4h0m-4-71h0m-2-54h0m-4 47h0m-49-25h0m66 82h0m4-16h0m-7-51h0m12-22h0m4 55h0m-15-36h0m-75-36h0m66 64h0m-84-63h0m86 116h0m32-61h0m-29 88h0m-2-112h0m2 78h0m-82-104h0m-2 38h0m89-6h0m-29-101h0m-76 116h0m47-69h0m14-14h0m-8 12h0m35 21h0m-67 37h0m22-27h0m-48 114h0m105-30h0m-46-137h0m-32 79h0m72 46h0m-11-92h0m10 88h0m-1-8h0m9-80h0m-4-15h0m-93 70h0m23-11h0m17-24h0m-49 81h0m109 21h0m-8-30h0m-77-51h0m75-37h0m-97 49h0m99 70h0m-87-68h0m111 50h0m-94-61h0m16-18h0m18-68h0m35 149h0m-72-67h0m64-10h0m15 49h0m1-30h0m-78-18h0m78-33h0m1 50h0m-45 102h0m40-60h0m-84-45h0m-2-26h0m80 91h0m-72-79h0m-21 13h0m93 39h0m-7-59h0m-79 9h0m90 76h0m-1-8h0m-59-98h0m10 14h0m5-61h0m43 73h0m-41-45h0m33 55h0m-18-67h0m39 155h0m-11-24h0m9 13h0m15 1h0m-8 3h0m4 6h0m0-1h0m-11 8h0m13-10h0m-16-9h0m5 22h0m-12-4h0m14 4h0m11-6h0m-3-18h0m-1 25h0m-19-8h0m-4-10h0m25-2h0m-5-11h0m-4 14h0m13 2h0m-11-11h0m19 19h0m-18 0h0m4-11h0m-14 3h0m1-1h0m5-3h0m-17-20h0m34 19h0m-21 2h0m13-8h0m-28-10h0m16 28h0m3-13h0m-4 5h0m-3-16h0m6 14h0m-11-19h0m5 20h0m0 16h0m4-17h0m-11 11h0m17-13h0m-1-11h0m-7-4h0m-25 28h0m44-8h0m-22-12h0m5 31h0m4-15h0m-6-10h0m-4 4h0m-8 15h0m12-16h0m-7 14h0m21-5h0m-30-2h0m42-8h0m-24-10h0m-11 21h0m8-3h0m20-14h0m-13 15h0m11 6h0m-18-11h0m-1-32h0m7 38h0m4-15h0m-16 22h0m-8-22h0m29 17h0m-16-21h0m6 14h0m0 3h0m1-19h0m-4 9h0m6 2h0m12 9h0m-20-9h0m24-1h0m-31-18h0m15 19h0m3 9h0m-21-14h0m7 15h0m6 5h0m5-27h0m-3 14h0m-11 2h0m25 8h0m-20 4h0m-5-21h0m11 6h0m0-17h0m-3 10h0m1 13h0m-11-23h0m14 24h0m4 4h0m-4-1h0m-9-17h0m17-11h0m-23 24h0m13-2h0m10-14h0m-18 0h0m-6 10h0m22 11h0"/><path transform="scale(0.5)" stroke="#111" stroke-width="2.6" stroke-linecap="square" fill="none" d="M969 151h0m-13 31h0m-13-20h0m-9-24h0m54 22h0m-6-57h0m49 26h0m-71-8h0m9 37h0m48-20h0m-44 35h0m13-39h0m-34 7h0m-21 2h0m-1 11h0m43-7h0m10 4h0m3-6h0m-41 0h0m43-16h0m-2 5h0m-47 30h0m-12-26h0m33 32h0m51-33h0m-88 13h0m57-14h0m-30 31h0m-18-28h0m-8 3h0m66-12h0m-47 0h0m-23 28h0m26-63h0m5 21h0m-5 54h0m13-37h0m-2-1h0m12 36h0m-14 2h0m-62-11h0m72-3h0m14-31h0m-25 43h0m41-19h0m-10 2h0m-3 8h0m-24-15h0m19-31h0m-6 60h0m-32-16h0m24-14h0m-19-12h0m-42 9h0m70 11h0m-8 7h0m-11-33h0m-25 27h0m88-38h0m-65 58h0m12-10h0m3 0h0m-32 13h0m-6-24h0m23 19h0m-3 2h0m3-21h0m50-9h0m-51 6h0m5-10h0m-1 3h0m11 31h0m-21-44h0m75 30h0m-69-3h0m15-9h0m16 8h0m-12-17h0m-26 7h0m-36-76h0m23-2h0m177 0h0m-45 1h0m41 0h0m-98 0h0m-59-1h0m15 1h0m52 0h0m-19 1h0m-53-1h0m123-1h0m52 1h0m-106 1h0m-117-1h0m40-1h0m207 2h0m-61-1h0m35 0h0m60 1h0m-138-2h0m-131 2h0m59-1h0m132 0h0m-161 0h0m173 0h0m-171-1h0m84 2h0m-95-2h0m107 2h0m-52-1h0m98-1h0m-160 2h0m242-2h0m-174 1h0m11-1h0m18 2h0m114-1h0m-107 1h0m-112-1h0m80 0h0m38-1h0m121 2h0m-38-2h0m-29 1h0m97 0h0m-28 0h0m-161 0h0m76-1h0m-145 1h0m33 0h0m147 1h0m69-1h0m-215 0h0m69 0h0m12 1h0m-32 0h0m-1 0h0m-12 0h0m-33-1h0m11-1h0m44 2h0m7 0h0m-61-1h0m-27 0h0m49 1h0m46-1h0m-50 1h0m-54-1h0m61-1h0m49 1h0m-87 1h0m53 0h0m-85 0h0m-2 0h0m86-2h0m57 1h0m-130 1h0m54 0h0m-31-1h0m55 1h0m-15 0h0m-6-1h0m-44 0h0m94 0h0m-100-1h0m10 1h0m13 1h0m-24-1h0m-19 0h0m46-1h0m-48 0h0m106 2h0m42-1h0m-110-1h0m27 2h0m34 0h0m33-1h0m-61 1h0m16-1h0m18-1h0m-58 0h0m-28 0h0m-4 0h0m31 1h0m65-1h0m-55 1h0m73 0h0m-120 1h0m128 0h0m113 298h0m-34-270h0m27 252h0m-5-260h0m35 254h0m-47 11h0m44-76h0m-22 7h0m-31-34h0m-6-25h0m-24 91h0m47-13h0m21-89h0m-90-130h0m-26 35h0m-17-28h0m-53-5h0m94 15h0m-106 35h0m95-23h0m2 22h0m-36-46h0m-80 38h0m60-17h0m-42 24h0m86-26h0m-107-5h0m44-21h0"/><rect x="442.7" y="32.7" width="151.00" height="176.00" fill="none" stroke="#111" stroke-width="1.5"/><line x1="442.7" y1="31.950000000000003" x2="442.7" y2="209.54999999999998" stroke="#000" stroke-width="1.7"/><line x1="441.84999999999997" y1="208.7" x2="593.7" y2="208.7" stroke="#000" stroke-width="1.7"/><text transform="matrix(0,-1.1200,1.1300,0,433.80,209.81)" font-size="10.0" fill="#2a2a2a">0</text><text transform="matrix(0,-1.1200,1.1300,0,433.80,181.93)" font-size="10.0" fill="#2a2a2a">200</text><text transform="matrix(0,-1.1200,1.1300,0,433.80,147.59)" font-size="10.0" fill="#2a2a2a">400</text><text transform="matrix(0,-1.1200,1.1300,0,433.80,113.57)" font-size="10.0" fill="#2a2a2a">600</text><text transform="matrix(0,-1.1200,1.1300,0,433.80,79.35)" font-size="10.0" fill="#2a2a2a">800</text><text transform="matrix(0,-1.1200,1.1300,0,433.80,48.47)" font-size="10.0" fill="#2a2a2a">1000</text><clipPath id="c3"><rect x="0" y="0" width="597.6" height="1151"/></clipPath><g clip-path="url(#c3)"><text transform="matrix(1.1300,0,0,1.1600,440.56,226.60)" font-size="10.0" fill="#2a2a2a">0</text><text transform="matrix(1.1300,0,0,1.1600,463.27,226.60)" font-size="10.0" fill="#2a2a2a">200</text><text transform="matrix(1.1300,0,0,1.1600,492.48,226.60)" font-size="10.0" fill="#2a2a2a">400</text><text transform="matrix(1.1300,0,0,1.1600,521.39,226.60)" font-size="10.0" fill="#2a2a2a">600</text><text transform="matrix(1.1300,0,0,1.1600,550.49,226.60)" font-size="10.0" fill="#2a2a2a">800</text><text transform="matrix(1.1300,0,0,1.1600,576.22,226.60)" font-size="10.0" fill="#2a2a2a">1000</text></g><path d="M436.7 207.9H442.7M436.7 173.7H442.7M436.7 139.5H442.7M436.7 105.4H442.7M436.7 71.2H442.7M436.7 37.0H442.7M443.7 208.7V214.7M472.8 208.7V214.7M501.8 208.7V214.7M530.9 208.7V214.7M559.9 208.7V214.7M589.0 208.7V214.7" stroke="#000" stroke-width="2" fill="none"/><path d="M439.2 201.1H442.7M439.2 194.2H442.7M439.2 187.4H442.7M439.2 180.6H442.7M439.2 166.9H442.7M439.2 160.0H442.7M439.2 153.2H442.7M439.2 146.4H442.7M439.2 132.7H442.7M439.2 125.9H442.7M439.2 119.0H442.7M439.2 112.2H442.7M439.2 98.5H442.7M439.2 91.7H442.7M439.2 84.9H442.7M439.2 78.0H442.7M439.2 64.3H442.7M439.2 57.5H442.7M439.2 50.7H442.7M439.2 43.8H442.7M449.5 208.7V212.2M455.3 208.7V212.2M461.1 208.7V212.2M466.9 208.7V212.2M478.6 208.7V212.2M484.4 208.7V212.2M490.2 208.7V212.2M496.0 208.7V212.2M507.6 208.7V212.2M513.4 208.7V212.2M519.3 208.7V212.2M525.1 208.7V212.2M536.7 208.7V212.2M542.5 208.7V212.2M548.3 208.7V212.2M554.1 208.7V212.2M565.8 208.7V212.2M571.6 208.7V212.2M577.4 208.7V212.2M583.2 208.7V212.2" stroke="#000" stroke-width="1.4" fill="none"/><text transform="matrix(0,-1.1096,1.2558,0,421.70,151.00)" font-size="10.0" font-weight="normal" fill="#2a2a2a">SSC-Height</text><text transform="matrix(0.9499,0,0,1.2210,561.02,166.90)" font-size="10.0" font-weight="normal" fill="#222">R1</text><path d="M442.4 184 L451.8 104.4 L503.3 79.2 L544.7 96.4 L529.6 208.7" stroke="#000" stroke-width="1.7" fill="none"/><path d="M452.4 443.6L456.1 430.5L461.9 418.8L469.2 410.1L478.0 401.3L483.8 394.0L488.2 385.3L490.4 382.3L491.8 388.2L490.4 398.4L489.6 410.1L488.2 421.8L492.6 426.1L494.0 430.5L491.8 436.4L483.8 439.3L476.5 440.7L466.3 442.2L454.6 445.1z" fill="#e52200"/><path transform="scale(0.5)" stroke="#fff" stroke-width="2.4" stroke-linecap="square" fill="none" d="M939 856h0m-17-14h0m32 21h0m-39 16h0m8-17h0m57-84h0m-15 45h0m-8 0h0m-15-4h0m-32 51h0m69-91h0m-45 80h0"/><path transform="scale(0.5)" stroke="#e52200" stroke-width="2.7" stroke-linecap="square" fill="none" d="M954 822h0m-19 47h0m27-29h0m8-19h0m13-8h0m-40 54h0m-13-36h0m42 43h0m-37 3h0m14-30h0m18-45h0m-14 47h0m11-26h0m-16 35h0m21-28h0m-35 7h0m39-30h0m-42 60h0m39-57h0m-18 21h0m24-20h0m-47 44h0m20 19h0m17-62h0m-13 59h0m24-12h0m-43-14h0m13 30h0m1 6h0m0-59h0m0-3h0m-4 2h0m-8 2h0m1 43h0m0-30h0m46 27h0m-35 16h0m12-83h0m-44 72h0m17 6h0m35-75h0m9-12h0m-42 55h0m41-41h0m-18 57h0m-31-1h0m57-79h0m-24 68h0m-54 40h0m49-35h0m-27-4h0m-4 39h0m43-79h0m14-33h0m-14 63h0m-8-22h0m14-34h0m-5 57h0m-24-14h0m35 35h0m-37 12h0m20-69h0m10 1h0m-40 41h0m40 21h0m-43 15h0m31-78h0m5 48h0m-10 21h0m-29-27h0m46-31h0m-45 53h0m21-26h0m-31 18h0m5 13h0m52-89h0m-43 75h0m13 24h0m-10-47h0m-26 47h0m38-37h0m-15 37h0m35-60h0m-38 62h0m24-64h0m28-20h0m-26 5h0m19 11h0m-26 53h0m-15 9h0m27-10h0m-29 7h0m48-105h0m-7 112h0m1-58h0m-63 46h0m69-54h0m-45 42h0m35-62h0m6 40h0m5 15h0m-59 7h0m57-75h0m-8 26h0m-35 71h0m0-43h0m8 15h0m-26 38h0m48-35h0m-37 30h0m26-76h0m12 57h0m-17 3h0m12-50h0m-23 53h0m12-24h0m-38 35h0m20-41h0m7-4h0m22 38h0m-5-5h0m-12-27h0m10-7h0m-18 27h0m41-66h0m3 79h0m-35-6h0m30-17h0m9-4h0m-26-8h0m-14-18h0m31 11h0m10-43h0m-74 82h0m42-12h0m-11-35h0m22-9h0m-36 59h0m41-64h0m11 31h0m-13 32h0m-12-16h0m12-28h0m-21 36h0m8-15h0m-16-15h0m44-48h0m-47 48h0m-12 9h0m56-64h0m-56 79h0m35 6h0m-37 9h0m42-22h0m-10 21h0m8-10h0m-20-20h0m-21 9h0m58-59h0m-62 68h0m51-73h0m-54 85h0m53-54h0m-17 18h0m-19 0h0m44 33h0m-3-57h0m-4 50h0m-48-7h0m56 12h0m2-86h0m-16 19h0m-25 35h0m27 0h0m-44 35h0m14-21h0m-7-11h0m19 15h0m1-22h0m-3 25h0m21-39h0m6 17h0m-23 35h0m26-66h0m-7 20h0m12 23h0m-19-24h0m0-2h0m-41 53h0m2-12h0m27 16h0m-27 4h0m61-120h0m-10 58h0m-20-1h0m-23 28h0m7 9h0m-15 18h0m23-50h0m34-30h0m-11 15h0m-13 25h0m-6 28h0m-26 4h0m28 3h0m34-62h0m-29 44h0m22 1h0m4-76h0m-45 47h0m6 8h0m-8 16h0m35 3h0m-5-57h0m-17 82h0m-13-16h0m20-11h0m-29 12h0m-7 19h0m55-39h0m-34 30h0m8-37h0m13-20h0m-27 22h0m38 18h0m2 11h0m6-14h0m-8-12h0m-12-34h0m-15 11h0m24 6h0m-9 39h0m-31 21h0m4-24h0m-8-2h0m52 18h0m-35 2h0m22-56h0m5 13h0m-18 38h0m-11 7h0m-1-48h0m11 33h0m-14-5h0m33-17h0m-16 16h0m32-81h0m-12 48h0m0-24h0m-40 47h0m55 5h0m-8 11h0m-6-11h0m-40-3h0m34-7h0m-47 23h0m18-1h0m40-66h0m-32 73h0m15-46h0m-35 24h0m11-23h0m36-29h0m-28 54h0m22-34h0m-52 71h0m50-85h0m17-34h0m-8 67h0m-35-7h0m21 44h0m-50 8h0m40-5h0m-23-36h0m-19 43h0m46-37h0m21 21h0m-18-47h0m9 5h0m-51 43h0m0 15h0m52-92h0m-24 70h0m22-61h0m-36 36h0m46-51h0m-6 46h0m12-27h0m-2 55h0m-45-28h0m26 17h0m-3-11h0m-12 29h0m27-44h0m-1 13h0m6 31h0m-17-12h0m-29-3h0m-10 9h0m51-68h0m-3 7h0m-24 45h0m38-76h0m-45 68h0m35 37h0m-47-5h0m0-15h0m3-21h0m40 22h0m-35-21h0m28-15h0m-21 10h0m26 40h0m-17-33h0m-23 13h0m43 17h0m2-36h0m-62 45h0m53-8h0m18-31h0m-40 33h0m38 3h0m-31-31h0m-5-13h0m19 13h0m-28 41h0m-6-31h0m51-47h0m-12-5h0m-9 63h0m15-54h0m-30 51h0m28-74h0m-51 66h0m60-18h0m-30-15h0m-27 39h0m57-47h0m0 12h0m-12 56h0m-5-60h0m4 59h0m-21-24h0m8 3h0m-30 12h0m27-47h0m-30 68h0m47-47h0m7-43h0m-12 4h0m-55 52h0m42 34h0m16-101h0m-17 15h0m-37 53h0m79 8h0m-7-69h0m8 60h0m-52-35h0m-20 26h0m31-47h0m29-31h0m2 50h0m5-2h0m10 57h0m-16-48h0m-50-6h0m63 56h0m-91-7h0m64 14h0m-34-55h0m-23 44h0m0-7h0m78-11h0m3 13h0m1-4h0m-26-77h0m-5 97h0m-59-3h0m10-12h0m70-45h0m-64 67h0m71-94h0m-91 90h0m34 3h0m32-4h0m24-95h0m-4 58h0m-4-2h0m-77 24h0m67-83h0m17 64h0m-1-12h0m-63-17h0m15 65h0m37-4h0m-19 0h0m28-87h0m4-3h0m-2 24h0m-58 73h0m52-52h0m-64 3h0m22-18h0m-36 52h0m34 14h0m56-97h0m1-2h0m-51 26h0m41 22h0m-77 41h0m3 0h0m83-22h0m-5 21h0m2-1h0m-25 7h0m-34 4h0m50-48h0m15 17h0m-12-37h0m4-27h0m5 68h0m-8-67h0m-28 89h0m32-120h0m-53 123h0m-11-50h0m4-8h0m12-15h0m-24 78h0m69-6h0m-45 0h0m39-116h0m12 14h0m-83 80h0m54-67h0m24-12h0m-54 39h0m42-47h0m-10 112h0m6-8h0m-46-40h0m67-33h0m-7-11h0m2-6h0m10 70h0m-54-43h0m49 37h0m-3-7h0m-75-3h0m74-58h0m-35 20h0m3-2h0m-27 85h0m33-96h0m-5 2h0m-28 93h0m22-78h0m33-3h0m-48 80h0m5-71h0m-34 52h0m82-17h0m-25-55h0m-20 21h0m-12 8h0m43-49h0m-15 114h0m24-91h0m-79 76h0m33-51h0m27-31h0m1 94h0m19-60h0m-17-38h0m-51 102h0m-3-25h0m51-75h0m1 92h0m21-113h0m-1 32h0m-10 77h0m10-32h0m-1-40h0m-15-21h0m-46 52h0m-10 26h0m77-12h0m-46-44h0m-40 84h0m38-74h0m44 13h0m-46-16h0m47-6h0m0-4h0m-7 27h0m-44-6h0m23 58h0m-7-76h0m-47 75h0m66-111h0m-28 41h0m31 71h0m-6-107h0m-55 89h0m26 21h0m47-51h0m-38 51h0m-35-23h0m27 22h0m-19-43h0m49-59h0m1 96h0m-22-76h0m14 77h0m9-100h0m14 51h0m4 32h0m0 6h0m-66-28h0m38-48h0m-41 50h0m63-7h0m-19-43h0m3-6h0m-22 27h0m44 7h0m-48-2h0m-27 71h0m45-106h0m-24 41h0m54-9h0m-25 65h0m19-58h0m-53 7h0m58-8h0m-21 57h0m14-32h0m6-47h0m9-7h0m-95 88h0m31-56h0m43-58h0m-49 63h0m0 58h0m20-84h0m-30 88h0m69-92h0m-62 38h0m10-12h0m-22 65h0m53-9h0m0 3h0m7-103h0m-47 49h0m34-31h0m11 85h0m13-53h0m-66 57h0m1 1h0m30-81h0m11-13h0m23 50h0m-59-6h0m67-68h0m-8 49h0m-2 58h0m-71-12h0m65-95h0m-4 16h0m-43 103h0m57-12h0m-28 3h0m5 0h0m-34-48h0m-15 21h0m72-57h0m-11 84h0m8-56h0m-6 55h0m16-102h0m-3-3h0m-4-15h0m1 44h0m-19-18h0m-26 100h0m44-51h0m-69 17h0m61 25h0m-6-92h0m-52 67h0m26-37h0m23-26h0m-14 92h0m17-99h0m-22 100h0m33-57h0m-11 53h0m3 4h0m-22-145h0m-39 126h0m86 13h0m-82-34h0m73-27h0m23-45h0m-107 111h0m80-79h0m-39-7h0m-32 60h0m80-52h0m-38-22h0m-13 107h0m10-5h0m-14 7h0m-26-45h0m18-20h0m-31 30h0m23-21h0m-4 55h0m-9-58h0m95-42h0m-9 19h0m26 13h0m-16-58h0m-70 28h0m25-7h0m-49 77h0m69-37h0m-44-3h0m26-31h0m-12 10h0m-25 30h0m71 17h0m-57 40h0m48-38h0m3-43h0m-88 70h0m13-35h0m-15 17h0m62 26h0m17-156h0m15 129h0m-64-39h0m35-47h0m33 70h0m-15 43h0m-76-78h0m25 79h0m-22-23h0m1-41h0m13-5h0m-21 62h0m82-54h0m-80 36h0m98 2h0m-11-19h0m12-52h0m-20 47h0m-32-38h0m-34 5h0m16 12h0m-35 29h0m89-21h0m-91-14h0m55 4h0m22-59h0m-54 41h0m21-49h0m-6-29h0m30 75h0m-48 14h0m29-7h0m0 7h0m9-6h0m-2-37h0m-33 65h0m-14-99h0m69 37h0m-68-19h0m24 15h0m44 31h0m-7-70h0m-21 60h0m26 25h0m-41 35h0m51-84h0m-34 32h0m40-98h0m14-31h0m-7 53h0m-15 72h0m21-95h0m-13 53h0m35-7h0m-19-21h0m-6-11h0m5-5h0m33-4h0m-8 84h0m-34-27h0m6-65h0"/><rect x="433.9" y="294.8" width="162.60" height="152.20" fill="none" stroke="#2a2a2a" stroke-width="1.35"/><line x1="433.9" y1="294.125" x2="433.9" y2="447.85" stroke="#000" stroke-width="1.7"/><line x1="433.04999999999995" y1="447" x2="596.5" y2="447" stroke="#000" stroke-width="1.7"/><text transform="matrix(0,-0.9700,1.1000,0,425.10,446.70)" font-size="10.0" fill="#2a2a2a">0</text><text transform="matrix(0,-0.9700,1.1000,0,425.10,423.25)" font-size="10.0" fill="#2a2a2a">200</text><text transform="matrix(0,-0.9700,1.1000,0,425.10,394.21)" font-size="10.0" fill="#2a2a2a">400</text><text transform="matrix(0,-0.9700,1.1000,0,425.10,365.45)" font-size="10.0" fill="#2a2a2a">600</text><text transform="matrix(0,-0.9700,1.1000,0,425.10,336.51)" font-size="10.0" fill="#2a2a2a">800</text><text transform="matrix(0,-0.9700,1.1000,0,425.10,310.47)" font-size="10.0" fill="#2a2a2a">1000</text><clipPath id="c4"><rect x="0" y="0" width="597" height="1151"/></clipPath><g clip-path="url(#c4)"><text transform="matrix(1.1650,0,0,1.0000,432.26,462.50)" font-size="10.0" fill="#2a2a2a">0</text><text transform="matrix(1.1650,0,0,1.0000,456.22,462.50)" font-size="10.0" fill="#2a2a2a">200</text><text transform="matrix(1.1650,0,0,1.0000,486.88,462.50)" font-size="10.0" fill="#2a2a2a">400</text><text transform="matrix(1.1650,0,0,1.0000,517.21,462.50)" font-size="10.0" fill="#2a2a2a">600</text><text transform="matrix(1.1650,0,0,1.0000,547.76,462.50)" font-size="10.0" fill="#2a2a2a">800</text><text transform="matrix(1.1650,0,0,1.0000,574.83,462.50)" font-size="10.0" fill="#2a2a2a">1000</text></g><path d="M427.9 445.1H433.9M427.9 416.2H433.9M427.9 387.3H433.9M427.9 358.4H433.9M427.9 329.5H433.9M427.9 300.6H433.9M435.5 447V453M466.0 447V453M496.5 447V453M527.0 447V453M557.5 447V453M588.0 447V453" stroke="#000" stroke-width="2" fill="none"/><path d="M430.4 439.3H433.9M430.4 433.5H433.9M430.4 427.8H433.9M430.4 422.0H433.9M430.4 410.4H433.9M430.4 404.6H433.9M430.4 398.9H433.9M430.4 393.1H433.9M430.4 381.5H433.9M430.4 375.7H433.9M430.4 370.0H433.9M430.4 364.2H433.9M430.4 352.6H433.9M430.4 346.8H433.9M430.4 341.1H433.9M430.4 335.3H433.9M430.4 323.7H433.9M430.4 317.9H433.9M430.4 312.2H433.9M430.4 306.4H433.9M441.6 447V450.5M447.7 447V450.5M453.8 447V450.5M459.9 447V450.5M472.1 447V450.5M478.2 447V450.5M484.3 447V450.5M490.4 447V450.5M502.6 447V450.5M508.7 447V450.5M514.8 447V450.5M520.9 447V450.5M533.1 447V450.5M539.2 447V450.5M545.3 447V450.5M551.4 447V450.5M563.6 447V450.5M569.7 447V450.5M575.8 447V450.5M581.9 447V450.5" stroke="#000" stroke-width="1.4" fill="none"/><text transform="matrix(0,-0.9757,0.9936,0,411.50,397.44)" font-size="10.0" font-weight="normal" fill="#2a2a2a">SSC-Height</text><path d="M474.5 292.6h3" stroke="#bbb" stroke-width="0.9"/><text transform="matrix(1.0888,0,0,0.8832,484.01,472.60)" font-size="10.0" font-weight="normal" fill="#2a2a2a">FSC-Height</text><text transform="matrix(1.0820,0,0,1.1314,518.81,441.90)" font-size="10.0" font-weight="normal" fill="#222">R2</text><path d="M451.3 446.4L453.5 441.8L476 439.7L478.1 441.2L475.8 444.6L453.8 447.3z" fill="#00f80c" stroke="#000" stroke-width="1.6" stroke-linejoin="round"/><path d="M564.7 687.5L564.4 692.2L563.6 696.7L562.2 700.8L560.4 704.5L558.1 707.5L555.6 709.7L552.8 711.0L549.9 711.5L547.0 711.0L544.2 709.7L541.7 707.5L539.4 704.5L537.6 700.8L536.2 696.7L535.4 692.2L535.1 687.5L535.4 682.8L536.2 678.3L537.6 674.2L539.4 670.5L541.7 667.5L544.2 665.3L547.0 664.0L549.9 663.5L552.8 664.0L555.6 665.3L558.1 667.5L560.4 670.5L562.2 674.2L563.6 678.3L564.4 682.8z" fill="#00f80c"/><path transform="scale(0.5)" stroke="#fff" stroke-width="2.4" stroke-linecap="square" fill="none" d="M1084 1368h0m10 53h0m23-24h0m-4 10h0m14-26h0m-18 7h0m8-12h0m-37 24h0m33-22h0m-16 38h0m3-11h0m-7 15h0m-16-55h0"/><path transform="scale(0.5)" stroke="#00f80c" stroke-width="2.7" stroke-linecap="square" fill="none" d="M1105 1408h0m-8 5h0m-14-2h0m23-19h0m-34-9h0m3-26h0m41 6h0m-43 20h0m36 25h0m11-55h0m-14-3h0m-14 59h0m10-26h0m11 13h0m3-22h0m-37-35h0m21 58h0m21-23h0m-43 2h0m30-17h0m-20 27h0m6 29h0m-4-59h0m-11 49h0m37-37h0m-19-4h0m-11 36h0m16-5h0m-2-38h0m-18 29h0m15-15h0m-4-20h0m-10 37h0m29-45h0m-7 46h0m-21-32h0m36 12h0m-16-27h0m19 50h0m-43-51h0m44 37h0m-39-19h0m18 40h0m14-47h0m-40-5h0m34 16h0m-15 31h0m5 22h0m9-50h0m-2-29h0m7 15h0m-13-2h0m-17 58h0m19-3h0m-22-14h0m-5 1h0m5-45h0m31 42h0m-10-30h0m-7 7h0m15 23h0m-3 31h0m-32-32h0m33-26h0m-15-9h0m13 27h0m8-40h0m-13 21h0m19 26h0m-16-49h0m17 29h0m-29 8h0m-6-19h0m17-11h0m-15-18h0m6 43h0m-8 47h0m35-32h0m-30-2h0m16-42h0m-22 56h0m3-26h0m5-30h0m-2-12h0m17 74h0m9-34h0m1 35h0m-24-5h0m-15-1h0m34-27h0m-16-8h0m-9-19h0m13 2h0m15 62h0m1-27h0m-21-5h0m13-4h0m8-22h0m-6 20h0m-34-5h0m1 11h0m31-3h0m-23 0h0m13 17h0m-14-52h0m27 8h0m-9 20h0m9 39h0m8-9h0m-36-42h0m4 27h0m22-50h0m-21 3h0m34 39h0m-6-8h0m-27-14h0m14 45h0m-33-23h0m54-25h0m-34-5h0m1 36h0m-20 1h0m37 38h0m-36-46h0m11 20h0m26 17h0m-20-74h0m22 77h0m6-4h0m-50-39h0m41 34h0m-14 2h0m-10-42h0m9 42h0m0-54h0m27 29h0m-18 27h0m-12-36h0m-5 41h0m2-8h0m-11-42h0m-2 9h0m29 7h0m-18-34h0m23 21h0m0-2h0m-10 56h0m-6-84h0m25 37h0m-22-26h0m-24 18h0m34 36h0m-28 1h0m26-12h0m-27-37h0m9 34h0m22 0h0m-24-3h0m27-29h0m0 2h0m-27-24h0m-2 35h0m-1 11h0m26-7h0m-35-12h0m3-6h0m33 65h0m-12-14h0m-9-58h0m27 28h0m-22 35h0m-6-45h0m24 36h0m-28-5h0m32 12h0m-14-12h0m-17-23h0m30 13h0m-14-24h0m-22 21h0m25-18h0m-14 50h0m2-17h0m26-61h0m-42 13h0m30-17h0m12 65h0m-3-2h0m-4 0h0m-8-33h0m6 0h0m-25 42h0m4-30h0m11-33h0m-13 33h0m34-21h0m-10 31h0m-9 13h0m8-61h0m0 29h0m8-25h0m-28 55h0m1-38h0m8 26h0m32-26h0m-59 30h0m37-45h0m-15 51h0m4-47h0m6 55h0m1-59h0m-1 71h0m12-80h0m-39 42h0m47 23h0m-18-56h0m-16-13h0m20 33h0m7 32h0m-16-39h0m18 4h0m2 15h0m-12-12h0m11 34h0m-4-17h0m-19-33h0m-10 34h0m43 12h0m-23 20h0m13-9h0m-21-63h0m14 69h0m-13-73h0m21 19h0m-28 0h0m2 32h0m-18-23h0m35 32h0m-4-60h0m-3-4h0m11 50h0m-9 21h0m-11 3h0m22-28h0m-24-34h0m11 68h0m-2-58h0m-14 18h0m6 26h0m16-1h0m-15-56h0m11 79h0m-21-79h0m38 25h0m-40-14h0m32-14h0m4 44h0m-38-7h0m12 43h0m28-34h0m-27 12h0m17-46h0m-31 39h0m31-57h0m3 25h0m1-14h0m-7 14h0m-18-15h0m18 25h0m-26-16h0m19-17h0m-24 25h0m14 7h0m17 38h0m8-19h0m3-13h0m-29 33h0m27-21h0m-3-2h0m2-2h0m-30-35h0m20 50h0m3-3h0m-19-52h0m12 52h0m-16-15h0m-6-7h0m18 39h0m23-46h0m-39-8h0m20-17h0m-5 72h0m1-20h0m21-30h0m-18 48h0m-1-28h0m-19-1h0m37-12h0m-32 15h0m19 37h0m-13-89h0m-7 30h0m10 17h0m7-2h0m10 19h0m-12-19h0m-30-15h0m7 15h0m31 0h0m-13-18h0m-17-7h0m36 4h0m-11 12h0m-18 10h0m-5-5h0m28 8h0m-2-43h0m-26 73h0m45-55h0m-32 55h0m13-8h0m21-46h0m-22-22h0m1 81h0m-9 1h0m15-26h0m8 7h0m-37-10h0m2 15h0m15 9h0m16-20h0m-45-17h0m56 21h0m-26-19h0m5-1h0m3 45h0m-1-92h0m-25 52h0m41-5h0m-10 16h0m-5-17h0m6-37h0m-34 57h0m27-44h0m-22 43h0m1 3h0m20 11h0m21-36h0m-41-29h0m-2 19h0m22 52h0m21-29h0m-16-1h0m-21 22h0m-1 15h0m-4-41h0m33-1h0m-38-36h0m28 4h0m-18 23h0m28 2h0m-31 49h0m29-62h0m-32-6h0m-6 50h0m34-2h0m-1-42h0m-21 39h0m20-10h0m-13 8h0m-1-4h0m14-39h0m0-9h0m-3 76h0m7-79h0m-29 54h0m2-22h0m-8 12h0m20 30h0m-5-4h0m4-57h0m-5 67h0m-10-67h0m19 37h0m26 9h0m-27-18h0m16-18h0m-23-18h0m17 32h0m-7 7h0m-19-7h0m-14-8h0m54 3h0m-34 7h0m-5-25h0m31 44h0m-20-12h0m2-25h0m-26-13h0m22 13h0m31-7h0m-37 68h0m10-94h0m-29 46h0m39-48h0m-30 12h0m16 87h0m-25-60h0m57-10h0m-44-19h0m39 8h0m-52 27h0m51-35h0m11 38h0m-3 15h0m-41-58h0m-3 2h0m-17 54h0m55-47h0m-1-3h0m-11-6h0m12 78h0m-39 10h0m-14-46h0m49-38h0m6 9h0m8 51h0m-10-53h0m-11-13h0m-43 58h0m27-61h0m36 55h0m-62-6h0m7-35h0m-6 58h0m42-69h0m2 93h0m15-50h0m-62 15h0m4 24h0m44 11h0m-45-32h0m58-27h0m4-13h0m-12-9h0m-36-11h0m-17 16h0m14 69h0m7-84h0m-14 16h0m59 23h0m-7-23h0m-4-1h0m0 60h0m-54-41h0m22 57h0m39-50h0m-64-3h0m13-31h0m-9 44h0m52 27h0m-52-15h0m47 27h0m8-71h0m-50-6h0m-2 53h0m58-24h0m-9 37h0m-48-6h0m0-4h0m-2-41h0m48-19h0m-48 18h0m7 52h0m10 11h0m-14-79h0m-6 18h0m19 60h0m-19-52h0m42 54h0m18-31h0m-59-2h0m1-35h0m43-21h0m-40 71h0m37-74h0m-5-1h0m17 9h0m-39-5h0m0 84h0m41-16h0m-42-64h0m35 0h0m12 38h0m-50 39h0m-12-36h0m0 11h0m6 13h0m19-73h0m40 50h0m-50 39h0m-15-52h0m47-31h0m-35 4h0m-4 73h0m-6-45h0m0 17h0m57 12h0m-50-57h0m12-9h0m9-7h0m11 7h0m-24 91h0m42-69h0m-59 25h0m8-29h0m13-18h0m41 48h0m-3-26h0m5 41h0m-62-30h0m40-32h0m-41 44h0m-2 4h0m46 42h0m18-46h0m-60 7h0m6-36h0m-9 41h0m9 19h0m-3-55h0m-5 5h0m11 57h0m8 12h0m16 0h0m26-31h0m-1-30h0m-48 50h0m-4 0h0m44-2h0m-7-79h0m-3 8h0m-21 28h0m11 19h0m5-20h0m24 20h0m-38 25h0m4-57h0m5 29h0m-29-13h0m43-5h0m-23 27h0m1-49h0m-5 31h0m26-4h0m-2 10h0m-21-17h0m13 53h0m-30-18h0m16-44h0m-11 43h0m26-24h0m5 6h0m12-31h0m-11 72h0m0-44h0m-13-18h0m-10 10h0m-4-23h0m5 3h0m-14 56h0m26-30h0m3 26h0m22-3h0m-24-20h0m4 15h0m-5 23h0m-5-58h0m4 15h0m-6-2h0m7-9h0m1 5h0m-6 29h0m-5-19h0m15 35h0m-8-22h0m-18-4h0m19-13h0m-20 7h0m29 7h0m-12 13h0m13-18h0m-8-7h0m6-6h0m-10 19h0m5 10h0m-18-48h0m17 26h0m-10-1h0m-4-16h0m11 28h0m4-35h0m21 28h0m-35-48h0m8 21h0m21 33h0m-23 14h0m22-24h0m-18-12h0m-16 26h0m21-54h0m-5 41h0m2-15h0m-3 34h0m2-12h0m18-6h0m-28 6h0m-1-6h0m8-6h0m7-17h0m13 31h0m-13 0h0m5 5h0m-7-27h0m23 23h0m-34-15h0m31 6h0m-21-12h0m13 19h0m-20 15h0m16-30h0m17 5h0m-31-30h0m-13 21h0m5-2h0m1 45h0m17-17h0m-8-31h0m-28 0h0m35 7h0m8 27h0m15-25h0m-17-13h0m-13 24h0m-13-44h0m-7 31h0m27 44h0m-10-17h0m17-46h0m6 8h0m-22 18h0m1 18h0m16 15h0m-9-28h0m-16-44h0m23 39h0m9-12h0m-7 2h0m-4-12h0m9 34h0m-11 3h0m-5-9h0m-13-16h0m25-14h0m-20 31h0m-14 21h0m-6-43h0m-3 24h0m40 6h0m19-37h0m-27 6h0m12-3h0m-29 51h0m22-25h0m-7-20h0m-4 36h0m12-31h0m12 1h0m-45 30h0m30-14h0m5-37h0m13-1h0m-5 22h0m-11-29h0m10 62h0m-15-60h0m-9 78h0m-12-77h0m22 32h0m-19-1h0m17-36h0m3 55h0m-5-39h0m-3-11h0m1 34h0m-4-5h0m-20 0h0m14 47h0m-4-19h0m24-24h0m22-19h0m-4 29h0m-25 23h0m7-55h0m-22 11h0m17 1h0m-2-6h0m-14-22h0m14 37h0m29 11h0m-22 2h0m-4-61h0m21 26h0m0 21h0m-27 6h0m15-33h0m-26 14h0m5 35h0m7-21h0m-23 19h0m38-8h0m-6-29h0m-28 20h0m16-23h0m23 15h0m1-10h0m-4 22h0m-23-2h0m16 1h0m20-30h0m-28 21h0m8 10h0m-18-1h0m9 4h0m-16 3h0m8-25h0m1 19h0m5-14h0m6-32h0m12 63h0m-1-19h0m-22 10h0m12-16h0m3 0h0m-10-43h0m8 21h0m15-14h0m-28 7h0m21 25h0m-7 13h0m-18 5h0m2-51h0m7 25h0m31 8h0m-39 39h0m3-13h0m15-11h0m9-48h0m-36 60h0m21 14h0m17-19h0m-48-21h0m54-21h0m-50 26h0m36-12h0m-7 26h0m-3-24h0m21 18h0m-24-13h0m13-12h0m19 34h0m-13-2h0m-2-33h0m-5 16h0m17 33h0m-44-37h0m34 4h0m-22-2h0m13 23h0m9-30h0m3-11h0m-2 33h0m-37-16h0m18 23h0m3-12h0m-15-25h0m25 1h0m16 2h0m-22-8h0m16 16h0m-15 50h0m17-34h0m-10-25h0m-35 18h0m20 2h0m20-17h0m-41 2h0m33 10h0m-6 11h0m-4 7h0m9-11h0m-12-17h0m-3 8h0m-15 20h0m28-55h0m-5 10h0m20-2h0m-33 33h0m43-8h0m-53 17h0m45 9h0m-21-27h0m-12 27h0m32 0h0m-12-4h0m9 10h0m-38-22h0m23 23h0m19-16h0m-27-21h0m-4 54h0m3-68h0m2-5h0m9 42h0m-27-26h0m39-2h0m-17-2h0m17 19h0m-34-4h0m8 10h0m27 4h0m-14-15h0m0 2h0m-12-29h0m-20 56h0m6-15h0m-1 0h0m37 25h0m-32-39h0m31 36h0m0-68h0m-23 40h0m13-26h0m14 37h0m-20 27h0m1-59h0m2 36h0m-16-19h0m17 18h0m-14-35h0m25 52h0m5-4h0m-10-15h0m-1 18h0m-2-50h0m-22 22h0m26-43h0m-27 43h0m-11-17h0m35-35h0m-27 32h0m28-3h0m-19 17h0m41 2h0m-56 13h0m18-61h0m-13 57h0m23-1h0m3 8h0m9-33h0m-2 18h0m-25 30h0m5-51h0m-4 34h0m14-13h0m-5 6h0m-20-16h0m9-12h0m16 44h0m13-17h0m-5 3h0m-20-4h0m-11-31h0m26 57h0m-9-35h0m8 19h0m22 1h0m0-18h0m-13 2h0m2-6h0m-7-3h0m-28-9h0m33 23h0m-30-16h0m26 10h0m13 31h0m-16-35h0m-14-2h0m29 14h0m-22 2h0m-27-22h0m32 8h0m-14-16h0m8 56h0m9-44h0m6 37h0m-30-38h0m13 8h0m-14 34h0m28-16h0m-35 23h0m48-1h0m-30 1h0m-19-6h0m7 11h0m17-12h0m-22 4h0m31-3h0m6 6h0m7-1h0m-16 4h0m10 1h0m15 1h0m-4 1h0m-7-9h0m-20 2h0m6 0h0m25 7h0m-26-12h0m-25 12h0m2-1h0m-6-7h0m28 2h0m9-2h0m1 9h0m-31-1h0m49-11h0m-4 4h0m-37 7h0m29-9h0m11 3h0m1 8h0m-11-4h0m-36-10h0m45 6h0m-39 5h0m6-5h0m1 5h0m27-11h0m-26 14h0m-21-14h0m43 9h0m-36-3h0m47-7h0m-35 2h0m25 10h0m-43-1h0m23 1h0m-1-7h0m26 4h0m-26-4h0m20 4h0m-30 5h0m11-13h0m15 4h0m-20-2h0m28 6h0m-36-6h0m12 4h0m-15-3h0m38 10h0m-23 0h0m11-12h0m-21 4h0m23-1h0m15 9h0m-29-14h0m11 12h0m-16-6h0m38 4h0m-48-1h0m43-5h0m-20 9h0m-6 1h0m-13-2h0m4-5h0m5 1h0m2 5h0m3 1h0m-8-5h0m27-37h0m-14 9h0m-19-12h0m31-19h0m-16 20h0m17 19h0m-46-43h0m28 37h0m-22-37h0m43 51h0m-6-27h0m-10-14h0m-11 19h0m19 22h0m23-21h0m-54-20h0m6 1h0m0 12h0m9-9h0m-9 1h0m-26 35h0m1-54h0m23 36h0m-24-17h0m25 9h0m1 10h0m14-11h0m12 24h0m-27-1h0m-1-23h0m5 25h0m26-3h0m-30-40h0m-16 16h0m18-14h0m11 23h0m-82 4h0m2-37h0m12-6h0m7 13h0m11 13h0m0-29h0m-43 23h0m13 9h0m25-15h0m-14-12h0m-4 28h0m-28-7h0m-7-19h0m47 29h0m-32-10h0m-7 26h0m47-55h0m-15 24h0m5-16h0m-23 37h0m18 7h0m-2 9h0m-18-19h0m28 15h0m11-44h0m-22 11h0m-26 17h0m15-51h0m21 29h0m-18 23h0m-10-7h0m32-21h0m-10 24h0m-19-5h0m28 12h0m-20-12h0m-15 7h0m5-8h0m-3-40h0m15 21h0m-29 7h0m16 2h0m40 11h0m-53-37h0m25 45h0m30 0h0m-58-4h0m24-4h0m-1-3h0m-12-22h0m7 25h0m19-22h0m7 9h0m-4-2h0m7 6h0m-9 4h0m0-7h0m-10 33h0m-16-30h0m26 6h0m-16-4h0m13 14h0m-35-30h0m18 6h0m3 26h0m23-9h0m-43 4h0m32-16h0m7 7h0m-27-21h0m35 39h0m-28-24h0m-1-11h0m10 35h0m-9-44h0m14 25h0m-11 20h0m28-9h0m-56-27h0m23 6h0m9 43h0m-5-47h0m-30 15h0m70-2h0m-29-16h0m-2 34h0m-27-26h0m48 12h0m-14-6h0m-12-12h0m23 14h0m-18-11h0m-24 20h0m19 10h0m1-38h0m-31 24h0m47-7h0m-7-4h0m-27 4h0m42 10h0m-33-17h0m21 20h0m0-22h0m-21 16h0m6-14h0m5 15h0m10-14h0m-18-17h0m-3-3h0m-30 30h0m59-11h0m4 14h0m-4 1h0m-51-17h0m70 1h0m-18 24h0m-67-2h0m70 18h0m-8-39h0m-21 13h0m10-13h0m-25 15h0m24 1h0m-1-2h0m-7 12h0m21-9h0m10 1h0m-10 30h0m6-52h0m17-5h0m-78 20h0m33 0h0m23 10h0m-23-16h0m18-4h0m-20 32h0m29-20h0m-28-17h0m11 25h0m17-15h0m-25 6h0m-39 7h0m30 10h0m29 12h0m-6-19h0m-29-7h0m5 2h0m21-19h0m3 10h0m14 5h0m-36-10h0m28 4h0m-11 5h0m9-15h0m-3 6h0m13 0h0m-23 2h0m12-13h0m-7 19h0m29 27h0m-6-23h0m16 3h0m-47-13h0m-17 15h0m34-4h0m-31 2h0m19-12h0m28 19h0m4-10h0m-30-5h0m7-8h0m-1-1h0m22 19h0m-24-17h0m-1 4h0m-16 17h0m-32 6h0m64-33h0m-13 5h0m-13 2h0m17 16h0m6-13h0m-30 18h0m13-26h0m-6 15h0m-14-8h0m21-10h0m8 30h0m-24 3h0m41 1h0m-17-31h0m6 18h0m-43-18h0m23 21h0m8-36h0m-6 27h0m3 5h0m-29-14h0m39 35h0m1-30h0m-1 8h0m16-10h0m-15 7h0m-10 5h0m12-35h0m-49 15h0m20-2h0m1 28h0m13-17h0m-14 15h0m25 14h0m8-24h0m-34 2h0m44 0h0m9-4h0m-94 1h0m65 42h0m-11-50h0m3 22h0m11-28h0m4 27h0m-21-13h0m3 15h0m8-3h0m2-25h0m-36 2h0m33-2h0m19 10h0m-2 8h0m-23 18h0m10-32h0m-4 44h0m18-41h0m-12 19h0m-27-24h0m19 17h0m-14-1h0m25-20h0m2-12h0m-13 23h0m12 0h0m-5 27h0m-1-22h0m1 6h0m-8-35h0m9 56h0m-36-43h0m32 10h0m0 44h0m-3-42h0m1-2h0m11-16h0m-10 33h0m4-8h0m4-9h0m-50-9h0m25 14h0m-21 1h0m33-4h0m23-11h0m-14 6h0m1 34h0m-9-20h0m14 8h0m-21-35h0m6 22h0m17-16h0m-13-9h0m10 9h0m6-1h0m-2 2h0m-15 8h0m31 9h0m-26-1h0m-6-5h0m-11-10h0m-3 35h0m-7-30h0m12 10h0m29-3h0m-30 1h0m-9 20h0m11-33h0m26 8h0m-13 16h0m13-21h0m-5 19h0m-40-39h0m7 56h0m36-38h0m8-8h0m-34 18h0m2-5h0m-22 24h0m49-9h0m-13 4h0m-2-14h0m4 12h0m3-18h0m-26-31h0m7 40h0m-1 9h0m-18-20h0m0 10h0m37 9h0m-21-12h0m-6-13h0m-10 14h0m4 6h0m13-20h0m18 52h0m-16-29h0m24-36h0m-13 24h0m-29 18h0m14-1h0m-2-28h0m4 30h0m-24-10h0m28 0h0m-8-3h0m25 7h0m10-12h0m-18 5h0m-12 4h0m4 6h0m14-7h0m-45 6h0m23 10h0m19-26h0m-18-5h0m7 13h0m36 14h0m-23 22h0m8-31h0m-53-2h0m49 5h0m-17 1h0m-17-5h0m6-16h0m27-1h0m-28 16h0m35 21h0m25-31h0m-55 12h0m7-30h0m-2 9h0m37 33h0m-5-8h0m-60-11h0m42-3h0m-2-15h0m-23 9h0m39-21h0m-26 23h0m10 4h0m-22 35h0m-1-25h0m-2 12h0m38-8h0m-11-16h0m-1-9h0m-31 8h0m13-3h0m18 24h0m-33 7h0m35-20h0m-18-20h0m11 16h0m-18 14h0m-1-1h0m19-34h0m-14 9h0m17 25h0m26-6h0m-25 26h0m-30-10h0m46-22h0m-31 9h0m-3-14h0m5 25h0m7-4h0m20 6h0m-22-30h0m32-16h0m-39 38h0m-12 10h0m22-32h0m-4 2h0m3 18h0m21 1h0m-34-11h0m17 26h0m-17-4h0m13-9h0m12-30h0m-53 10h0m62 11h0m-29 0h0m27 2h0m-4 2h0m-7 1h0m1 3h0m1 5h0m-31-23h0m29 4h0m5-8h0m2-11h0m-15 16h0m-8 10h0m7-30h0m-13 60h0m9-31h0m15-20h0m15 13h0m-35 4h0m43-20h0m-45 21h0m-11-11h0m31 11h0m-4-10h0m-21 4h0m-19 5h0m20 4h0m22 0h0m-16 6h0m-7-3h0m4-16h0m-12 7h0m15-1h0m-3-10h0m31-17h0m-44 16h0m22-3h0m-37 30h0m68-25h0m-42-24h0m16 49h0m-9-14h0m3 3h0m-5 7h0m10-12h0m11 4h0m12-18h0m-41 12h0m17 16h0m6-6h0m27 8h0m-14-11h0m0-23h0m-13 23h0m-24 23h0m24-25h0m-30-13h0m-27-2h0m68 16h0m-29-14h0m27 20h0m-4-19h0m-19 11h0m35-6h0m-50-6h0m31 9h0m-18 16h0m27 32h0m-21-26h0m24-15h0m-38-14h0m-4 12h0m42-7h0m-15-5h0m-39 3h0m39 29h0m-8-2h0m9-20h0m-8 26h0m22-14h0m-7 15h0m9-34h0m-34 11h0m1 13h0m2-27h0m14 9h0m-21 15h0m33-8h0m-29-6h0m34 19h0m14-18h0m-48 2h0m4 19h0m7-1h0m-12-27h0m12 14h0m24-10h0m-38 9h0m-4-53h0m41 65h0m-5-20h0m-24 15h0m11-17h0m8 1h0m-12 10h0m-9-6h0m13-15h0m32 15h0m-45-10h0m5-11h0m22 19h0m-39-32h0m12 15h0m-11 28h0m43-20h0m-38-3h0m14 14h0m37-10h0m-23 7h0m-6-27h0m22 25h0m-34 5h0m6 10h0m-20-21h0m14 23h0m0-10h0m-3-8h0m-12-18h0m5 39h0m26-30h0m5 6h0m4 3h0m-3-4h0m-38 8h0m18-13h0m-11 6h0m2 1h0m-4 9h0m7-10h0m21 19h0m-33-8h0m11-24h0m18 24h0m5-3h0m2-14h0m-25 10h0m15 4h0m1-16h0m27 33h0m-9-25h0m-42-4h0m29-8h0m-36 35h0m19 4h0m-10-23h0m19 6h0m-29 11h0m12-21h0m22-1h0m-28 6h0m27-25h0m-7 32h0m-13-13h0m34-2h0m-26 13h0m28 7h0m8-18h0m-42-4h0m-7 29h0m15-31h0m7 5h0m-12 0h0m40-23h0m-39 45h0m0 17h0m1-37h0m-4 2h0m27-8h0m-19-2h0m5 17h0m3-17h0m-2 22h0m-16-12h0m4 18h0m7-15h0m49 9h0m-32-4h0m-45 3h0m33-8h0m-7 3h0m16 8h0m-16-24h0m-34 22h0m36-20h0m35 21h0m-30 14h0m3-33h0m-10 20h0m-14-11h0m17 37h0m3-48h0m6 29h0m-21-23h0m-14-2h0m56 14h0m-8 39h0m-11-77h0m2 35h0m-31-4h0m12 4h0m-18 7h0m20-16h0m-14-13h0m7 11h0m-7 11h0m20 13h0m6-29h0m2 34h0m18-21h0m-10 2h0m-34 6h0m34-2h0m-16-6h0m-7 20h0m-15-14h0m66-28h0m-37 19h0m-24-1h0m2 21h0m-5-7h0m-20-16h0m59 9h0m15-23h0m-47 28h0m25-21h0m-6 13h0m-2-11h0m14 16h0m3-35h0m26 49h0m-58 11h0m27-24h0m-45-6h0m38-11h0m-30-3h0m8 9h0m20-18h0m-19 5h0m13 21h0m13-1h0m-44 3h0m-5-15h0m50-2h0m-11 0h0m-17 12h0m18-13h0m13 20h0m-5-29h0m-11 46h0m-34-42h0m27 31h0m10-27h0m14 15h0m-24 11h0m-3-28h0m-11 14h0m-7-11h0m52 20h0m-28 8h0m18-27h0m-48 26h0m15 5h0m23-31h0m4 13h0m-5-9h0m-10-7h0m16 14h0m-21 17h0m22-8h0m-10 18h0m2-23h0m-7 0h0m-14-12h0m10 17h0m-8-4h0m19-16h0m-19-24h0m60 27h0m-27 12h0m-17 24h0m-6-36h0m4-3h0m14 30h0m-1-16h0m13-5h0m-35 12h0m-2-17h0m-11 1h0m50-7h0m-57 8h0m30 17h0m-10 10h0m5-35h0m20 38h0m1-30h0m-31-2h0m32 15h0m-62 0h0m53 3h0m-24-6h0m-23-2h0m51 12h0m-10-16h0m-13-8h0m21-11h0m-4 41h0m4-23h0m-16 17h0m0-40h0m12 17h0m-16-5h0m22 26h0m-9-29h0m11 2h0m-50-9h0m36 20h0m5 4h0m-5-3h0m3 1h0m26-4h0m-38-11h0m-1 23h0m34-7h0m-14 1h0m6-5h0m-50-1h0m31 18h0m28 7h0m-38-12h0m-19-14h0m16-4h0m27-11h0m21 33h0m-45-16h0m4-5h0m24 17h0m-7 4h0m-8-13h0m-4-21h0m-4 20h0m-6 2h0m18 4h0m11 12h0m27 20h0m-29-28h0m21-24h0m-36 23h0m9-21h0m14 20h0m-31-19h0m-20 30h0m3-10h0m19-14h0m-3 6h0m28 0h0m-24 7h0m25-30h0m-45 19h0m23 14h0m20-25h0m-5 22h0m-10-15h0m-34 8h0m52-11h0m-9 18h0m-14 11h0m10-27h0m15 8h0m-60-4h0m30-5h0m-21-6h0m37 1h0m-12 20h0m-18-13h0m63 18h0m-41 11h0m4 1h0m-40 7h0m45-43h0m11 22h0m-45-16h0m39-4h0m10-13h0m6 17h0m-26 12h0m-20 24h0m6-20h0m39-1h0m-32 3h0m-21-20h0m20-2h0m-7-4h0m0 24h0m16-9h0m1 16h0m30-9h0m-48-17h0m4 15h0m3-8h0m-23 31h0m13-36h0m-22 35h0m33-37h0m28 0h0m-37 29h0m23-7h0m6-3h0m-14 23h0m-5-38h0m3 6h0m-10 4h0m31-6h0m-39-2h0m22 42h0m-37-34h0m26 9h0m31-32h0m-47 7h0m20 36h0m11-13h0m7 3h0m-23-1h0m12-15h0m-3 19h0m-14-15h0m33 1h0m-38 11h0m32-9h0m-19-11h0m0-9h0m8 18h0m-23 1h0m37 7h0m-40-20h0m0 20h0m47 12h0m-34-38h0m23 29h0m-44-11h0m10 11h0m14 0h0m-15-18h0m26 21h0m18-34h0m-39 31h0m-6-10h0m31 6h0m7 9h0m-29 14h0m9-32h0m6 13h0m-4-4h0m20 8h0m-23-22h0m-27 14h0m34 20h0m9 3h0m2-34h0m-24-19h0m46 3h0m-25 25h0m-9-10h0m17 11h0m2-7h0m-17 8h0m-4-28h0m-15 25h0m10-23h0m-5 9h0m22 4h0m7 16h0m-23 15h0m-3-41h0m38 17h0m-21 1h0m-2 7h0m-25-27h0m22 9h0m30 18h0m-35 7h0m-14-24h0m5-16h0m45 4h0m-19 25h0m11-6h0m-16 3h0m-32 0h0m8 24h0m11-25h0m44-17h0m-67 25h0m55-18h0m-17-12h0m4-10h0m-15 17h0m11-14h0m-37 36h0m10-7h0m-4-9h0m1 15h0m-11-18h0m34-2h0m-45 12h0m29 1h0m11-8h0m-17 23h0m8 8h0m4-15h0m-7-4h0m7-15h0m40 32h0m-6-23h0m-20-3h0m9-1h0m-2-39h0m-13 40h0m-35 17h0m36-15h0m-15 15h0m14-19h0m-3-7h0m4 46h0m7-30h0m-15 1h0m11-19h0m-46 9h0m60 2h0m-39 2h0m3-7h0m28 40h0m-44-23h0m17-6h0m11-2h0m3 16h0m9-16h0m-10-18h0m14 7h0m-21-3h0m13 31h0m-18-12h0m-1-9h0m8 25h0m-5-14h0m25 21h0m-10-37h0m4 4h0m22-10h0m-23 22h0m-27-11h0m11 20h0m56-21h0m-40 14h0m-10 6h0m-5-8h0m23-2h0m9 3h0m-56-12h0m-1-3h0m47 5h0m-17 15h0m-2 4h0m-21-8h0m56-12h0m9-27h0m-47 31h0m22-2h0m-22 0h0m21-1h0m-6 20h0m-10-7h0m-19 8h0m32 0h0m-14-23h0m-30 9h0m-1-2h0m34-13h0m-8-3h0m22 3h0m-21 2h0m16 9h0m15-1h0m-4-44h0m1 44h0m-16 13h0m-28 17h0m22-11h0m11-12h0m2-3h0m2 4h0m-1-6h0m20 7h0m-39-17h0m-1 20h0m-2-20h0m40 12h0m-40 1h0m-38-7h0m-3 19h0m63-22h0m-2 5h0m-14 17h0m-14-26h0m-19 8h0m43 7h0m-2-14h0m-10 13h0m-26-15h0m49-9h0m0 43h0m-2-39h0m-29 34h0m1-26h0m6 16h0m-12-18h0m40 10h0m-4-13h0m-36 12h0m-1 13h0m15 8h0m-7-17h0m-14 19h0m44-23h0m-4 0h0m-25-27h0m5 26h0m-21-5h0m30 0h0m-1-1h0m28 2h0m-11 5h0m-20-24h0m-21 17h0m14 12h0m14 15h0m-42-26h0m-8 16h0m31-29h0m-30 18h0m58 2h0m-14 13h0m-11 3h0m26-13h0m15-8h0m-55-12h0m52 3h0m-47 25h0m43-43h0m-34 14h0m12 4h0m-4 30h0m4-13h0m21 4h0m-6 2h0m10-26h0m-52 7h0m66-1h0m-8 29h0m-67-12h0m53-28h0m-20 28h0m-12-22h0m15-2h0m3 1h0m4 18h0m11 21h0m-28-33h0m12-2h0m-11 19h0m-29-31h0m54 18h0m-4-3h0m-13 13h0m-8-33h0m6 47h0m0-3h0m5-11h0m-17-2h0m31-28h0m-14 35h0m11 5h0m-31-22h0m14 17h0m2-15h0m-14 9h0m1-8h0m24 13h0m14 7h0m-51-1h0m36-35h0m-26 22h0m11 11h0m-11-2h0m21-11h0m-7 6h0m-3 19h0m-21-33h0m56 4h0m-32 11h0m0-4h0m25 26h0m-52-55h0m18 20h0m-13 4h0m8 20h0m38-2h0m-21-21h0m16 26h0m-16-29h0m6 28h0m-38-22h0m59-12h0m9 39h0m-22-42h0m-7 37h0m-23-3h0m-38-24h0m58-15h0m15 31h0m-2-29h0m-17 14h0m3 5h0m-41 2h0m36-11h0m0 11h0m-23 2h0m24-1h0m28 7h0m-48-8h0m12 13h0m24 7h0m12-11h0m-32-6h0m12-10h0m-17 12h0m-16-11h0m28 16h0m-2-21h0m9 21h0m42-10h0m-58 0h0m17 0h0m-5-4h0m1 18h0m-24 3h0m-18-23h0m69 8h0m-18-5h0m13-14h0m-41 14h0m13 26h0m-39 7h0m15-40h0m37 2h0m-23-23h0m-9 14h0m-3-3h0m14 27h0m24-17h0m-15-8h0m7 38h0m-17-11h0m8-9h0m-44 0h0m82-4h0m-34 7h0m-33 14h0m20-10h0m-3-9h0m18-7h0m22-7h0m-35 13h0m-14-2h0m37 7h0m-16-15h0m6 1h0m-2 20h0m-19 4h0m-9-33h0m17 30h0m28-18h0m-18 31h0m3-14h0m3 7h0m16 4h0m-30-24h0m9 23h0m-20-20h0m-8-3h0m38 36h0m-33-51h0m9 12h0m16 24h0m15-43h0m-23 3h0m11 50h0m-10-20h0m-17 16h0m-7-2h0m52-11h0m-6 20h0m-24-27h0m-14 0h0m18-14h0m-4 25h0m2 3h0m7-10h0m7-11h0m3 4h0m-47-12h0m54 1h0m-7 30h0m-7-16h0m-6-15h0m19 0h0m-31-5h0m9 10h0m-2 26h0m-17 5h0m15-63h0m-3 54h0m9-16h0m29 9h0m-39-17h0m40 0h0m4 29h0m-14-25h0m-23 11h0m-3 7h0m2-13h0m24 5h0m-3 6h0m-14 3h0m-22-11h0m-8 2h0m29-9h0m7 14h0m-13 0h0m31-3h0m-19-18h0m-9 20h0m-14-29h0m53 27h0m-41-10h0m-12 15h0m38-23h0m-46 2h0m52 24h0m-13-25h0m0 19h0m-82 8h0m70 10h0m-13-26h0m-4 15h0m-3-13h0m21 11h0m-11-15h0m-17-29h0m41 15h0m-58 20h0m87 7h0m-73-10h0m14-2h0m27 10h0m-10-5h0m13-34h0m-10 31h0m-3-8h0m-20 1h0m0 1h0m4-13h0m47 22h0m-89-1h0m12-3h0m44-25h0m-54 27h0m52 0h0m11-7h0m-27 2h0m-16-8h0m60-10h0m-55 18h0m43-7h0m2 0h0m-41 10h0m3 18h0m29-32h0m7 4h0m-21 4h0m12 4h0m-1 11h0m-3-38h0m-15 27h0m-3 25h0m-11-43h0m30 15h0m-25 16h0m26-12h0m-7 3h0m43 3h0m-57-27h0m-2 6h0m43 12h0m-34 18h0m-5-2h0m-11 20h0m0-31h0m52-10h0m-27-25h0m-8 21h0m4 5h0m4 14h0m-7 4h0m-30 5h0m49-8h0m-15 4h0m-51 0h0m48-7h0m-21-23h0m26 43h0m5-27h0m-16 3h0m43-2h0m-52 5h0m25 0h0m-21 9h0m8-15h0m33 15h0m-49-6h0m58-9h0m-24 5h0m-20-18h0m21 23h0m-39-24h0m7 9h0m13 3h0m16-1h0m13 14h0m-18-25h0m-13 7h0m14 7h0m-3-23h0m-26 28h0m43 26h0m-25-35h0m15 15h0m-10-41h0m-13 21h0m-5 27h0m7-19h0m3 2h0m13 12h0m16 5h0m-18-19h0m5 17h0m0-5h0m-47-15h0m27-7h0m7 23h0m3-13h0m-34 14h0m72-44h0m-39 32h0m37-4h0m-51-9h0m-30 23h0m65-7h0m5-15h0m-19 29h0m-11-42h0m33 18h0m-7 5h0m-14-8h0m4 25h0m-19-13h0m37-38h0m-25 39h0m-4-1h0m18-24h0m-21 16h0m3 23h0m-5-19h0m29 23h0m-62-33h0m33 39h0m-30-45h0m40 18h0m5-13h0m-18 10h0m36 7h0m-39 15h0m-5-2h0m33-18h0m-20 33h0m-7-28h0m4 4h0m-8 9h0m19-5h0m-10-1h0m4-13h0m30-8h0m-26 11h0m-21 0h0m6 7h0m11-24h0m-7 10h0m11 33h0m-3-16h0m17 7h0m-22-7h0m2 9h0m34-15h0m-28-2h0m-10-23h0m7 32h0m-10-11h0m-21 4h0m60 3h0m-9 14h0m-77-50h0m60 48h0m-10-13h0m61 2h0m-57-21h0m-13-18h0m12 35h0m9 18h0m-12-23h0m16 23h0m53 2h0m-62-26h0m-6-5h0m-29-12h0m40 32h0m8-16h0m3-14h0m-8 21h0m-3 6h0m-6 31h0m13-32h0m-31 0h0m20-9h0m10 10h0m-45 2h0m26 4h0m-3-42h0m20 41h0m-27-29h0m18 17h0m10-9h0m-8 28h0m17-30h0m-20 10h0m-3 6h0m-15-8h0m33-7h0m-21 14h0m-27-16h0m65 6h0m-11-6h0m-61-11h0m69 27h0m-30-11h0m-8 21h0m-10 2h0m35-19h0m-20 4h0m25-14h0m-21 39h0m-23-28h0m48 38h0m-7-57h0m-39 8h0m-12 27h0m8 23h0m2-20h0m50-9h0m-19-16h0m24-5h0m-67 12h0m24 20h0m44-34h0m-22-6h0m-15 22h0m2-5h0m36 3h0m-30-14h0m-3 19h0m-52-5h0m44 22h0m32-43h0m-17 9h0m-13 19h0m22-1h0m2 7h0m-20 1h0m26-29h0m-17 8h0m-25-12h0m16 35h0m-19-33h0m46 20h0m14-16h0m-71 2h0m36-11h0m23 58h0m-7-32h0m-41 6h0m4 5h0m25-13h0m0-13h0m2 16h0m7 15h0m-24-21h0m-2 6h0m16-2h0m-17-4h0m39 13h0m-14-6h0m-49-11h0m32 4h0m11-28h0m-39 37h0m18 1h0m62 2h0m-33-8h0m-13-2h0m9-27h0m-28 18h0m16 1h0m21-12h0m-36 15h0m2 8h0m0 12h0m8-38h0m36 23h0m-18-28h0m-17 29h0m4 10h0m-2-23h0m15 20h0m-40-24h0m24 20h0m20-25h0m-9 14h0m15 26h0m-3-30h0m-13 25h0m-33-18h0m35 10h0m-9-3h0m6-11h0m-25 18h0m22-18h0m-16 27h0m19-35h0m-10 32h0m5 21h0m-16-29h0m-9-16h0m-1 4h0m18-5h0m18-2h0m-29 39h0m35-19h0m27-10h0m-50 19h0m12-31h0m-7-16h0m17 17h0m-17 56h0m8-49h0m-31 9h0m61-2h0m-48-19h0m-16 29h0m44-2h0m1-3h0m20-13h0m-53 28h0m34-20h0m-4-27h0m0 47h0m-22-30h0m14-11h0m-6 42h0m2 1h0m5 5h0m5-59h0m-21 21h0m-19 21h0m6-23h0m50-2h0m-47 22h0m45 16h0m-51-6h0m39-12h0m-10-23h0m47-2h0m-41 6h0m-4-6h0m-5 21h0m-25 19h0m20-12h0m9-10h0m15 17h0m11-15h0m-33 9h0m27-12h0m-3-5h0m-24 13h0m31 0h0m-7 7h0m-4 0h0m-14-25h0m1 0h0m-13 21h0m7-14h0m19-9h0m-1 17h0m-21 8h0m47 4h0m-22-34h0m-34 27h0m15-31h0m-18 16h0m50 9h0m-34 0h0m-29-34h0m19 24h0m7 36h0m22-24h0m-47 20h0m22-14h0m-14 12h0m26-7h0m16-31h0m-30 14h0m-18 14h0m-16-37h0m35 11h0m30 50h0m2-43h0m-9 36h0m-40-51h0m32 13h0m0 7h0m-25-10h0m8 16h0m-2-5h0m-1 1h0m5 11h0m-17-46h0m44 42h0m-6 2h0m-2-26h0m-5 17h0m-5 2h0m-18-14h0m30 2h0m19-4h0m-27 21h0m4-16h0m-6 30h0m-18 5h0m19-28h0m-10 24h0m4-28h0m7 7h0m-22-1h0m43 0h0m-61-7h0m43 7h0m-14-9h0m4 5h0m0-2h0m22 13h0m-16-16h0m37 1h0m-71 5h0m5-23h0m-2 46h0m15-17h0m26-5h0m-32 10h0m25-5h0m15 4h0m-52-30h0m-4 16h0m75 9h0m-49-23h0m11 12h0m-20-2h0m32 11h0m10 1h0m-19-22h0m7 5h0m-8 33h0m-24-10h0m-14-35h0m35 10h0m-21-17h0m30 34h0m-29 18h0m53-3h0m-41-18h0m-15 3h0m15-5h0m37 24h0m-53-17h0m38-40h0m-4 17h0m-24 20h0m36-3h0m6 0h0m-29 26h0m-5-11h0m1-21h0m0 10h0m20 5h0m-6 0h0m12-40h0m0 17h0m-17 18h0m-23-4h0m37 9h0m-11 13h0m5-28h0m-10 7h0m-13-4h0m9 13h0m23 1h0m-71-9h0m42 2h0m5-3h0m4-20h0m-3 28h0m13-4h0m-10 2h0m-9-26h0m-10 15h0m16 4h0m18-15h0m-11 9h0m-17-1h0m11 8h0m12 5h0m8-8h0m15-13h0m-22 24h0m15-17h0m-41 35h0m19-9h0m-24 12h0m45-9h0m-3-23h0m8 17h0m-67-7h0m41-1h0m2-4h0m-4 1h0m-23-2h0m-1 1h0m18-12h0m8 7h0m4-9h0m0-9h0m2 29h0m-44-21h0m23 18h0m-39 0h0m62-10h0m16-4h0m-7-13h0m-9 32h0m-20 7h0m-20-10h0m43 6h0m-2-18h0m-19-3h0m5-11h0m-15 27h0m42 4h0m-36-6h0m-8-5h0m47 7h0m9-2h0m-16-6h0m-45 8h0m19-4h0m1-14h0m18-16h0m-1 35h0m-35 18h0m43-59h0m-35 49h0m-17-29h0m37 41h0m-17-3h0m-20-39h0m11 17h0m-3 6h0m9-9h0m0 23h0m-9-37h0m-1 29h0m-13 10h0m-3-34h0m42-6h0m25 16h0m1-24h0m-41 19h0m-11 15h0m20-19h0m5-3h0m-9 1h0m4 18h0m4-10h0m36 22h0m-30-17h0m11-5h0m-33 13h0m13 0h0m-5 9h0m0-17h0m-16 1h0m74-7h0m-25 2h0m-73-18h0m21 4h0m2-3h0m16 4h0m1 19h0m16 9h0m12-18h0m-27-22h0m12 20h0m-7 38h0m21-2h0m-18-43h0m-14 10h0m22 29h0m-49-39h0m57-1h0m-32 13h0m21 11h0m-6-10h0m22 16h0m-65-1h0m44-30h0m-31 11h0m14 19h0m-4-23h0m7-3h0m12 19h0m-15-32h0m22 18h0m-37 6h0m26-21h0m13 12h0m1 4h0m15-24h0m-24 18h0m8 36h0m6-50h0m25 28h0m-54-10h0m28 8h0m3 14h0m-17-34h0m21 28h0m-23-8h0m-9 4h0m19 21h0m-36-60h0m0 30h0m24 11h0m-16-18h0m15 7h0m14 10h0m-1-22h0m-12 17h0m10-18h0m-34 34h0m34-5h0m5-16h0m-13 15h0m-20-1h0m23-5h0m-1-11h0m-14-40h0m-3 55h0m12 2h0m27-8h0m-126 4h0m70 17h0m22-21h0m60-10h0m-82 43h0m37-12h0m2-44h0m-16 34h0m21-15h0m-53-1h0m-48 43h0m60-57h0m4 21h0m-14 16h0m6 11h0m17-18h0m-43 9h0m33-21h0m-23 31h0m52-44h0m-42 8h0m32 2h0m-40-11h0m35 26h0m5-3h0m13-28h0m-6 18h0m14 38h0m-26-48h0m-29 47h0m19-2h0m-19-25h0m-37-27h0m64 19h0m6-2h0m-45-23h0m24 19h0m39-6h0m-50 16h0m-10 1h0m32 29h0m-20-12h0m-5 8h0m7-43h0m-35 32h0m32 13h0m11-30h0m10 5h0m-14-15h0m10 14h0m14 23h0m-53-43h0m6 3h0m35 6h0m2 25h0m-51-13h0m86 24h0m-41-39h0m-11 14h0m39 0h0m-8-8h0m-16 41h0m-15-38h0m79 31h0m-51-21h0m-43 34h0m26-48h0m16-7h0m3 18h0m-25 23h0m62-33h0m-51-12h0m-11 39h0m17 26h0m4-30h0m-17 9h0m-5-32h0m-36-4h0m72 42h0m-7-21h0m4 14h0m-46 19h0m49-84h0m-43 27h0m9 22h0m23-12h0m-22-27h0m8 65h0m-9-13h0m38-1h0m-27-24h0m-40 20h0m35-4h0m-18 28h0m31-31h0m-29-20h0m87 24h0m-103-36h0m-26 11h0m73 1h0m-19 27h0m-49 0h0m27-17h0m76-3h0m-51 21h0m2-8h0m75-12h0m-133 41h0m72-31h0m-14-7h0m-38 9h0m36-19h0m-10 30h0m1-19h0m40-19h0m6 34h0m43-11h0m-115 8h0m3-49h0m27 20h0m16 32h0m-31 7h0m-9-28h0m17 1h0m20-14h0m-14 31h0m-70 28h0m47-1h0m10-60h0m20 4h0m26 45h0m1-8h0m-14-38h0m-39 8h0m17 17h0m-18-15h0m6 27h0m8-16h0m18-12h0m35 24h0m-81 12h0m5-24h0m41 26h0m-16-41h0m28 32h0m-17-27h0m53-26h0m-56 14h0m17 15h0m-48 9h0m9-32h0m75 35h0m-56-16h0m43 30h0m-55-12h0m-30-19h0m20-1h0m18 0h0m-50 21h0m98 21h0m-68-17h0m16-42h0m-37 62h0m40-54h0m67 26h0m-89 28h0m16-17h0m7-20h0m-13 17h0m-23 11h0m16-7h0m109-15h0m-102-12h0m26 41h0m21-23h0m13 9h0m-45-16h0m73-20h0m-77 10h0m-17 18h0m64-36h0m-16 17h0m-56-9h0m13-2h0m-10 39h0m61-26h0m-29 16h0m24 2h0m-46-14h0m-21-24h0m35 32h0m29 14h0m-17-8h0m-4-18h0m2 45h0m-47-61h0m67 18h0m-34 5h0m-11-51h0m27 26h0m-46-11h0m24 11h0m-23 23h0m81 10h0m-6 26h0m9 5h0m-66-39h0m40 17h0m-12-33h0m15 4h0m-53 44h0m68-27h0m-55 35h0m7-24h0m12-22h0m15 17h0m20-12h0m4 34h0m-35-35h0m13 25h0m-20-24h0m23 5h0m-22-8h0m-1 10h0m38 2h0m-63 6h0m27-36h0m7 18h0m0-5h0m53-1h0m-124 19h0m51-24h0m11 15h0m7 34h0m-13-1h0m-16-31h0m-11 9h0m8-22h0m-6 27h0m16-28h0m22 45h0m22-44h0m13-25h0m2 40h0m-35 12h0m41 1h0m-55-15h0m-5 23h0m-27-34h0m53-47h0m17 82h0m-35 12h0m26-49h0m-4-29h0m-64 61h0m-7-5h0m61 12h0m-37-24h0m56-29h0m-41 9h0m-18 27h0m16-6h0m39-4h0m42 5h0m-78 36h0m5-32h0m-7 1h0m-15 22h0m58-24h0m-15-22h0m-62 45h0m114-26h0m-54 14h0m18-18h0m-38 28h0m56-2h0m-13-24h0m-26 9h0m-22-27h0m43 26h0m4-3h0m-25-20h0m-2 20h0m16-5h0m-26-15h0m26-4h0m-53 2h0m8-28h0m40 31h0m-10-22h0m18 21h0m-44-19h0m19 36h0m-4-22h0m26 30h0m51-15h0m-45-2h0m-60-8h0m17 15h0m-69-22h0m92 11h0m-16 29h0m61-29h0m-83 11h0m12 23h0m55-21h0m-10 27h0m1-26h0m-36 6h0m0 9h0m-47-57h0m-2 78h0m40-50h0m-12 24h0m58-31h0m-37-7h0m57 39h0m-89 11h0m-47-17h0m12 10h0m120 23h0m-32-55h0m21 20h0m-24-43h0m-5 13h0m-8-4h0m14 2h0m9 6h0m-21 29h0m9-33h0m-6 44h0m54-17h0m-37-33h0m-20 40h0m6-7h0m-35-43h0m95 22h0m-68 14h0m2-6h0m-25-12h0m78-3h0m-79 9h0m-8 41h0m15 2h0m4 12h0m-19-16h0m51 5h0m37-35h0m-37-25h0m-45 30h0m54-6h0m-23-19h0m16 11h0m-64 47h0m22-27h0m44 5h0m-36-25h0m45 40h0m-53-11h0m116-13h0m-63 18h0m-33-39h0m7 20h0m6 6h0m26-4h0m-49 17h0m-17-15h0m21-19h0m-1 10h0m26 20h0m30-5h0m-62-19h0m49-11h0m-2 13h0m-33-17h0m-2 32h0m70-8h0m-55 10h0m-39-12h0m83-25h0m-30 22h0m-59 25h0m109-20h0m-93-5h0m71 4h0m-50 30h0m23-49h0m-8 12h0m-25-3h0m10-8h0m29-12h0m-41 41h0m-4 30h0m-9-29h0m6 15h0m5-11h0m-5-1h0m17-41h0m2 47h0m31-10h0m-114 14h0m41-10h0m80-7h0m-66-19h0m15 8h0m0 35h0m15-32h0m36-16h0m-6-2h0m-14 15h0m-20 11h0m-17-4h0m19 0h0m-70 9h0m95 7h0m-33-6h0m50 26h0m-89-27h0m46-18h0m26-22h0m-30 32h0m-16-20h0m50 0h0m-36 23h0m-27-9h0m77 2h0m-82 4h0m68-29h0m-50 41h0m16-10h0m-7-28h0m34 13h0m-7 11h0m-39 17h0m45-43h0m-57 32h0m55 5h0m-19-13h0m34-20h0m-1 21h0m-41-4h0m-4 7h0m-2-51h0m33 66h0m-7 4h0m11-37h0m-7 23h0m-42-43h0m-2 31h0m-30 28h0m48-16h0m5-24h0m-11-16h0m7 72h0m40-41h0m-55 2h0m54-6h0m-52 32h0m8-29h0m64 34h0m-78-43h0m79 15h0m-57-28h0m3 10h0m62-4h0m-43 12h0m-1 47h0m-56-16h0m37-30h0m-32 33h0m56-73h0m-23 47h0m-41-18h0m73 41h0m-30 8h0m6-58h0m4 10h0m-4 5h0m-76 36h0m41-36h0m75 26h0m-30-17h0m-39 33h0m-5-9h0m40-54h0m-35 20h0m-21 25h0m93-32h0m-61 13h0m50-2h0m-14 10h0m-61 20h0m34 0h0m-13-37h0m24 9h0m-24-2h0m49 50h0m-55-29h0m53-55h0m-23 42h0m-8 2h0m-57 26h0m101-68h0m-44 47h0m47-23h0m-56 45h0m28-17h0m-4-38h0m-32-4h0m29 38h0m-44-21h0m55-11h0m13 18h0m-29 14h0m34-4h0m-3-7h0m31-16h0m-91 33h0m55 20h0m3-42h0m-54 6h0m20 34h0m33-21h0m-84-20h0m36 33h0m5-29h0m9 5h0m1-27h0m15 45h0m-19-3h0m5-37h0m-4 46h0m-35-34h0m36-8h0m15 41h0m1-34h0m-49-32h0m13 37h0m42 5h0m-52 16h0m59-43h0m-74 34h0m32 0h0m-7-14h0m9-26h0m2 15h0m22 42h0m5-64h0m2 18h0m11 1h0m-88 50h0m73 3h0m-15-32h0m-7-1h0m-2 20h0m55-20h0m-106-20h0m84 16h0m-51-21h0m71 26h0m-89-17h0m61-10h0m-54-6h0m38 25h0m21 19h0m57-37h0m-117 2h0m14 20h0m13-10h0m20 35h0m-4-38h0m-45 5h0m15 8h0m26-3h0m0-31h0m9 76h0m-12-45h0m54-6h0m-64 14h0m-25-3h0m17 6h0m12-28h0m75 51h0m-85-25h0m27-8h0m9-27h0m34 2h0m-6 55h0m-73-35h0m83-8h0m-45 25h0m13-24h0m-32 61h0m43-58h0m-109-1h0m-42-11h0m64-2h0m-11 23h0m-49-28h0m63 54h0m-4-41h0m-13 45h0m-6 11h0m-33-15h0m-4-54h0m-1 2h0m54 35h0m8-12h0m-49-13h0m28 32h0m-39-50h0m38 47h0m-22 6h0m-14-49h0m53-1h0m-28 63h0m0-62h0m34 31h0m-49 35h0m11 0h0m23-37h0m-15-6h0m-24-16h0m-5 4h0m58-13h0m3 41h0m-36-30h0m14-13h0m22 30h0m-12-27h0m9 68h0m-26 12h0m25-82h0m-31 39h0m22 18h0m-32 5h0m5-53h0m9 41h0m13 18h0m-14-27h0m13-1h0m14-1h0m-50 37h0m4-59h0m50 52h0m-63-14h0m45-3h0m19-21h0m-72 15h0m57-13h0m-18-13h0m-34 20h0m28 43h0m13-78h0m148-66h0m-10 4h0m-114-20h0m-4 9h0m97-7h0m21-3h0m-124 24h0m0 21h0m60 6h0m78-32h0m-17 22h0m-15-17h0m-91-7h0m-22 45h0m121-5h0m-79-2h0m42-6h0m-43 9h0m88 4h0m-106-8h0m102 1h0m-80 12h0m-21-9h0m11-1h0m21-5h0m-33 24h0m54-28h0m0 11h0m15-10h0m-23 3h0m46-5h0m-90 9h0m61 15h0m36 4h0m-18-17h0m6-6h0m-26 7h0m-7-9h0m-9 2h0m-5 16h0m60-5h0m-42-6h0m-19 3h0m47-8h0m-83 14h0m82-5h0m-20 6h0m-67-17h0m27 17h0m-27-12h0m10 5h0m87-4h0m-61 18h0m-3-1h0m-32 82h0m5-1h0m87-15h0m-61 0h0m66 2h0m-77 18h0m9-15h0m74 11h0m-91-13h0m91 18h0m-20-14h0m-7-2h0m-45-10h0m59 3h0m-60 3h0m57 3h0m21 8h0m-92-6h0m-5 4h0m80-13h0m-9 16h0m-63-6h0m9-8h0m35 6h0m-63 17h0m77-3h0m13 1h0m-31-2h0m22-9h0m-72-7h0m10 12h0m21-13h0m63 18h0m-3-21h0m-39 12h0m-20-12h0m-36 5h0m82-7h0m-2 3h0m-59 15h0m-14 0h0m61-12h0m-53 1h0m0 5h0m5 10h0m81-1h0m-90-8h0m14 11h0m20-17h0m17 18h0m-24-19h0m7 9h0m-1-9h0m36 9h0m-6-5h0m-37-1h0m-18 10h0m62-17h0m-67 9h0m54 3h0m6 11h0m14-21h0m-83 14h0m18-12h0m-25 19h0m36-7h0m-34 1h0m69 5h0m-36-3h0m29-16h0m30-5h0m-71 16h0m-15-16h0m6 25h0m24-26h0m-11 14h0m43 5h0m-65 1h0m91 3h0m-65-2h0m-30 6h0m27-20h0m-9 15h0m72-3h0m-60 5h0m24 2h0m-14-7h0m-16-11h0m3 6h0m7-9h0"/><rect x="442.2" y="553.3" width="158.10" height="159.40" fill="none" stroke="#333" stroke-width="1.5"/><line x1="442.2" y1="552.5999999999999" x2="442.2" y2="713.4000000000001" stroke="#111" stroke-width="1.6"/><line x1="441.5" y1="712.7" x2="600.3" y2="712.7" stroke="#111" stroke-width="1.6"/><path d="M436.7 711.9H442.2M443.3 712.7V718.2M436.7 672.4H442.2M482.6 712.7V718.2M436.7 633.1H442.2M521.5 712.7V718.2M436.7 593.3H442.2M560.4 712.7V718.2M436.7 554.1H442.2M599.3 712.7V718.2" stroke="#000" stroke-width="1.8" fill="none"/><path d="M439.0 700.0H442.2M455.1 712.7V715.9000000000001M439.0 693.1H442.2M462.1 712.7V715.9000000000001M439.0 688.1H442.2M467.0 712.7V715.9000000000001M439.0 684.3H442.2M470.8 712.7V715.9000000000001M439.0 681.2H442.2M473.9 712.7V715.9000000000001M439.0 678.5H442.2M476.5 712.7V715.9000000000001M439.0 676.2H442.2M478.8 712.7V715.9000000000001M439.0 674.2H442.2M480.8 712.7V715.9000000000001M439.0 660.6H442.2M494.3 712.7V715.9000000000001M439.0 653.6H442.2M501.2 712.7V715.9000000000001M439.0 648.7H442.2M506.0 712.7V715.9000000000001M439.0 644.9H442.2M509.8 712.7V715.9000000000001M439.0 641.8H442.2M512.9 712.7V715.9000000000001M439.0 639.2H442.2M515.5 712.7V715.9000000000001M439.0 636.9H442.2M517.7 712.7V715.9000000000001M439.0 634.9H442.2M519.7 712.7V715.9000000000001M439.0 621.1H442.2M533.2 712.7V715.9000000000001M439.0 614.1H442.2M540.1 712.7V715.9000000000001M439.0 609.1H442.2M544.9 712.7V715.9000000000001M439.0 605.3H442.2M548.7 712.7V715.9000000000001M439.0 602.1H442.2M551.8 712.7V715.9000000000001M439.0 599.5H442.2M554.4 712.7V715.9000000000001M439.0 597.2H442.2M556.6 712.7V715.9000000000001M439.0 595.1H442.2M558.6 712.7V715.9000000000001M439.0 581.5H442.2M572.1 712.7V715.9000000000001M439.0 574.6H442.2M579.0 712.7V715.9000000000001M439.0 569.7H442.2M583.8 712.7V715.9000000000001M439.0 565.9H442.2M587.6 712.7V715.9000000000001M439.0 562.8H442.2M590.7 712.7V715.9000000000001M439.0 560.2H442.2M593.3 712.7V715.9000000000001M439.0 557.9H442.2M595.5 712.7V715.9000000000001M439.0 555.9H442.2M597.5 712.7V715.9000000000001" stroke="#000" stroke-width="1.3" fill="none"/><clipPath id="c5"><rect x="0" y="0" width="603" height="1151"/></clipPath><g clip-path="url(#c5)"><text transform="matrix(1.2800,0,0,0.9600,432.04,730.10)" font-size="10.0" fill="#2a2a2a">10</text><text transform="matrix(1.2800,0,0,0.9600,446.48,725.20)" font-size="10.0" fill="#2a2a2a">0</text><text transform="matrix(1.2800,0,0,0.9600,471.34,730.10)" font-size="10.0" fill="#2a2a2a">10</text><text transform="matrix(1.2800,0,0,0.9600,485.31,725.20)" font-size="10.0" fill="#2a2a2a">1</text><text transform="matrix(1.2800,0,0,0.9600,510.24,730.10)" font-size="10.0" fill="#2a2a2a">10</text><text transform="matrix(1.2800,0,0,0.9600,524.54,725.20)" font-size="10.0" fill="#2a2a2a">2</text><text transform="matrix(1.2800,0,0,0.9600,549.14,730.10)" font-size="10.0" fill="#2a2a2a">10</text><text transform="matrix(1.2800,0,0,0.9600,563.59,725.20)" font-size="10.0" fill="#2a2a2a">3</text><text transform="matrix(1.2800,0,0,0.9600,588.04,730.10)" font-size="10.0" fill="#2a2a2a">10</text><text transform="matrix(1.2800,0,0,0.9600,602.69,725.20)" font-size="10.0" fill="#2a2a2a">4</text></g><text transform="matrix(0,-0.9500,1.0400,0,433.00,720.36)" font-size="10.0" fill="#2a2a2a">10</text><text transform="matrix(0,-1.0450,1.1440,0,427.80,708.87)" font-size="10.0" fill="#2a2a2a">0</text><text transform="matrix(0,-0.9500,1.0400,0,433.00,680.86)" font-size="10.0" fill="#2a2a2a">10</text><text transform="matrix(0,-1.0450,1.1440,0,427.80,669.76)" font-size="10.0" fill="#2a2a2a">1</text><text transform="matrix(0,-0.9500,1.0400,0,433.00,641.56)" font-size="10.0" fill="#2a2a2a">10</text><text transform="matrix(0,-1.0450,1.1440,0,427.80,630.19)" font-size="10.0" fill="#2a2a2a">2</text><text transform="matrix(0,-0.9500,1.0400,0,433.00,601.76)" font-size="10.0" fill="#2a2a2a">10</text><text transform="matrix(0,-1.0450,1.1440,0,427.80,590.26)" font-size="10.0" fill="#2a2a2a">3</text><text transform="matrix(0,-0.9500,1.0400,0,433.00,562.56)" font-size="10.0" fill="#2a2a2a">10</text><text transform="matrix(0,-1.0450,1.1440,0,427.80,550.90)" font-size="10.0" fill="#2a2a2a">4</text><text transform="matrix(1.1074,0,0,0.9882,490.14,740.00)" font-size="10.0" font-weight="normal" fill="#2a2a2a">CD3 PerCP</text><path d="M477.5 551.3h3" stroke="#999" stroke-width="0.9"/><text transform="matrix(0,-1.0121,1.1887,0,418.20,658.71)" font-size="10.0" font-weight="normal" fill="#2a2a2a">CD19 APC</text><text transform="matrix(1.1542,0,0,1.1314,561.95,645.80)" font-size="10.0" font-weight="normal" fill="#222">R3</text><ellipse cx="550.8" cy="687" rx="18.4" ry="26" fill="none" stroke="#000" stroke-width="1.9"/><path d="M443.0 880.0L452.0 886.0L465.0 889.0L475.0 893.0L479.0 900.0L478.0 924.0L443.0 924.0z" fill="#ff2ea0"/><path d="M443.0 954.0L462.0 956.0L471.0 962.0L472.0 992.0L443.0 992.0z" fill="#ff2ea0"/><path transform="scale(0.5)" stroke="#fff" stroke-width="2.4" stroke-linecap="square" fill="none" d="M932 1793h0m-17 18h0m-1 26h0m-8 4h0m-19-77h0m19 69h0m16-1h0m-32 8h0m54-38h0m-57-5h0m6 49h0m-1-12h0m8-23h0m-9-37h0m35 71h0m12-10h0m-7-41h0m-21 15h0m7 3h0"/><path transform="scale(0.5)" stroke="#fff" stroke-width="2.4" stroke-linecap="square" fill="none" d="M922 1930h0m-27 47h0m15-14h0m2 6h0m22 9h0m-42-27h0m43-2h0m-15-14h0m2 44h0m-6-43h0m-20 15h0m8-3h0m15-13h0m24 29h0m-43-15h0"/><path transform="scale(0.5)" stroke="#ff2ea0" stroke-width="2.7" stroke-linecap="square" fill="none" d="M890 1797h0m36-21h0m3 53h0m-23-45h0m49 29h0m-29 26h0m-15-19h0m16 18h0m19-32h0m-19-3h0m-5 26h0m-11-38h0m-14 45h0m6 7h0m3-64h0m37 28h0m-33 1h0m43 38h0m4-44h0m-58-12h0m57 28h0m-36-37h0m-17 13h0m52 33h0m-55-40h0m49 13h0m-50 26h0m4 14h0m-16-16h0m46 22h0m-42-78h0m53 74h0m-54-49h0m1 30h0m59-5h0m2 11h0m-53 4h0m-4-29h0m20-1h0m7 17h0m3 4h0m-21 5h0m21-4h0m13-35h0m6 20h0m-36 24h0m30-51h0m20 31h0m-44-5h0m34-9h0m-38-8h0m-2 37h0m41-1h0m-21 17h0m-31-18h0m14-32h0m-1-4h0m31 19h0m-13 15h0m-40 20h0m52-27h0m5-22h0m-40 38h0m-4 13h0m20-59h0m-19-8h0m16 33h0m7 20h0m-24 11h0m5-62h0m1 27h0m-2 12h0m28 17h0m-11-14h0m35-1h0m-57-4h0m50 18h0m-25-57h0m12 2h0m-33 63h0m6-57h0m35 44h0m7 3h0m-44 5h0m16-8h0m-33-48h0m27 60h0m-8-12h0m15-53h0m-10-1h0m-11 20h0m32 7h0m-19-16h0m-29 45h0m50-32h0m-18 20h0m-13-41h0m-17 1h0m5 32h0m47 2h0m-56 4h0m19-8h0m33 27h0m-44-38h0m5 14h0m13-18h0m-12-23h0m15 13h0m-23 60h0m-3-30h0m42-21h0m-40-12h0m49 38h0m-48 6h0m9-58h0m20 22h0m31 0h0m-38 21h0m28-20h0m-24-16h0m-16 4h0m33 37h0m-16 28h0m-19-54h0m30 24h0m-15 2h0m22-19h0m-29-5h0m6 29h0m-4-27h0m3-17h0m-3 35h0m28 9h0m-18 5h0m3-40h0m30 21h0m-62-7h0m62 21h0m-43-7h0m12 24h0m25-26h0m1-7h0m-25 35h0m34-31h0m-64 32h0m50-12h0m-41-59h0m34 54h0m-40 10h0m23-43h0m5 23h0m2-22h0m-27 18h0m49-1h0m-51-37h0m32 12h0m-18 0h0m2 11h0m22 13h0m5 6h0m-40 10h0m1-24h0m41-1h0m-21 12h0m33 11h0m-19-25h0m14 51h0m-62-57h0m14 37h0m42-28h0m-10 8h0m-32 37h0m53-50h0m-32 43h0m-14-3h0m-1-10h0m30-30h0m-9 28h0m8 15h0m-27-16h0m35 23h0m-4-6h0m-46 8h0m33-40h0m4-16h0m1 21h0m-23 35h0m6-65h0m-9-1h0m43 64h0m-20-30h0m29-4h0m-15-17h0m3 8h0m14 0h0m-57 5h0m35-16h0m-10 52h0m24 0h0m-32-5h0m5 2h0m-33-34h0m26-15h0m-8 20h0m40-3h0m-41-18h0m1 34h0m26-23h0m-19 2h0m-10 29h0m-9-18h0m4-26h0m55 19h0m-32 14h0m-7-28h0m-22 21h0m53-6h0m-34-18h0m-26 32h0m1-20h0m31 168h0m13-38h0m-5 49h0m-37-58h0m17-15h0m-16 31h0m9-25h0m38 22h0m-16-23h0m-27 41h0m8-39h0m-10 62h0m7-3h0m5-4h0m31-30h0m-51 38h0m24-29h0m-16-9h0m7-27h0m6 38h0m-1-31h0m4 40h0m-13-46h0m-2 53h0m26-51h0m-3 5h0m-26 55h0m8-67h0m-12-3h0m7 8h0m14 59h0m1-14h0m20-5h0m-5 12h0m4 8h0m-20-37h0m-10-19h0m-2 23h0m32-15h0m-1-11h0m5 58h0m-34-40h0m7 32h0m-8-37h0m28 1h0m-13 33h0m19 18h0m-29-8h0m12-8h0m1-35h0m21 6h0m-43 21h0m24 15h0m-9-44h0m16 2h0m7 24h0m-14-36h0m6 54h0m-16-49h0m32 10h0m-31 38h0m26-4h0m-19-18h0m26 6h0m-44 9h0m11-46h0m-23 38h0m47-38h0m-46 63h0m31-20h0m-1-2h0m10-16h0m-20 24h0m16 13h0m-36-9h0m46 0h0m-23 7h0m-16-35h0m-6 11h0m4-35h0m-2 20h0m37 23h0m-17 17h0m20-4h0m-39-28h0m33-18h0m-9 13h0m-21 7h0m34-31h0m-7 39h0m19 20h0m-14-30h0m-5 21h0m17-44h0m-30 21h0m-19-3h0m13-1h0m8 5h0m-16-35h0m46 28h0m-2 40h0m0-44h0m-26-13h0m0 7h0m-23 32h0m10-31h0m4 27h0m-13 3h0m22-4h0m7-20h0m-7 34h0m2 7h0m-27-18h0m23-43h0m-13 44h0m40 5h0m-39-28h0m8 11h0m19 20h0m-26-48h0m-9 2h0m4 35h0m10-35h0m4 3h0m27 31h0m-34-9h0m29 24h0m-27-25h0m11-23h0m1 30h0m5-8h0m-23-19h0m15 46h0m-10 9h0m22-14h0m-10-1h0m-5-34h0m-18 34h0m28-13h0m-8 29h0m9-70h0m-5 1h0m-11 54h0m39-35h0m-39 50h0m27-60h0m-44 51h0m1-20h0m2-22h0m11-4h0m18-5h0m13 18h0m5 3h0m-51 3h0m48 19h0m3 15h0m-10-7h0m-28-12h0m17-24h0m4-19h0m-30 49h0m45 7h0m-23-27h0m16-23h0m2 18h0m-16 24h0m-7-34h0m-4 35h0m21-26h0m-2 29h0m-16-37h0m-19 48h0m5-2h0m-2-51h0m26 12h0m-25 40h0m8-45h0m-6-9h0m29 17h0m-33 33h0m-3 3h0m29-40h0m11 0h0m-7 6h0m-3-6h0m6-27h0m-23 11h0m25 43h0m-18-7h0m-1-40h0m-8 5h0m-8 12h0m49-10h0m-31 28h0m-5 20h0m8-56h0m-8 37h0m15 5h0m0 15h0m-17-67h0m6 40h0m36-21h0m-15 2h0m-5 15h0m-34-14h0m14 28h0m39 15h0m-47-51h0m11 27h0m-9 30h0m14-35h0m21 19h0m-26 8h0m-7-55h0m0 28h0m61-98h0m0-15h0m-24-57h0m-34-11h0m5 6h0m39 80h0m20-48h0m-51-35h0m18 11h0m18 76h0m-53-2h0m60-31h0m-7-40h0m-37-9h0m45 26h0m-13 52h0m-41-1h0m57 1h0m-12-71h0m-31-13h0m-14 84h0m53-5h0m-53-75h0m-12-9h0m47 92h0m-25-80h0m-9 78h0m41-70h0m13 24h0m-52-37h0m51 55h0m7-1h0m-9 15h0m3 5h0m-55 9h0m15-77h0m20 75h0m-45-1h0m37-71h0m23 4h0m-27 68h0m35-28h0m-35-47h0m34 39h0m7-10h0m-49 46h0m37-53h0m-50-24h0m51 76h0m0-43h0m-1 38h0m-36 6h0m-13 3h0m1-3h0m49-26h0m-33-47h0m-31-22h0m20 96h0m26-73h0m9-8h0m10 34h0m0-8h0m-22-15h0m8 69h0m13-12h0m-34-63h0m-27-17h0m46 25h0m-7-3h0m5 71h0m6 1h0m-12-1h0m5-74h0m-17 75h0m34-55h0m-29 57h0m-27 1h0m35-6h0m24-16h0m-31 19h0m-32 7h0m29-4h0m-37-3h0m5-92h0m21 3h0m21 14h0m-10-1h0m-1 1h0m33 21h0m-37-21h0m40 25h0m-3 13h0m-41 35h0m-21 0h0m32-83h0m33 58h0m-50 26h0m6-78h0m42 42h0m-69-53h0m37 8h0m7 9h0m-24 71h0m32-78h0m-23 78h0m-15 1h0m-15 5h0m71-27h0m-65 22h0m9-83h0m26 5h0m33 34h0m-4-3h0m-7-14h0m-49-17h0m13 82h0m42-20h0m-62 17h0m37-81h0m30 38h0m-22-27h0m-24 77h0m-8-7h0m49-17h0m-47-63h0m12 4h0m32 3h0m-9 0h0m4 4h0m-17-5h0m-28-7h0m28 8h0m22 17h0m-64 63h0m11-101h0m44 175h0m0-4h0m2 10h0m-13-21h0m-1 0h0m5 1h0m-7-2h0m-45-13h0m29 3h0m-28-7h0m60 64h0m-6-39h0m-47-27h0m26 12h0m31 65h0m-28-64h0m-34-3h0m1 1h0m54 31h0m-39-31h0m21-1h0m-10 3h0m35 41h0m-57-51h0m43 19h0m-49-12h0m57 8h0m0 24h0m-2 10h0m-42-40h0m35-5h0m-50-1h0m48 14h0m8 19h0m-29-26h0m33 61h0m-38-66h0m29 14h0m8 5h0m-20-11h0m-26-6h0m49 40h0m1 31h0m-36-70h0m22 11h0m10 56h0m-3-32h0m1 5h0m0 11h0m-57-60h0m8 2h0m50 40h0m-38-40h0m19 7h0m2 7h0m0-2h0m3 2h0m-18-6h0m16 6h0m-16-6h0m38 53h0m-59-59h0m46 14h0m-27-8h0m36 0h0m0 55h0m-6-44h0m3 54h0m-47-66h0m52 42h0m5 19h0m-10-33h0m-53-31h0m31 1h0m-9 0h0m36 55h0m-3 19h0m-55-75h0m53 39h0m5 4h0m-1 15h0m-2-3h0m2-29h0m-29-22h0m27 37h0m-53-41h0m-6-16h0m12 0h0m52-10h0m-29 23h0m22-39h0m-9 15h0m-17-18h0m19 28h0m-45-1h0m-2-26h0m25 7h0m-25-10h0m41 0h0m1 31h0m-30 14h0m39-3h0m-28-43h0m42-6h0m-66 55h0m3-13h0m62 0h0m-22-45h0m-12 45h0m-6-8h0m-26-27h0m29 24h0m15-12h0m21 22h0m-3-1h0m-48-24h0m0 18h0m5 11h0m18 3h0m-27-10h0m26-25h0m-4 22h0m-14 5h0m-19-30h0m11 28h0m2 18h0m29-7h0m24 2h0m-37-42h0m19 4h0m16 37h0m-5-47h0m-8 24h0m16 20h0m-9 4h0m-58-17h0m56-13h0m-15 3h0m-6 23h0m-7-39h0m-24-2h0m30-2h0m6 45h0m29-4h0m-28-16h0m-35-25h0m55 16h0m-49 6h0m33 25h0m7-14h0m-31-24h0m29 21h0m16-33h0m-4 11h0m-52 5h0m16 19h0m28-17h0m0 28h0m4 11h0m-14-46h0m-28 34h0m29-13h0m-3 20h0m-33-49h0m21-7h0m5 27h0m-35-2h0m31 3h0m-6-16h0m18 10h0m-5 16h0m-16-16h0m40-7h0m-58 4h0m5 32h0m50-48h0m9 58h0m-39-59h0m13 38h0m15-23h0m1 4h0m-5 3h0m-21 14h0m34 7h0m-11-11h0m-21-16h0m15 4h0m-23-17h0m-8 41h0m46 12h0m-35 3h0m-1-38h0m-14 23h0m-15-22h0m56-3h0m-16-9h0m-22 5h0m13-15h0m23 46h0m-36-3h0m24 5h0m-36-21h0m56 26h0m-12-21h0m-39-6h0m29 29h0m26-26h0m-11-7h0m-25 17h0m4 14h0m18-54h0m-6 54h0m7-21h0m-24 2h0m-23 16h0m62-4h0m-6-5h0m-59-21h0m3 21h0m-2-32h0m53 29h0m10-34h0m-25 31h0m15-21h0m-55 2h0m16 34h0m20-13h0m-20 5h0m40-18h0m-9 5h0m-31 25h0m-14 0h0m50-35h0m11-4h0m-21 29h0m-14-1h0m0-29h0m24 24h0m7-18h0m-31-17h0m12-3h0m-19 1h0m21 49h0m-20-49h0m32 51h0m-27-4h0m-19-40h0m37 18h0m-7-17h0m-16 25h0m-13 18h0m25-27h0m0-17h0m-1 13h0m-15-15h0m-4 26h0m-13-2h0m14-3h0m-12-27h0m31 0h0m14 15h0m-27 45h0m26-5h0m-3-12h0m16 10h0m-2-27h0m-1 30h0m9-49h0m-46 0h0m25 42h0m-20-41h0m11 37h0m-19 5h0m49-19h0m-22-3h0m-42-11h0m57 32h0m-3-47h0m-17 54h0m-8-41h0m-1-10h0m5 21h0m1-19h0m28 42h0m-25-26h0m-38 26h0m51-3h0m-27-40h0m-16 21h0m11 26h0m31-15h0m-4-39h0m-42 7h0m49 17h0m-12 33h0m-30-53h0m0 40h0m53-18h0m-48 26h0m29-42h0m-25 0h0m44 35h0m1-35h0m-58 10h0m-7 2h0m16 24h0m40-21h0m-38-8h0m-5 10h0m-4 22h0m26-8h0m-9-13h0m11-7h0m-33-2h0m58 20h0m-56-10h0m23-6h0m0-23h0m5 33h0m-21 11h0m53-35h0m-4 32h0m-24-35h0m-5 20h0m13 18h0m-29 2h0m30-35h0m-7 4h0m20 1h0m3-16h0m-43 19h0m28 6h0m-40-6h0m47-13h0m-7 20h0m16 23h0m-49 3h0m14-15h0m14 5h0m-3-7h0m-12 11h0m7 10h0m-21-9h0m17-22h0m-10 12h0m-19-25h0m28 42h0m-17-54h0m2 35h0m-2 9h0m-4-30h0m52 17h0m-40 3h0m-2-1h0m-15-6h0m29 17h0m-20 3h0m6-20h0m-1-21h0m-19 35h0m-1 12h0m19-15h0m1 18h0m-15-24h0m0 3h0m-5-28h0m13 20h0m2-15h0m-6 20h0m0-25h0m7 27h0m7-2h0m-15-21h0m14 2h0m-10-10h0m7 33h0m1-20h0m-8 19h0m-4 8h0m-8-37h0m13 8h0m3 11h0m-11 32h0m13-1h0m4-8h0m0-33h0m-16 45h0m2-33h0m-4 1h0m2-2h0m8 26h0m-14 8h0m3-46h0m10 28h0m-8 16h0m18-5h0m-21-35h0m5 36h0m-7-35h0m9 6h0m13-8h0m-14 22h0m-3 16h0m0 3h0m12-7h0m0-49h0m-14 57h0m4-2h0m10-2h0m1-12h0m-17 8h0m6-31h0m1 6h0m-9-1h0m16 25h0m7-16h0m-10 18h0m-13-36h0m11-4h0m4-13h0m-3 62h0m5-34h0m-6-8h0m10-20h0m0 29h0m-3-20h0m5 41h0m-14-26h0m5 18h0m5-15h0m-1 26h0m3-4h0m-20-14h0m-1-7h0m22 5h0m-6-18h0m71 13h0m14 2h0m-15 3h0m37-17h0m-22 23h0m-18-16h0m24-1h0m11 5h0m-19-43h0m3 58h0m-16-45h0m40 19h0m-26 13h0m9-11h0m0 15h0m-8-10h0m-5 6h0m-11-21h0m44 33h0m-20-20h0m28 29h0m-4-37h0m1 5h0m-41 7h0m45-4h0m-34 21h0m-7-3h0m22-3h0m23-2h0m-39 2h0m32-11h0m-18-30h0m-34 38h0m22-7h0m-20-12h0m-22-1h0m26 1h0m28 29h0m-5 5h0m2-29h0m11 6h0m-43-12h0m11 21h0m33-17h0m-26 42h0m-19-13h0m5-37h0m23 8h0m5 8h0m-10 2h0m-14 17h0m26-10h0m-27-23h0m23 24h0m-3-29h0m-13 35h0m43-4h0m-69-8h0m75-10h0m-44 3h0m-9 4h0m-4 9h0m-1-12h0m3 4h0m13-23h0m-8 9h0m13-7h0m-8 21h0m23 10h0m-37-14h0m25 17h0m-24-18h0m-11 41h0m-14-43h0m30 6h0m-8-4h0m35 0h0m-6 15h0m-19-15h0m2 8h0m10-9h0m-7 7h0m39 18h0m-33-16h0m-5 17h0m12-27h0m-2 18h0m8 12h0m-1-16h0m0-4h0m6-87h0m1 8h0m-7-11h0m-7 6h0m-28 23h0m11-18h0m-3 49h0m17-39h0m-3 14h0m-9-13h0m41-12h0m-24 3h0m15 9h0m0 6h0m-28-35h0m68 173h0m-20-126h0m-73-27h0m22 119h0m18-86h0m18 113h0m-50-95h0m66-22h0"/><rect x="442.8" y="828.5" width="158.20" height="164.10" fill="none" stroke="#333" stroke-width="1.5"/><line x1="442.8" y1="827.8" x2="442.8" y2="993.3000000000001" stroke="#111" stroke-width="1.6"/><line x1="442.1" y1="992.6" x2="601" y2="992.6" stroke="#111" stroke-width="1.6"/><path d="M437.3 992.7H442.8M443.6 992.6V998.1M437.3 952.5H442.8M482.2 992.6V998.1M437.3 912.2H442.8M521.0 992.6V998.1M437.3 870.8H442.8M559.9 992.6V998.1M437.3 829.7H442.8M598.8 992.6V998.1" stroke="#000" stroke-width="1.8" fill="none"/><path d="M439.6 980.6H442.8M455.2 992.6V995.8000000000001M439.6 973.5H442.8M462.0 992.6V995.8000000000001M439.6 968.5H442.8M466.8 992.6V995.8000000000001M439.6 964.6H442.8M470.6 992.6V995.8000000000001M439.6 961.4H442.8M473.6 992.6V995.8000000000001M439.6 958.7H442.8M476.2 992.6V995.8000000000001M439.6 956.4H442.8M478.5 992.6V995.8000000000001M439.6 954.3H442.8M480.4 992.6V995.8000000000001M439.6 940.4H442.8M493.9 992.6V995.8000000000001M439.6 933.3H442.8M500.7 992.6V995.8000000000001M439.6 928.2H442.8M505.6 992.6V995.8000000000001M439.6 924.3H442.8M509.3 992.6V995.8000000000001M439.6 921.1H442.8M512.4 992.6V995.8000000000001M439.6 918.4H442.8M515.0 992.6V995.8000000000001M439.6 916.1H442.8M517.2 992.6V995.8000000000001M439.6 914.0H442.8M519.2 992.6V995.8000000000001M439.6 899.7H442.8M532.7 992.6V995.8000000000001M439.6 892.4H442.8M539.6 992.6V995.8000000000001M439.6 887.3H442.8M544.4 992.6V995.8000000000001M439.6 883.3H442.8M548.2 992.6V995.8000000000001M439.6 880.0H442.8M551.3 992.6V995.8000000000001M439.6 877.2H442.8M553.9 992.6V995.8000000000001M439.6 874.8H442.8M556.1 992.6V995.8000000000001M439.6 872.7H442.8M558.1 992.6V995.8000000000001M439.6 858.4H442.8M571.6 992.6V995.8000000000001M439.6 851.2H442.8M578.5 992.6V995.8000000000001M439.6 846.1H442.8M583.3 992.6V995.8000000000001M439.6 842.1H442.8M587.1 992.6V995.8000000000001M439.6 838.8H442.8M590.2 992.6V995.8000000000001M439.6 836.1H442.8M592.8 992.6V995.8000000000001M439.6 833.7H442.8M595.0 992.6V995.8000000000001M439.6 831.6H442.8M597.0 992.6V995.8000000000001" stroke="#000" stroke-width="1.3" fill="none"/><clipPath id="c6"><rect x="0" y="0" width="602.3" height="1151"/></clipPath><g clip-path="url(#c6)"><text transform="matrix(1.1600,0,0,0.9300,433.63,1006.90)" font-size="10.0" fill="#2a2a2a">10</text><text transform="matrix(1.1020,0,0,0.8835,447.55,1003.70)" font-size="10.0" fill="#2a2a2a">0</text><text transform="matrix(1.1600,0,0,0.9300,472.23,1006.90)" font-size="10.0" fill="#2a2a2a">10</text><text transform="matrix(1.1020,0,0,0.8835,485.74,1003.70)" font-size="10.0" fill="#2a2a2a">1</text><text transform="matrix(1.1600,0,0,0.9300,511.03,1006.90)" font-size="10.0" fill="#2a2a2a">10</text><text transform="matrix(1.1020,0,0,0.8835,524.83,1003.70)" font-size="10.0" fill="#2a2a2a">2</text><text transform="matrix(1.1600,0,0,0.9300,549.93,1006.90)" font-size="10.0" fill="#2a2a2a">10</text><text transform="matrix(1.1020,0,0,0.8835,563.86,1003.70)" font-size="10.0" fill="#2a2a2a">3</text><text transform="matrix(1.1600,0,0,0.9300,588.83,1006.90)" font-size="10.0" fill="#2a2a2a">10</text><text transform="matrix(1.1020,0,0,0.8835,602.93,1003.70)" font-size="10.0" fill="#2a2a2a">4</text></g><text transform="matrix(0,-0.9500,0.9900,0,433.90,999.66)" font-size="10.0" fill="#2a2a2a">10</text><text transform="matrix(0,-1.0070,1.0494,0,429.20,989.06)" font-size="10.0" fill="#2a2a2a">0</text><text transform="matrix(0,-0.9500,0.9900,0,433.90,959.46)" font-size="10.0" fill="#2a2a2a">10</text><text transform="matrix(0,-1.0070,1.0494,0,429.20,949.23)" font-size="10.0" fill="#2a2a2a">1</text><text transform="matrix(0,-0.9500,0.9900,0,433.90,919.16)" font-size="10.0" fill="#2a2a2a">10</text><text transform="matrix(0,-1.0070,1.0494,0,429.20,908.67)" font-size="10.0" fill="#2a2a2a">2</text><text transform="matrix(0,-0.9500,0.9900,0,433.90,877.76)" font-size="10.0" fill="#2a2a2a">10</text><text transform="matrix(0,-1.0070,1.0494,0,429.20,867.15)" font-size="10.0" fill="#2a2a2a">3</text><text transform="matrix(0,-0.9500,0.9900,0,433.90,836.66)" font-size="10.0" fill="#2a2a2a">10</text><text transform="matrix(0,-1.0070,1.0494,0,429.20,825.90)" font-size="10.0" fill="#2a2a2a">4</text><text transform="matrix(0,-0.7436,1.2245,0,419.80,928.18)" font-size="10.0" font-weight="normal" fill="#2a2a2a">CD8 FITC</text><text transform="matrix(1.1373,0,0,0.9166,507.36,1016.80)" font-size="10.0" font-weight="normal" fill="#2a2a2a">0201</text><line x1="480.8" y1="828.5" x2="480.8" y2="992.6" stroke="#000" stroke-width="1.9"/><line x1="442.8" y1="926" x2="601" y2="926" stroke="#000" stroke-width="1.6"/><circle cx="501.9" cy="906.5" r="19.3" fill="none" stroke="#000" stroke-width="1.9"/><text transform="matrix(1.7713,0,0,1.9477,514.51,887.30)" font-size="10.0" font-weight="normal" fill="#000" stroke="#000" stroke-width="0.2">0.94%</text><text transform="matrix(2.6069,0,0,2.8434,9.94,1119.10)" font-size="10.0" font-weight="bold" fill="#111" stroke="#111" stroke-width="0.32">a</text><text transform="matrix(2.5600,0,0,2.5531,361.11,1123.10)" font-size="10.0" font-weight="bold" fill="#111" stroke="#111" stroke-width="0.3">b</text><text transform="matrix(1.7759,0,0,1.7500,45.94,1118.30)" font-size="10.0" fill="#111" stroke="#111" stroke-width="0.22">HLA-A*0201</text><text transform="matrix(1.6979,0,0,1.7500,153.59,1118.30)" font-size="10.0" fill="#111" stroke="#111" stroke-width="0.22">group</text><text transform="matrix(1.8835,0,0,1.7500,221.59,1118.30)" font-size="10.0" fill="#111" stroke="#111" stroke-width="0.22">patient</text><text transform="matrix(1.8873,0,0,1.7500,286.40,1118.30)" font-size="10.0" fill="#111" stroke="#111" stroke-width="0.22">at</text><text transform="matrix(2.7307,0,0,1.7500,200.41,1118.30)" font-size="10.0" fill="#111" stroke="#111" stroke-width="0.22">:</text><text transform="matrix(1.7429,0,0,1.7500,45.75,1146.70)" font-size="10.0" fill="#111" stroke="#111" stroke-width="0.22">+60days</text><text transform="matrix(1.9620,0,0,1.7500,116.67,1146.70)" font-size="10.0" fill="#111" stroke="#111" stroke-width="0.22">after</text><text transform="matrix(1.6859,0,0,1.7500,160.23,1146.70)" font-size="10.0" fill="#111" stroke="#111" stroke-width="0.22">haplo-HSCT</text><text transform="matrix(1.7999,0,0,1.7500,384.52,1123.40)" font-size="10.0" fill="#111" stroke="#111" stroke-width="0.22">HLA-A*0201</text><text transform="matrix(1.7424,0,0,1.7500,488.77,1123.40)" font-size="10.0" fill="#111" stroke="#111" stroke-width="0.22">group</text><text transform="matrix(1.7902,0,0,1.7500,556.31,1123.40)" font-size="10.0" fill="#111" stroke="#111" stroke-width="0.22">negative</text><text transform="matrix(1.8637,0,0,1.7500,629.01,1123.40)" font-size="10.0" fill="#111" stroke="#111" stroke-width="0.22">control</text><text transform="matrix(2.7307,0,0,1.7500,536.11,1123.40)" font-size="10.0" fill="#111" stroke="#111" stroke-width="0.22">:</text></svg></body></html>
